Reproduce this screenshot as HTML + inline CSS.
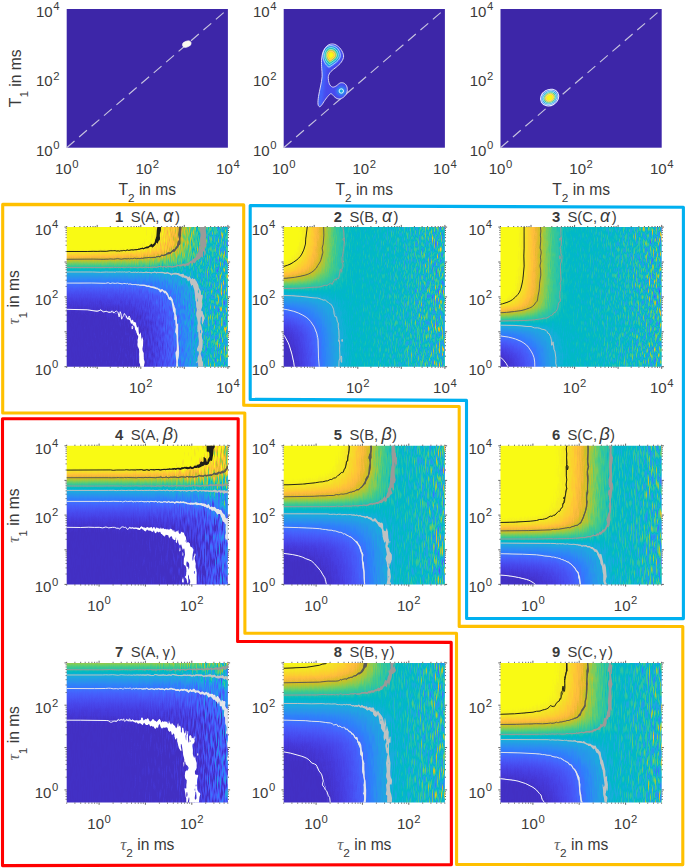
<!DOCTYPE html><html><head><meta charset="utf-8"><style>html,body{margin:0;padding:0;background:#fff}svg{display:block}text{font-family:"Liberation Sans",sans-serif;fill:#3a3a3a}</style></head><body>
<svg width="685" height="868" viewBox="0 0 685 868">
<defs><filter id="hma" x="0" y="0" width="1" height="1" color-interpolation-filters="sRGB">
<feColorMatrix in="SourceGraphic" type="matrix" values="1 0 0 0 0 1 0 0 0 0 1 0 0 0 0 0 0 0 0 1" result="A"/>
<feColorMatrix in="SourceGraphic" type="matrix" values="0 1 0 0 0 0 1 0 0 0 0 1 0 0 0 0 0 0 0 1" result="B"/>
<feColorMatrix in="SourceGraphic" type="matrix" values="0 0 1 0 0 0 0 1 0 0 0 0 1 0 0 0 0 0 0 1" result="M"/>
<feComposite in="A" in2="B" operator="arithmetic" k1="1" k2="0" k3="-0.5" k4="0.465" result="S"/>
<feTurbulence type="fractalNoise" baseFrequency="0.71 0.15" numOctaves="1" seed="4"/><feColorMatrix type="matrix" values="1 0 0 0 0 1 0 0 0 0 1 0 0 0 0 0 0 0 0 1" result="T1"/>
<feTurbulence type="fractalNoise" baseFrequency="0.93 0.19" numOctaves="1" seed="9"/><feColorMatrix type="matrix" values="1 0 0 0 0 1 0 0 0 0 1 0 0 0 0 0 0 0 0 1" result="T2"/>
<feComposite in="T1" in2="T2" operator="arithmetic" k1="0" k2="0.7" k3="0.7" k4="-0.2" result="N"/>
<feComposite in="M" in2="N" operator="arithmetic" k1="1" k2="-0.5" k3="0" k4="0.5" result="Q"/>
<feComposite in="S" in2="Q" operator="arithmetic" k1="0" k2="1" k3="2" k4="-1" result="SN"/>
<feComponentTransfer in="SN"><feFuncR type="table" tableValues=".260 .263 .266 .269 .271 .273 .275 .277 .278 .279 .280 .281 .281 .281 .281 .281 .280 .279 .278 .276 .273 .270 .266 .262 .255 .248 .239 .228 .218 .207 .196 .190 .184 .181 .179 .178 .177 .175 .171 .167 .160 .154 .150 .146 .143 .139 .134 .128 .121 .115 .109 .101 .093 .081 .069 .051 .034 .020 .008 .004 .006 .025 .049 .082 .111 .139 .158 .176 .189 .203 .217 .236 .258 .285 .315 .346 .377 .409 .443 .479 .515 .550 .584 .619 .652 .685 .717 .748 .778 .807 .835 .861 .886 .910 .932 .953 .973 .987 .996 .997 .996 .995 .991 .986 .979 .972 .966 .962 .960 .960 .962 .964 .968 .973 .977 .977 .977 .977 .977 .977 .977 .977 .977 .977 .977 .977 .977 .977"/><feFuncG type="table" tableValues=".187 .195 .202 .210 .218 .227 .236 .246 .256 .266 .276 .286 .297 .307 .317 .327 .337 .347 .357 .367 .377 .388 .398 .409 .419 .430 .441 .452 .463 .474 .485 .496 .506 .516 .526 .536 .545 .555 .564 .573 .582 .591 .600 .608 .617 .625 .634 .642 .650 .658 .666 .674 .681 .688 .695 .701 .707 .713 .718 .723 .730 .736 .742 .748 .753 .758 .763 .769 .774 .779 .785 .789 .793 .797 .799 .801 .802 .803 .802 .801 .798 .795 .792 .787 .782 .777 .771 .765 .759 .753 .747 .741 .736 .732 .730 .729 .730 .738 .749 .763 .777 .792 .807 .822 .837 .853 .868 .884 .899 .914 .929 .943 .957 .972 .984 .984 .984 .984 .984 .984 .984 .984 .984 .984 .984 .984 .984 .984"/><feFuncB type="table" tableValues=".766 .786 .806 .825 .842 .858 .873 .886 .899 .909 .920 .929 .938 .946 .953 .961 .967 .973 .978 .983 .987 .990 .992 .994 .996 .998 .998 .998 .996 .993 .989 .985 .980 .975 .970 .963 .956 .948 .941 .934 .927 .921 .915 .908 .903 .899 .894 .890 .885 .880 .874 .866 .858 .849 .840 .829 .819 .808 .796 .785 .769 .753 .736 .720 .703 .686 .668 .650 .631 .612 .591 .569 .547 .524 .499 .474 .448 .421 .393 .367 .340 .313 .287 .260 .237 .215 .195 .178 .163 .157 .156 .159 .170 .183 .203 .222 .239 .238 .233 .222 .212 .201 .193 .185 .177 .170 .162 .156 .149 .142 .132 .122 .109 .094 .081 .081 .081 .081 .081 .081 .081 .081 .081 .081 .081 .081 .081 .081"/></feComponentTransfer>
</filter><filter id="hmb" x="0" y="0" width="1" height="1" color-interpolation-filters="sRGB">
<feColorMatrix in="SourceGraphic" type="matrix" values="1 0 0 0 0 1 0 0 0 0 1 0 0 0 0 0 0 0 0 1" result="A"/>
<feColorMatrix in="SourceGraphic" type="matrix" values="0 1 0 0 0 0 1 0 0 0 0 1 0 0 0 0 0 0 0 1" result="B"/>
<feColorMatrix in="SourceGraphic" type="matrix" values="0 0 1 0 0 0 0 1 0 0 0 0 1 0 0 0 0 0 0 1" result="M"/>
<feComposite in="A" in2="B" operator="arithmetic" k1="1" k2="0" k3="-0.5" k4="0.465" result="S"/>
<feTurbulence type="fractalNoise" baseFrequency="0.71 0.09" numOctaves="1" seed="7"/><feColorMatrix type="matrix" values="1 0 0 0 0 1 0 0 0 0 1 0 0 0 0 0 0 0 0 1" result="T1"/>
<feTurbulence type="fractalNoise" baseFrequency="0.93 0.12" numOctaves="1" seed="12"/><feColorMatrix type="matrix" values="1 0 0 0 0 1 0 0 0 0 1 0 0 0 0 0 0 0 0 1" result="T2"/>
<feComposite in="T1" in2="T2" operator="arithmetic" k1="0" k2="0.7" k3="0.7" k4="-0.2" result="N"/>
<feComposite in="M" in2="N" operator="arithmetic" k1="1" k2="-0.5" k3="0" k4="0.5" result="Q"/>
<feComposite in="S" in2="Q" operator="arithmetic" k1="0" k2="1" k3="2" k4="-1" result="SN"/>
<feComponentTransfer in="SN"><feFuncR type="table" tableValues=".260 .263 .266 .269 .271 .273 .275 .277 .278 .279 .280 .281 .281 .281 .281 .281 .280 .279 .278 .276 .273 .270 .266 .262 .255 .248 .239 .228 .218 .207 .196 .190 .184 .181 .179 .178 .177 .175 .171 .167 .160 .154 .150 .146 .143 .139 .134 .128 .121 .115 .109 .101 .093 .081 .069 .051 .034 .020 .008 .004 .006 .025 .049 .082 .111 .139 .158 .176 .189 .203 .217 .236 .258 .285 .315 .346 .377 .409 .443 .479 .515 .550 .584 .619 .652 .685 .717 .748 .778 .807 .835 .861 .886 .910 .932 .953 .973 .987 .996 .997 .996 .995 .991 .986 .979 .972 .966 .962 .960 .960 .962 .964 .968 .973 .977 .977 .977 .977 .977 .977 .977 .977 .977 .977 .977 .977 .977 .977"/><feFuncG type="table" tableValues=".187 .195 .202 .210 .218 .227 .236 .246 .256 .266 .276 .286 .297 .307 .317 .327 .337 .347 .357 .367 .377 .388 .398 .409 .419 .430 .441 .452 .463 .474 .485 .496 .506 .516 .526 .536 .545 .555 .564 .573 .582 .591 .600 .608 .617 .625 .634 .642 .650 .658 .666 .674 .681 .688 .695 .701 .707 .713 .718 .723 .730 .736 .742 .748 .753 .758 .763 .769 .774 .779 .785 .789 .793 .797 .799 .801 .802 .803 .802 .801 .798 .795 .792 .787 .782 .777 .771 .765 .759 .753 .747 .741 .736 .732 .730 .729 .730 .738 .749 .763 .777 .792 .807 .822 .837 .853 .868 .884 .899 .914 .929 .943 .957 .972 .984 .984 .984 .984 .984 .984 .984 .984 .984 .984 .984 .984 .984 .984"/><feFuncB type="table" tableValues=".766 .786 .806 .825 .842 .858 .873 .886 .899 .909 .920 .929 .938 .946 .953 .961 .967 .973 .978 .983 .987 .990 .992 .994 .996 .998 .998 .998 .996 .993 .989 .985 .980 .975 .970 .963 .956 .948 .941 .934 .927 .921 .915 .908 .903 .899 .894 .890 .885 .880 .874 .866 .858 .849 .840 .829 .819 .808 .796 .785 .769 .753 .736 .720 .703 .686 .668 .650 .631 .612 .591 .569 .547 .524 .499 .474 .448 .421 .393 .367 .340 .313 .287 .260 .237 .215 .195 .178 .163 .157 .156 .159 .170 .183 .203 .222 .239 .238 .233 .222 .212 .201 .193 .185 .177 .170 .162 .156 .149 .142 .132 .122 .109 .094 .081 .081 .081 .081 .081 .081 .081 .081 .081 .081 .081 .081 .081 .081"/></feComponentTransfer>
</filter><linearGradient id="gy1" gradientUnits="userSpaceOnUse" x1="0" y1="227.1" x2="0" y2="366.7"><stop offset="0" stop-color="#ff0000"/><stop offset="0.021" stop-color="#ff0000"/><stop offset="0.042" stop-color="#ff0000"/><stop offset="0.062" stop-color="#ff0000"/><stop offset="0.083" stop-color="#fe0000"/><stop offset="0.104" stop-color="#fc0000"/><stop offset="0.125" stop-color="#f80000"/><stop offset="0.146" stop-color="#f30000"/><stop offset="0.167" stop-color="#ea0000"/><stop offset="0.188" stop-color="#de0000"/><stop offset="0.208" stop-color="#d00000"/><stop offset="0.229" stop-color="#c00000"/><stop offset="0.25" stop-color="#af0000"/><stop offset="0.271" stop-color="#9d0000"/><stop offset="0.292" stop-color="#8b0000"/><stop offset="0.312" stop-color="#7a0000"/><stop offset="0.333" stop-color="#6a0000"/><stop offset="0.354" stop-color="#5b0000"/><stop offset="0.375" stop-color="#4e0000"/><stop offset="0.396" stop-color="#420000"/><stop offset="0.417" stop-color="#380000"/><stop offset="0.438" stop-color="#2f0000"/><stop offset="0.458" stop-color="#280000"/><stop offset="0.479" stop-color="#210000"/><stop offset="0.5" stop-color="#1c0000"/><stop offset="0.521" stop-color="#170000"/><stop offset="0.542" stop-color="#130000"/><stop offset="0.562" stop-color="#100000"/><stop offset="0.583" stop-color="#0d0000"/><stop offset="0.604" stop-color="#0b0000"/><stop offset="0.625" stop-color="#090000"/><stop offset="0.646" stop-color="#080000"/><stop offset="0.667" stop-color="#060000"/><stop offset="0.688" stop-color="#050000"/><stop offset="0.708" stop-color="#040000"/><stop offset="0.729" stop-color="#040000"/><stop offset="0.75" stop-color="#030000"/><stop offset="0.771" stop-color="#020000"/><stop offset="0.792" stop-color="#020000"/><stop offset="0.812" stop-color="#020000"/><stop offset="0.833" stop-color="#010000"/><stop offset="0.854" stop-color="#010000"/><stop offset="0.875" stop-color="#010000"/><stop offset="0.896" stop-color="#010000"/><stop offset="0.917" stop-color="#010000"/><stop offset="0.938" stop-color="#010000"/><stop offset="0.958" stop-color="#000000"/><stop offset="0.979" stop-color="#000000"/><stop offset="1" stop-color="#000000"/></linearGradient><linearGradient id="gx1" gradientUnits="userSpaceOnUse" x1="66.7" y1="0" x2="227.9" y2="0"><stop offset="0" stop-color="#00ff02"/><stop offset="0.021" stop-color="#00ff03"/><stop offset="0.042" stop-color="#00ff03"/><stop offset="0.062" stop-color="#00ff03"/><stop offset="0.083" stop-color="#00ff03"/><stop offset="0.104" stop-color="#00fe04"/><stop offset="0.125" stop-color="#00fe04"/><stop offset="0.146" stop-color="#00fe04"/><stop offset="0.167" stop-color="#00fd05"/><stop offset="0.188" stop-color="#00fd05"/><stop offset="0.208" stop-color="#00fd06"/><stop offset="0.229" stop-color="#00fc06"/><stop offset="0.25" stop-color="#00fb07"/><stop offset="0.271" stop-color="#00fb07"/><stop offset="0.292" stop-color="#00fa08"/><stop offset="0.312" stop-color="#00f909"/><stop offset="0.333" stop-color="#00f70a"/><stop offset="0.354" stop-color="#00f60a"/><stop offset="0.375" stop-color="#00f40b"/><stop offset="0.396" stop-color="#00f20c"/><stop offset="0.417" stop-color="#00ef0e"/><stop offset="0.438" stop-color="#00ec0f"/><stop offset="0.458" stop-color="#00e910"/><stop offset="0.479" stop-color="#00e512"/><stop offset="0.5" stop-color="#00e013"/><stop offset="0.521" stop-color="#00da15"/><stop offset="0.542" stop-color="#00d317"/><stop offset="0.562" stop-color="#00cc19"/><stop offset="0.583" stop-color="#00c31b"/><stop offset="0.604" stop-color="#00b91e"/><stop offset="0.625" stop-color="#00ae21"/><stop offset="0.646" stop-color="#00a124"/><stop offset="0.667" stop-color="#009327"/><stop offset="0.688" stop-color="#00842a"/><stop offset="0.708" stop-color="#00742e"/><stop offset="0.729" stop-color="#006433"/><stop offset="0.75" stop-color="#005337"/><stop offset="0.771" stop-color="#00433c"/><stop offset="0.792" stop-color="#003442"/><stop offset="0.812" stop-color="#002648"/><stop offset="0.833" stop-color="#001a4e"/><stop offset="0.854" stop-color="#001156"/><stop offset="0.875" stop-color="#000a5d"/><stop offset="0.896" stop-color="#000566"/><stop offset="0.917" stop-color="#00026f"/><stop offset="0.938" stop-color="#000179"/><stop offset="0.958" stop-color="#000085"/><stop offset="0.979" stop-color="#000091"/><stop offset="1" stop-color="#00009e"/></linearGradient><clipPath id="cp1"><rect x="66.7" y="227.1" width="161.2" height="139.6"/></clipPath><linearGradient id="gy2" gradientUnits="userSpaceOnUse" x1="0" y1="227.1" x2="0" y2="366.7"><stop offset="0" stop-color="#fe0000"/><stop offset="0.021" stop-color="#fe0000"/><stop offset="0.042" stop-color="#fd0000"/><stop offset="0.062" stop-color="#fd0000"/><stop offset="0.083" stop-color="#fc0000"/><stop offset="0.104" stop-color="#fb0000"/><stop offset="0.125" stop-color="#fa0000"/><stop offset="0.146" stop-color="#f90000"/><stop offset="0.167" stop-color="#f80000"/><stop offset="0.188" stop-color="#f60000"/><stop offset="0.208" stop-color="#f30000"/><stop offset="0.229" stop-color="#f00000"/><stop offset="0.25" stop-color="#ec0000"/><stop offset="0.271" stop-color="#e80000"/><stop offset="0.292" stop-color="#e30000"/><stop offset="0.312" stop-color="#dc0000"/><stop offset="0.333" stop-color="#d20000"/><stop offset="0.354" stop-color="#c70000"/><stop offset="0.375" stop-color="#bb0000"/><stop offset="0.396" stop-color="#ac0000"/><stop offset="0.417" stop-color="#9c0000"/><stop offset="0.438" stop-color="#8e0000"/><stop offset="0.458" stop-color="#820000"/><stop offset="0.479" stop-color="#780000"/><stop offset="0.5" stop-color="#6d0000"/><stop offset="0.521" stop-color="#620000"/><stop offset="0.542" stop-color="#560000"/><stop offset="0.562" stop-color="#4b0000"/><stop offset="0.583" stop-color="#410000"/><stop offset="0.604" stop-color="#3a0000"/><stop offset="0.625" stop-color="#320000"/><stop offset="0.646" stop-color="#2b0000"/><stop offset="0.667" stop-color="#240000"/><stop offset="0.688" stop-color="#1e0000"/><stop offset="0.708" stop-color="#180000"/><stop offset="0.729" stop-color="#130000"/><stop offset="0.75" stop-color="#100000"/><stop offset="0.771" stop-color="#0d0000"/><stop offset="0.792" stop-color="#0b0000"/><stop offset="0.812" stop-color="#0a0000"/><stop offset="0.833" stop-color="#090000"/><stop offset="0.854" stop-color="#070000"/><stop offset="0.875" stop-color="#060000"/><stop offset="0.896" stop-color="#050000"/><stop offset="0.917" stop-color="#040000"/><stop offset="0.938" stop-color="#040000"/><stop offset="0.958" stop-color="#030000"/><stop offset="0.979" stop-color="#020000"/><stop offset="1" stop-color="#020000"/></linearGradient><linearGradient id="gx2" gradientUnits="userSpaceOnUse" x1="283.7" y1="0" x2="444.9" y2="0"><stop offset="0" stop-color="#00ff02"/><stop offset="0.021" stop-color="#00fa03"/><stop offset="0.042" stop-color="#00f403"/><stop offset="0.062" stop-color="#00ed03"/><stop offset="0.083" stop-color="#00e503"/><stop offset="0.104" stop-color="#00db04"/><stop offset="0.125" stop-color="#00d104"/><stop offset="0.146" stop-color="#00c404"/><stop offset="0.167" stop-color="#00b605"/><stop offset="0.188" stop-color="#00a705"/><stop offset="0.208" stop-color="#009706"/><stop offset="0.229" stop-color="#008506"/><stop offset="0.25" stop-color="#007207"/><stop offset="0.271" stop-color="#005f07"/><stop offset="0.292" stop-color="#004d08"/><stop offset="0.312" stop-color="#003b09"/><stop offset="0.333" stop-color="#002b0a"/><stop offset="0.354" stop-color="#001e0a"/><stop offset="0.375" stop-color="#00130b"/><stop offset="0.396" stop-color="#000b0c"/><stop offset="0.417" stop-color="#00060e"/><stop offset="0.438" stop-color="#00030f"/><stop offset="0.458" stop-color="#000110"/><stop offset="0.479" stop-color="#000012"/><stop offset="0.5" stop-color="#000013"/><stop offset="0.521" stop-color="#000015"/><stop offset="0.542" stop-color="#000017"/><stop offset="0.562" stop-color="#000019"/><stop offset="0.583" stop-color="#00001b"/><stop offset="0.604" stop-color="#00001e"/><stop offset="0.625" stop-color="#000021"/><stop offset="0.646" stop-color="#000024"/><stop offset="0.667" stop-color="#000027"/><stop offset="0.688" stop-color="#00002a"/><stop offset="0.708" stop-color="#00002e"/><stop offset="0.729" stop-color="#000033"/><stop offset="0.75" stop-color="#000037"/><stop offset="0.771" stop-color="#00003c"/><stop offset="0.792" stop-color="#000042"/><stop offset="0.812" stop-color="#000048"/><stop offset="0.833" stop-color="#00004e"/><stop offset="0.854" stop-color="#000056"/><stop offset="0.875" stop-color="#00005d"/><stop offset="0.896" stop-color="#000066"/><stop offset="0.917" stop-color="#00006f"/><stop offset="0.938" stop-color="#000079"/><stop offset="0.958" stop-color="#000085"/><stop offset="0.979" stop-color="#000091"/><stop offset="1" stop-color="#00009e"/></linearGradient><clipPath id="cp2"><rect x="283.7" y="227.1" width="161.2" height="139.6"/></clipPath><linearGradient id="gy3" gradientUnits="userSpaceOnUse" x1="0" y1="227.1" x2="0" y2="366.7"><stop offset="0" stop-color="#ff0000"/><stop offset="0.021" stop-color="#ff0000"/><stop offset="0.042" stop-color="#ff0000"/><stop offset="0.062" stop-color="#ff0000"/><stop offset="0.083" stop-color="#ff0000"/><stop offset="0.104" stop-color="#ff0000"/><stop offset="0.125" stop-color="#ff0000"/><stop offset="0.146" stop-color="#ff0000"/><stop offset="0.167" stop-color="#ff0000"/><stop offset="0.188" stop-color="#ff0000"/><stop offset="0.208" stop-color="#ff0000"/><stop offset="0.229" stop-color="#ff0000"/><stop offset="0.25" stop-color="#ff0000"/><stop offset="0.271" stop-color="#ff0000"/><stop offset="0.292" stop-color="#ff0000"/><stop offset="0.312" stop-color="#fe0000"/><stop offset="0.333" stop-color="#fe0000"/><stop offset="0.354" stop-color="#fd0000"/><stop offset="0.375" stop-color="#fc0000"/><stop offset="0.396" stop-color="#fb0000"/><stop offset="0.417" stop-color="#fa0000"/><stop offset="0.438" stop-color="#f90000"/><stop offset="0.458" stop-color="#f70000"/><stop offset="0.479" stop-color="#f50000"/><stop offset="0.5" stop-color="#f20000"/><stop offset="0.521" stop-color="#ed0000"/><stop offset="0.542" stop-color="#e90000"/><stop offset="0.562" stop-color="#e20000"/><stop offset="0.583" stop-color="#d60000"/><stop offset="0.604" stop-color="#c60000"/><stop offset="0.625" stop-color="#b60000"/><stop offset="0.646" stop-color="#a40000"/><stop offset="0.667" stop-color="#910000"/><stop offset="0.688" stop-color="#7f0000"/><stop offset="0.708" stop-color="#6e0000"/><stop offset="0.729" stop-color="#5f0000"/><stop offset="0.75" stop-color="#500000"/><stop offset="0.771" stop-color="#440000"/><stop offset="0.792" stop-color="#3a0000"/><stop offset="0.812" stop-color="#310000"/><stop offset="0.833" stop-color="#280000"/><stop offset="0.854" stop-color="#200000"/><stop offset="0.875" stop-color="#190000"/><stop offset="0.896" stop-color="#140000"/><stop offset="0.917" stop-color="#0f0000"/><stop offset="0.938" stop-color="#0c0000"/><stop offset="0.958" stop-color="#0a0000"/><stop offset="0.979" stop-color="#070000"/><stop offset="1" stop-color="#060000"/></linearGradient><linearGradient id="gx3" gradientUnits="userSpaceOnUse" x1="500.5" y1="0" x2="661.7" y2="0"><stop offset="0" stop-color="#00ff02"/><stop offset="0.021" stop-color="#00fa03"/><stop offset="0.042" stop-color="#00f403"/><stop offset="0.062" stop-color="#00ed03"/><stop offset="0.083" stop-color="#00e503"/><stop offset="0.104" stop-color="#00db04"/><stop offset="0.125" stop-color="#00d104"/><stop offset="0.146" stop-color="#00c404"/><stop offset="0.167" stop-color="#00b605"/><stop offset="0.188" stop-color="#00a705"/><stop offset="0.208" stop-color="#009706"/><stop offset="0.229" stop-color="#008506"/><stop offset="0.25" stop-color="#007207"/><stop offset="0.271" stop-color="#005f07"/><stop offset="0.292" stop-color="#004d08"/><stop offset="0.312" stop-color="#003b09"/><stop offset="0.333" stop-color="#002b0a"/><stop offset="0.354" stop-color="#001e0a"/><stop offset="0.375" stop-color="#00130b"/><stop offset="0.396" stop-color="#000b0c"/><stop offset="0.417" stop-color="#00060e"/><stop offset="0.438" stop-color="#00030f"/><stop offset="0.458" stop-color="#000110"/><stop offset="0.479" stop-color="#000012"/><stop offset="0.5" stop-color="#000013"/><stop offset="0.521" stop-color="#000015"/><stop offset="0.542" stop-color="#000017"/><stop offset="0.562" stop-color="#000019"/><stop offset="0.583" stop-color="#00001b"/><stop offset="0.604" stop-color="#00001e"/><stop offset="0.625" stop-color="#000021"/><stop offset="0.646" stop-color="#000024"/><stop offset="0.667" stop-color="#000027"/><stop offset="0.688" stop-color="#00002a"/><stop offset="0.708" stop-color="#00002e"/><stop offset="0.729" stop-color="#000033"/><stop offset="0.75" stop-color="#000037"/><stop offset="0.771" stop-color="#00003c"/><stop offset="0.792" stop-color="#000042"/><stop offset="0.812" stop-color="#000048"/><stop offset="0.833" stop-color="#00004e"/><stop offset="0.854" stop-color="#000056"/><stop offset="0.875" stop-color="#00005d"/><stop offset="0.896" stop-color="#000066"/><stop offset="0.917" stop-color="#00006f"/><stop offset="0.938" stop-color="#000079"/><stop offset="0.958" stop-color="#000085"/><stop offset="0.979" stop-color="#000091"/><stop offset="1" stop-color="#00009e"/></linearGradient><clipPath id="cp3"><rect x="500.5" y="227.1" width="161.2" height="139.6"/></clipPath><linearGradient id="gy4" gradientUnits="userSpaceOnUse" x1="0" y1="445.8" x2="0" y2="584.4"><stop offset="0" stop-color="#ff0000"/><stop offset="0.021" stop-color="#ff0000"/><stop offset="0.042" stop-color="#ff0000"/><stop offset="0.062" stop-color="#ff0000"/><stop offset="0.083" stop-color="#fe0000"/><stop offset="0.104" stop-color="#fc0000"/><stop offset="0.125" stop-color="#f80000"/><stop offset="0.146" stop-color="#f30000"/><stop offset="0.167" stop-color="#ea0000"/><stop offset="0.188" stop-color="#de0000"/><stop offset="0.208" stop-color="#d00000"/><stop offset="0.229" stop-color="#c00000"/><stop offset="0.25" stop-color="#af0000"/><stop offset="0.271" stop-color="#9d0000"/><stop offset="0.292" stop-color="#8b0000"/><stop offset="0.312" stop-color="#7a0000"/><stop offset="0.333" stop-color="#6a0000"/><stop offset="0.354" stop-color="#5b0000"/><stop offset="0.375" stop-color="#4e0000"/><stop offset="0.396" stop-color="#420000"/><stop offset="0.417" stop-color="#380000"/><stop offset="0.438" stop-color="#2f0000"/><stop offset="0.458" stop-color="#280000"/><stop offset="0.479" stop-color="#210000"/><stop offset="0.5" stop-color="#1c0000"/><stop offset="0.521" stop-color="#170000"/><stop offset="0.542" stop-color="#130000"/><stop offset="0.562" stop-color="#100000"/><stop offset="0.583" stop-color="#0d0000"/><stop offset="0.604" stop-color="#0b0000"/><stop offset="0.625" stop-color="#090000"/><stop offset="0.646" stop-color="#080000"/><stop offset="0.667" stop-color="#060000"/><stop offset="0.688" stop-color="#050000"/><stop offset="0.708" stop-color="#040000"/><stop offset="0.729" stop-color="#040000"/><stop offset="0.75" stop-color="#030000"/><stop offset="0.771" stop-color="#020000"/><stop offset="0.792" stop-color="#020000"/><stop offset="0.812" stop-color="#020000"/><stop offset="0.833" stop-color="#010000"/><stop offset="0.854" stop-color="#010000"/><stop offset="0.875" stop-color="#010000"/><stop offset="0.896" stop-color="#010000"/><stop offset="0.917" stop-color="#010000"/><stop offset="0.938" stop-color="#010000"/><stop offset="0.958" stop-color="#000000"/><stop offset="0.979" stop-color="#000000"/><stop offset="1" stop-color="#000000"/></linearGradient><linearGradient id="gx4" gradientUnits="userSpaceOnUse" x1="66.7" y1="0" x2="227.9" y2="0"><stop offset="0" stop-color="#00ff01"/><stop offset="0.021" stop-color="#00ff01"/><stop offset="0.042" stop-color="#00ff01"/><stop offset="0.062" stop-color="#00ff01"/><stop offset="0.083" stop-color="#00ff01"/><stop offset="0.104" stop-color="#00ff01"/><stop offset="0.125" stop-color="#00ff01"/><stop offset="0.146" stop-color="#00ff01"/><stop offset="0.167" stop-color="#00ff02"/><stop offset="0.188" stop-color="#00ff02"/><stop offset="0.208" stop-color="#00ff02"/><stop offset="0.229" stop-color="#00ff02"/><stop offset="0.25" stop-color="#00ff02"/><stop offset="0.271" stop-color="#00ff03"/><stop offset="0.292" stop-color="#00ff03"/><stop offset="0.312" stop-color="#00fe03"/><stop offset="0.333" stop-color="#00fe04"/><stop offset="0.354" stop-color="#00fe04"/><stop offset="0.375" stop-color="#00fe05"/><stop offset="0.396" stop-color="#00fe05"/><stop offset="0.417" stop-color="#00fe06"/><stop offset="0.438" stop-color="#00fd07"/><stop offset="0.458" stop-color="#00fd08"/><stop offset="0.479" stop-color="#00fd09"/><stop offset="0.5" stop-color="#00fc0a"/><stop offset="0.521" stop-color="#00fc0b"/><stop offset="0.542" stop-color="#00fb0c"/><stop offset="0.562" stop-color="#00fb0e"/><stop offset="0.583" stop-color="#00fa0f"/><stop offset="0.604" stop-color="#00f911"/><stop offset="0.625" stop-color="#00f813"/><stop offset="0.646" stop-color="#00f716"/><stop offset="0.667" stop-color="#00f518"/><stop offset="0.688" stop-color="#00f31b"/><stop offset="0.708" stop-color="#00f11f"/><stop offset="0.729" stop-color="#00ef22"/><stop offset="0.75" stop-color="#00ec26"/><stop offset="0.771" stop-color="#00e92b"/><stop offset="0.792" stop-color="#00e530"/><stop offset="0.812" stop-color="#00e136"/><stop offset="0.833" stop-color="#00dc3d"/><stop offset="0.854" stop-color="#00d644"/><stop offset="0.875" stop-color="#00cf4c"/><stop offset="0.896" stop-color="#00c756"/><stop offset="0.917" stop-color="#00bf60"/><stop offset="0.938" stop-color="#00b56c"/><stop offset="0.958" stop-color="#00aa79"/><stop offset="0.979" stop-color="#009e87"/><stop offset="1" stop-color="#009098"/></linearGradient><clipPath id="cp4"><rect x="66.7" y="445.8" width="161.2" height="138.6"/></clipPath><linearGradient id="gy5" gradientUnits="userSpaceOnUse" x1="0" y1="445.8" x2="0" y2="584.4"><stop offset="0" stop-color="#fe0000"/><stop offset="0.021" stop-color="#fe0000"/><stop offset="0.042" stop-color="#fd0000"/><stop offset="0.062" stop-color="#fd0000"/><stop offset="0.083" stop-color="#fc0000"/><stop offset="0.104" stop-color="#fb0000"/><stop offset="0.125" stop-color="#fa0000"/><stop offset="0.146" stop-color="#f90000"/><stop offset="0.167" stop-color="#f80000"/><stop offset="0.188" stop-color="#f60000"/><stop offset="0.208" stop-color="#f30000"/><stop offset="0.229" stop-color="#f00000"/><stop offset="0.25" stop-color="#ec0000"/><stop offset="0.271" stop-color="#e80000"/><stop offset="0.292" stop-color="#e30000"/><stop offset="0.312" stop-color="#dc0000"/><stop offset="0.333" stop-color="#d20000"/><stop offset="0.354" stop-color="#c70000"/><stop offset="0.375" stop-color="#bb0000"/><stop offset="0.396" stop-color="#ac0000"/><stop offset="0.417" stop-color="#9c0000"/><stop offset="0.438" stop-color="#8e0000"/><stop offset="0.458" stop-color="#820000"/><stop offset="0.479" stop-color="#780000"/><stop offset="0.5" stop-color="#6d0000"/><stop offset="0.521" stop-color="#620000"/><stop offset="0.542" stop-color="#560000"/><stop offset="0.562" stop-color="#4b0000"/><stop offset="0.583" stop-color="#410000"/><stop offset="0.604" stop-color="#3a0000"/><stop offset="0.625" stop-color="#320000"/><stop offset="0.646" stop-color="#2b0000"/><stop offset="0.667" stop-color="#240000"/><stop offset="0.688" stop-color="#1e0000"/><stop offset="0.708" stop-color="#180000"/><stop offset="0.729" stop-color="#130000"/><stop offset="0.75" stop-color="#100000"/><stop offset="0.771" stop-color="#0d0000"/><stop offset="0.792" stop-color="#0b0000"/><stop offset="0.812" stop-color="#0a0000"/><stop offset="0.833" stop-color="#090000"/><stop offset="0.854" stop-color="#070000"/><stop offset="0.875" stop-color="#060000"/><stop offset="0.896" stop-color="#050000"/><stop offset="0.917" stop-color="#040000"/><stop offset="0.938" stop-color="#040000"/><stop offset="0.958" stop-color="#030000"/><stop offset="0.979" stop-color="#020000"/><stop offset="1" stop-color="#020000"/></linearGradient><linearGradient id="gx5" gradientUnits="userSpaceOnUse" x1="283.7" y1="0" x2="444.9" y2="0"><stop offset="0" stop-color="#00ff01"/><stop offset="0.021" stop-color="#00ff01"/><stop offset="0.042" stop-color="#00fe01"/><stop offset="0.062" stop-color="#00fd01"/><stop offset="0.083" stop-color="#00fd01"/><stop offset="0.104" stop-color="#00fc01"/><stop offset="0.125" stop-color="#00fb01"/><stop offset="0.146" stop-color="#00f901"/><stop offset="0.167" stop-color="#00f802"/><stop offset="0.188" stop-color="#00f602"/><stop offset="0.208" stop-color="#00f402"/><stop offset="0.229" stop-color="#00f202"/><stop offset="0.25" stop-color="#00ef02"/><stop offset="0.271" stop-color="#00ec03"/><stop offset="0.292" stop-color="#00e803"/><stop offset="0.312" stop-color="#00e303"/><stop offset="0.333" stop-color="#00de04"/><stop offset="0.354" stop-color="#00d804"/><stop offset="0.375" stop-color="#00d105"/><stop offset="0.396" stop-color="#00c905"/><stop offset="0.417" stop-color="#00c006"/><stop offset="0.438" stop-color="#00b607"/><stop offset="0.458" stop-color="#00aa08"/><stop offset="0.479" stop-color="#009d09"/><stop offset="0.5" stop-color="#00900a"/><stop offset="0.521" stop-color="#00810b"/><stop offset="0.542" stop-color="#00710c"/><stop offset="0.562" stop-color="#00610e"/><stop offset="0.583" stop-color="#00510f"/><stop offset="0.604" stop-color="#004111"/><stop offset="0.625" stop-color="#003213"/><stop offset="0.646" stop-color="#002516"/><stop offset="0.667" stop-color="#001a18"/><stop offset="0.688" stop-color="#00111b"/><stop offset="0.708" stop-color="#000a1f"/><stop offset="0.729" stop-color="#000522"/><stop offset="0.75" stop-color="#000326"/><stop offset="0.771" stop-color="#00012b"/><stop offset="0.792" stop-color="#000030"/><stop offset="0.812" stop-color="#000036"/><stop offset="0.833" stop-color="#00003d"/><stop offset="0.854" stop-color="#000044"/><stop offset="0.875" stop-color="#00004c"/><stop offset="0.896" stop-color="#000056"/><stop offset="0.917" stop-color="#000060"/><stop offset="0.938" stop-color="#00006c"/><stop offset="0.958" stop-color="#000079"/><stop offset="0.979" stop-color="#000087"/><stop offset="1" stop-color="#000098"/></linearGradient><clipPath id="cp5"><rect x="283.7" y="445.8" width="161.2" height="138.6"/></clipPath><linearGradient id="gy6" gradientUnits="userSpaceOnUse" x1="0" y1="445.8" x2="0" y2="584.4"><stop offset="0" stop-color="#ff0000"/><stop offset="0.021" stop-color="#ff0000"/><stop offset="0.042" stop-color="#ff0000"/><stop offset="0.062" stop-color="#ff0000"/><stop offset="0.083" stop-color="#ff0000"/><stop offset="0.104" stop-color="#ff0000"/><stop offset="0.125" stop-color="#ff0000"/><stop offset="0.146" stop-color="#ff0000"/><stop offset="0.167" stop-color="#ff0000"/><stop offset="0.188" stop-color="#ff0000"/><stop offset="0.208" stop-color="#ff0000"/><stop offset="0.229" stop-color="#ff0000"/><stop offset="0.25" stop-color="#ff0000"/><stop offset="0.271" stop-color="#ff0000"/><stop offset="0.292" stop-color="#ff0000"/><stop offset="0.312" stop-color="#fe0000"/><stop offset="0.333" stop-color="#fe0000"/><stop offset="0.354" stop-color="#fd0000"/><stop offset="0.375" stop-color="#fc0000"/><stop offset="0.396" stop-color="#fb0000"/><stop offset="0.417" stop-color="#fa0000"/><stop offset="0.438" stop-color="#f90000"/><stop offset="0.458" stop-color="#f70000"/><stop offset="0.479" stop-color="#f50000"/><stop offset="0.5" stop-color="#f20000"/><stop offset="0.521" stop-color="#ed0000"/><stop offset="0.542" stop-color="#e90000"/><stop offset="0.562" stop-color="#e20000"/><stop offset="0.583" stop-color="#d60000"/><stop offset="0.604" stop-color="#c60000"/><stop offset="0.625" stop-color="#b60000"/><stop offset="0.646" stop-color="#a40000"/><stop offset="0.667" stop-color="#910000"/><stop offset="0.688" stop-color="#7f0000"/><stop offset="0.708" stop-color="#6e0000"/><stop offset="0.729" stop-color="#5f0000"/><stop offset="0.75" stop-color="#500000"/><stop offset="0.771" stop-color="#440000"/><stop offset="0.792" stop-color="#3a0000"/><stop offset="0.812" stop-color="#310000"/><stop offset="0.833" stop-color="#280000"/><stop offset="0.854" stop-color="#200000"/><stop offset="0.875" stop-color="#190000"/><stop offset="0.896" stop-color="#140000"/><stop offset="0.917" stop-color="#0f0000"/><stop offset="0.938" stop-color="#0c0000"/><stop offset="0.958" stop-color="#0a0000"/><stop offset="0.979" stop-color="#070000"/><stop offset="1" stop-color="#060000"/></linearGradient><linearGradient id="gx6" gradientUnits="userSpaceOnUse" x1="500.5" y1="0" x2="661.7" y2="0"><stop offset="0" stop-color="#00ff01"/><stop offset="0.021" stop-color="#00ff01"/><stop offset="0.042" stop-color="#00fe01"/><stop offset="0.062" stop-color="#00fd01"/><stop offset="0.083" stop-color="#00fd01"/><stop offset="0.104" stop-color="#00fc01"/><stop offset="0.125" stop-color="#00fb01"/><stop offset="0.146" stop-color="#00f901"/><stop offset="0.167" stop-color="#00f802"/><stop offset="0.188" stop-color="#00f602"/><stop offset="0.208" stop-color="#00f402"/><stop offset="0.229" stop-color="#00f202"/><stop offset="0.25" stop-color="#00ef02"/><stop offset="0.271" stop-color="#00ec03"/><stop offset="0.292" stop-color="#00e803"/><stop offset="0.312" stop-color="#00e303"/><stop offset="0.333" stop-color="#00de04"/><stop offset="0.354" stop-color="#00d804"/><stop offset="0.375" stop-color="#00d105"/><stop offset="0.396" stop-color="#00c905"/><stop offset="0.417" stop-color="#00c006"/><stop offset="0.438" stop-color="#00b607"/><stop offset="0.458" stop-color="#00aa08"/><stop offset="0.479" stop-color="#009d09"/><stop offset="0.5" stop-color="#00900a"/><stop offset="0.521" stop-color="#00810b"/><stop offset="0.542" stop-color="#00710c"/><stop offset="0.562" stop-color="#00610e"/><stop offset="0.583" stop-color="#00510f"/><stop offset="0.604" stop-color="#004111"/><stop offset="0.625" stop-color="#003213"/><stop offset="0.646" stop-color="#002516"/><stop offset="0.667" stop-color="#001a18"/><stop offset="0.688" stop-color="#00111b"/><stop offset="0.708" stop-color="#000a1f"/><stop offset="0.729" stop-color="#000522"/><stop offset="0.75" stop-color="#000326"/><stop offset="0.771" stop-color="#00012b"/><stop offset="0.792" stop-color="#000030"/><stop offset="0.812" stop-color="#000036"/><stop offset="0.833" stop-color="#00003d"/><stop offset="0.854" stop-color="#000044"/><stop offset="0.875" stop-color="#00004c"/><stop offset="0.896" stop-color="#000056"/><stop offset="0.917" stop-color="#000060"/><stop offset="0.938" stop-color="#00006c"/><stop offset="0.958" stop-color="#000079"/><stop offset="0.979" stop-color="#000087"/><stop offset="1" stop-color="#000098"/></linearGradient><clipPath id="cp6"><rect x="500.5" y="445.8" width="161.2" height="138.6"/></clipPath><linearGradient id="gy7" gradientUnits="userSpaceOnUse" x1="0" y1="662.9" x2="0" y2="802.6"><stop offset="0" stop-color="#af0000"/><stop offset="0.021" stop-color="#a00000"/><stop offset="0.042" stop-color="#910000"/><stop offset="0.062" stop-color="#830000"/><stop offset="0.083" stop-color="#750000"/><stop offset="0.104" stop-color="#680000"/><stop offset="0.125" stop-color="#5c0000"/><stop offset="0.146" stop-color="#510000"/><stop offset="0.167" stop-color="#470000"/><stop offset="0.188" stop-color="#3e0000"/><stop offset="0.208" stop-color="#360000"/><stop offset="0.229" stop-color="#2f0000"/><stop offset="0.25" stop-color="#290000"/><stop offset="0.271" stop-color="#230000"/><stop offset="0.292" stop-color="#1e0000"/><stop offset="0.312" stop-color="#1a0000"/><stop offset="0.333" stop-color="#160000"/><stop offset="0.354" stop-color="#130000"/><stop offset="0.375" stop-color="#110000"/><stop offset="0.396" stop-color="#0e0000"/><stop offset="0.417" stop-color="#0c0000"/><stop offset="0.438" stop-color="#0a0000"/><stop offset="0.458" stop-color="#090000"/><stop offset="0.479" stop-color="#080000"/><stop offset="0.5" stop-color="#070000"/><stop offset="0.521" stop-color="#060000"/><stop offset="0.542" stop-color="#050000"/><stop offset="0.562" stop-color="#040000"/><stop offset="0.583" stop-color="#030000"/><stop offset="0.604" stop-color="#030000"/><stop offset="0.625" stop-color="#030000"/><stop offset="0.646" stop-color="#020000"/><stop offset="0.667" stop-color="#020000"/><stop offset="0.688" stop-color="#020000"/><stop offset="0.708" stop-color="#010000"/><stop offset="0.729" stop-color="#010000"/><stop offset="0.75" stop-color="#010000"/><stop offset="0.771" stop-color="#010000"/><stop offset="0.792" stop-color="#010000"/><stop offset="0.812" stop-color="#010000"/><stop offset="0.833" stop-color="#010000"/><stop offset="0.854" stop-color="#000000"/><stop offset="0.875" stop-color="#000000"/><stop offset="0.896" stop-color="#000000"/><stop offset="0.917" stop-color="#000000"/><stop offset="0.938" stop-color="#000000"/><stop offset="0.958" stop-color="#000000"/><stop offset="0.979" stop-color="#000000"/><stop offset="1" stop-color="#000000"/></linearGradient><linearGradient id="gx7" gradientUnits="userSpaceOnUse" x1="66.7" y1="0" x2="227.9" y2="0"><stop offset="0" stop-color="#00ff01"/><stop offset="0.021" stop-color="#00ff01"/><stop offset="0.042" stop-color="#00ff01"/><stop offset="0.062" stop-color="#00ff01"/><stop offset="0.083" stop-color="#00ff01"/><stop offset="0.104" stop-color="#00ff01"/><stop offset="0.125" stop-color="#00ff01"/><stop offset="0.146" stop-color="#00ff01"/><stop offset="0.167" stop-color="#00ff02"/><stop offset="0.188" stop-color="#00ff02"/><stop offset="0.208" stop-color="#00ff02"/><stop offset="0.229" stop-color="#00ff02"/><stop offset="0.25" stop-color="#00ff02"/><stop offset="0.271" stop-color="#00ff03"/><stop offset="0.292" stop-color="#00ff03"/><stop offset="0.312" stop-color="#00fe03"/><stop offset="0.333" stop-color="#00fe04"/><stop offset="0.354" stop-color="#00fe04"/><stop offset="0.375" stop-color="#00fe05"/><stop offset="0.396" stop-color="#00fe05"/><stop offset="0.417" stop-color="#00fe06"/><stop offset="0.438" stop-color="#00fd07"/><stop offset="0.458" stop-color="#00fd08"/><stop offset="0.479" stop-color="#00fd09"/><stop offset="0.5" stop-color="#00fc0a"/><stop offset="0.521" stop-color="#00fc0b"/><stop offset="0.542" stop-color="#00fb0c"/><stop offset="0.562" stop-color="#00fb0e"/><stop offset="0.583" stop-color="#00fa0f"/><stop offset="0.604" stop-color="#00f911"/><stop offset="0.625" stop-color="#00f813"/><stop offset="0.646" stop-color="#00f716"/><stop offset="0.667" stop-color="#00f518"/><stop offset="0.688" stop-color="#00f31b"/><stop offset="0.708" stop-color="#00f11f"/><stop offset="0.729" stop-color="#00ef22"/><stop offset="0.75" stop-color="#00ec26"/><stop offset="0.771" stop-color="#00e92b"/><stop offset="0.792" stop-color="#00e530"/><stop offset="0.812" stop-color="#00e136"/><stop offset="0.833" stop-color="#00dc3d"/><stop offset="0.854" stop-color="#00d644"/><stop offset="0.875" stop-color="#00cf4c"/><stop offset="0.896" stop-color="#00c756"/><stop offset="0.917" stop-color="#00bf60"/><stop offset="0.938" stop-color="#00b56c"/><stop offset="0.958" stop-color="#00aa79"/><stop offset="0.979" stop-color="#009e87"/><stop offset="1" stop-color="#009098"/></linearGradient><clipPath id="cp7"><rect x="66.7" y="662.9" width="161.2" height="139.7"/></clipPath><linearGradient id="gy8" gradientUnits="userSpaceOnUse" x1="0" y1="662.9" x2="0" y2="802.6"><stop offset="0" stop-color="#ec0000"/><stop offset="0.021" stop-color="#e90000"/><stop offset="0.042" stop-color="#e50000"/><stop offset="0.062" stop-color="#e00000"/><stop offset="0.083" stop-color="#d90000"/><stop offset="0.104" stop-color="#d00000"/><stop offset="0.125" stop-color="#c70000"/><stop offset="0.146" stop-color="#be0000"/><stop offset="0.167" stop-color="#b20000"/><stop offset="0.188" stop-color="#a50000"/><stop offset="0.208" stop-color="#980000"/><stop offset="0.229" stop-color="#8d0000"/><stop offset="0.25" stop-color="#830000"/><stop offset="0.271" stop-color="#7b0000"/><stop offset="0.292" stop-color="#720000"/><stop offset="0.312" stop-color="#690000"/><stop offset="0.333" stop-color="#5f0000"/><stop offset="0.354" stop-color="#560000"/><stop offset="0.375" stop-color="#4c0000"/><stop offset="0.396" stop-color="#440000"/><stop offset="0.417" stop-color="#3d0000"/><stop offset="0.438" stop-color="#370000"/><stop offset="0.458" stop-color="#310000"/><stop offset="0.479" stop-color="#2b0000"/><stop offset="0.5" stop-color="#250000"/><stop offset="0.521" stop-color="#200000"/><stop offset="0.542" stop-color="#1b0000"/><stop offset="0.562" stop-color="#170000"/><stop offset="0.583" stop-color="#130000"/><stop offset="0.604" stop-color="#100000"/><stop offset="0.625" stop-color="#0e0000"/><stop offset="0.646" stop-color="#0c0000"/><stop offset="0.667" stop-color="#0b0000"/><stop offset="0.688" stop-color="#0a0000"/><stop offset="0.708" stop-color="#080000"/><stop offset="0.729" stop-color="#070000"/><stop offset="0.75" stop-color="#070000"/><stop offset="0.771" stop-color="#060000"/><stop offset="0.792" stop-color="#050000"/><stop offset="0.812" stop-color="#040000"/><stop offset="0.833" stop-color="#040000"/><stop offset="0.854" stop-color="#030000"/><stop offset="0.875" stop-color="#030000"/><stop offset="0.896" stop-color="#020000"/><stop offset="0.917" stop-color="#020000"/><stop offset="0.938" stop-color="#010000"/><stop offset="0.958" stop-color="#010000"/><stop offset="0.979" stop-color="#010000"/><stop offset="1" stop-color="#010000"/></linearGradient><linearGradient id="gx8" gradientUnits="userSpaceOnUse" x1="283.7" y1="0" x2="444.9" y2="0"><stop offset="0" stop-color="#00ff01"/><stop offset="0.021" stop-color="#00ff01"/><stop offset="0.042" stop-color="#00fe01"/><stop offset="0.062" stop-color="#00fd01"/><stop offset="0.083" stop-color="#00fd01"/><stop offset="0.104" stop-color="#00fc01"/><stop offset="0.125" stop-color="#00fb01"/><stop offset="0.146" stop-color="#00f901"/><stop offset="0.167" stop-color="#00f802"/><stop offset="0.188" stop-color="#00f602"/><stop offset="0.208" stop-color="#00f402"/><stop offset="0.229" stop-color="#00f202"/><stop offset="0.25" stop-color="#00ef02"/><stop offset="0.271" stop-color="#00ec03"/><stop offset="0.292" stop-color="#00e803"/><stop offset="0.312" stop-color="#00e303"/><stop offset="0.333" stop-color="#00de04"/><stop offset="0.354" stop-color="#00d804"/><stop offset="0.375" stop-color="#00d105"/><stop offset="0.396" stop-color="#00c905"/><stop offset="0.417" stop-color="#00c006"/><stop offset="0.438" stop-color="#00b607"/><stop offset="0.458" stop-color="#00aa08"/><stop offset="0.479" stop-color="#009d09"/><stop offset="0.5" stop-color="#00900a"/><stop offset="0.521" stop-color="#00810b"/><stop offset="0.542" stop-color="#00710c"/><stop offset="0.562" stop-color="#00610e"/><stop offset="0.583" stop-color="#00510f"/><stop offset="0.604" stop-color="#004111"/><stop offset="0.625" stop-color="#003213"/><stop offset="0.646" stop-color="#002516"/><stop offset="0.667" stop-color="#001a18"/><stop offset="0.688" stop-color="#00111b"/><stop offset="0.708" stop-color="#000a1f"/><stop offset="0.729" stop-color="#000522"/><stop offset="0.75" stop-color="#000326"/><stop offset="0.771" stop-color="#00012b"/><stop offset="0.792" stop-color="#000030"/><stop offset="0.812" stop-color="#000036"/><stop offset="0.833" stop-color="#00003d"/><stop offset="0.854" stop-color="#000044"/><stop offset="0.875" stop-color="#00004c"/><stop offset="0.896" stop-color="#000056"/><stop offset="0.917" stop-color="#000060"/><stop offset="0.938" stop-color="#00006c"/><stop offset="0.958" stop-color="#000079"/><stop offset="0.979" stop-color="#000087"/><stop offset="1" stop-color="#000098"/></linearGradient><clipPath id="cp8"><rect x="283.7" y="662.9" width="161.2" height="139.7"/></clipPath><linearGradient id="gy9" gradientUnits="userSpaceOnUse" x1="0" y1="662.9" x2="0" y2="802.6"><stop offset="0" stop-color="#ff0000"/><stop offset="0.021" stop-color="#ff0000"/><stop offset="0.042" stop-color="#ff0000"/><stop offset="0.062" stop-color="#fe0000"/><stop offset="0.083" stop-color="#fe0000"/><stop offset="0.104" stop-color="#fe0000"/><stop offset="0.125" stop-color="#fd0000"/><stop offset="0.146" stop-color="#fc0000"/><stop offset="0.167" stop-color="#fc0000"/><stop offset="0.188" stop-color="#fb0000"/><stop offset="0.208" stop-color="#fa0000"/><stop offset="0.229" stop-color="#f90000"/><stop offset="0.25" stop-color="#f80000"/><stop offset="0.271" stop-color="#f60000"/><stop offset="0.292" stop-color="#f30000"/><stop offset="0.312" stop-color="#f00000"/><stop offset="0.333" stop-color="#ed0000"/><stop offset="0.354" stop-color="#e90000"/><stop offset="0.375" stop-color="#e40000"/><stop offset="0.396" stop-color="#db0000"/><stop offset="0.417" stop-color="#ce0000"/><stop offset="0.438" stop-color="#c10000"/><stop offset="0.458" stop-color="#b40000"/><stop offset="0.479" stop-color="#a50000"/><stop offset="0.5" stop-color="#950000"/><stop offset="0.521" stop-color="#860000"/><stop offset="0.542" stop-color="#770000"/><stop offset="0.562" stop-color="#6a0000"/><stop offset="0.583" stop-color="#5d0000"/><stop offset="0.604" stop-color="#510000"/><stop offset="0.625" stop-color="#460000"/><stop offset="0.646" stop-color="#3e0000"/><stop offset="0.667" stop-color="#360000"/><stop offset="0.688" stop-color="#2f0000"/><stop offset="0.708" stop-color="#280000"/><stop offset="0.729" stop-color="#210000"/><stop offset="0.75" stop-color="#1b0000"/><stop offset="0.771" stop-color="#160000"/><stop offset="0.792" stop-color="#120000"/><stop offset="0.812" stop-color="#0f0000"/><stop offset="0.833" stop-color="#0c0000"/><stop offset="0.854" stop-color="#0a0000"/><stop offset="0.875" stop-color="#080000"/><stop offset="0.896" stop-color="#060000"/><stop offset="0.917" stop-color="#050000"/><stop offset="0.938" stop-color="#040000"/><stop offset="0.958" stop-color="#030000"/><stop offset="0.979" stop-color="#020000"/><stop offset="1" stop-color="#010000"/></linearGradient><linearGradient id="gx9" gradientUnits="userSpaceOnUse" x1="500.5" y1="0" x2="661.7" y2="0"><stop offset="0" stop-color="#00ff01"/><stop offset="0.021" stop-color="#00ff01"/><stop offset="0.042" stop-color="#00fe01"/><stop offset="0.062" stop-color="#00fd01"/><stop offset="0.083" stop-color="#00fd01"/><stop offset="0.104" stop-color="#00fc01"/><stop offset="0.125" stop-color="#00fb01"/><stop offset="0.146" stop-color="#00f901"/><stop offset="0.167" stop-color="#00f802"/><stop offset="0.188" stop-color="#00f602"/><stop offset="0.208" stop-color="#00f402"/><stop offset="0.229" stop-color="#00f202"/><stop offset="0.25" stop-color="#00ef02"/><stop offset="0.271" stop-color="#00ec03"/><stop offset="0.292" stop-color="#00e803"/><stop offset="0.312" stop-color="#00e303"/><stop offset="0.333" stop-color="#00de04"/><stop offset="0.354" stop-color="#00d804"/><stop offset="0.375" stop-color="#00d105"/><stop offset="0.396" stop-color="#00c905"/><stop offset="0.417" stop-color="#00c006"/><stop offset="0.438" stop-color="#00b607"/><stop offset="0.458" stop-color="#00aa08"/><stop offset="0.479" stop-color="#009d09"/><stop offset="0.5" stop-color="#00900a"/><stop offset="0.521" stop-color="#00810b"/><stop offset="0.542" stop-color="#00710c"/><stop offset="0.562" stop-color="#00610e"/><stop offset="0.583" stop-color="#00510f"/><stop offset="0.604" stop-color="#004111"/><stop offset="0.625" stop-color="#003213"/><stop offset="0.646" stop-color="#002516"/><stop offset="0.667" stop-color="#001a18"/><stop offset="0.688" stop-color="#00111b"/><stop offset="0.708" stop-color="#000a1f"/><stop offset="0.729" stop-color="#000522"/><stop offset="0.75" stop-color="#000326"/><stop offset="0.771" stop-color="#00012b"/><stop offset="0.792" stop-color="#000030"/><stop offset="0.812" stop-color="#000036"/><stop offset="0.833" stop-color="#00003d"/><stop offset="0.854" stop-color="#000044"/><stop offset="0.875" stop-color="#00004c"/><stop offset="0.896" stop-color="#000056"/><stop offset="0.917" stop-color="#000060"/><stop offset="0.938" stop-color="#00006c"/><stop offset="0.958" stop-color="#000079"/><stop offset="0.979" stop-color="#000087"/><stop offset="1" stop-color="#000098"/></linearGradient><clipPath id="cp9"><rect x="500.5" y="662.9" width="161.2" height="139.7"/></clipPath></defs>
<g clip-path="url(#cp1)"><g filter="url(#hma)"><rect x="63" y="224" width="168" height="146" fill="url(#gy1)"/><rect x="63" y="224" width="168" height="146" fill="url(#gx1)" style="mix-blend-mode:screen"/></g></g><g clip-path="url(#cp2)"><g filter="url(#hma)"><rect x="280" y="224" width="168" height="146" fill="url(#gy2)"/><rect x="280" y="224" width="168" height="146" fill="url(#gx2)" style="mix-blend-mode:screen"/></g></g><g clip-path="url(#cp3)"><g filter="url(#hma)"><rect x="497" y="224" width="168" height="146" fill="url(#gy3)"/><rect x="497" y="224" width="168" height="146" fill="url(#gx3)" style="mix-blend-mode:screen"/></g></g><g clip-path="url(#cp4)"><g filter="url(#hmb)"><rect x="63" y="442" width="168" height="146" fill="url(#gy4)"/><rect x="63" y="442" width="168" height="146" fill="url(#gx4)" style="mix-blend-mode:screen"/></g></g><g clip-path="url(#cp5)"><g filter="url(#hmb)"><rect x="280" y="442" width="168" height="146" fill="url(#gy5)"/><rect x="280" y="442" width="168" height="146" fill="url(#gx5)" style="mix-blend-mode:screen"/></g></g><g clip-path="url(#cp6)"><g filter="url(#hmb)"><rect x="497" y="442" width="168" height="146" fill="url(#gy6)"/><rect x="497" y="442" width="168" height="146" fill="url(#gx6)" style="mix-blend-mode:screen"/></g></g><g clip-path="url(#cp7)"><g filter="url(#hmb)"><rect x="63" y="659" width="168" height="147" fill="url(#gy7)"/><rect x="63" y="659" width="168" height="147" fill="url(#gx7)" style="mix-blend-mode:screen"/></g></g><g clip-path="url(#cp8)"><g filter="url(#hmb)"><rect x="280" y="659" width="168" height="147" fill="url(#gy8)"/><rect x="280" y="659" width="168" height="147" fill="url(#gx8)" style="mix-blend-mode:screen"/></g></g><g clip-path="url(#cp9)"><g filter="url(#hmb)"><rect x="497" y="659" width="168" height="147" fill="url(#gy9)"/><rect x="497" y="659" width="168" height="147" fill="url(#gx9)" style="mix-blend-mode:screen"/></g></g>
<g clip-path="url(#cp1)" fill="none" stroke-width="0.95" stroke-linejoin="round"><path d="M132.2 326.1l0.5 0.4 0.1 0.6 -0.1 1.1 -0.5 0.9 -0.2 -2 0.2 -1M142.2 338.9l-0.4 6.2 0.4 0.7 0.4 -1.7 0.1 -3 0 -1 -0.5 -1.2M138.1 343.1l0.1 -0.6 0.5 -0.4 0.4 1 0.1 1 0 1 -0.5 1.9 -0.5 -0.2 -0.1 -0.7 -0.2 -1 0.2 -2M142.2 356.2l-0.1 1.9 0.1 0.8 0.5 -0.1 0.2 -0.7 -0.2 -1.3 -0.5 -0.6M140.9 367.1l0 -10 -0.2 -0.8 -0.5 -0.6 -0.3 -1.6 0.3 -1.4 0.5 -0.1 0.3 0.5 0.2 1 0.5 0.3 -0.2 -6.3 -0.3 -1.6 -1 -0.7 -0.4 -0.7 -0.4 -2 -0.2 -7 -1 -2.9 -0.5 0.4 -0.5 -0.4 -0.5 -3.3 -0.5 -1.1 -0.5 -0.4 -0.1 -0.3 -0.2 -1 0.2 -4 -0.4 -0.6 -0.5 -0.1 -0.5 0.3 -0.5 1.1 -0.5 0 -0.5 -3.7 -0.5 0.1 -0.5 2.8 -0.5 0.3 -0.5 -3.6 -1.5 -3.7 -0.5 0.7 -1 2.4 -0.5 -0.4 -0.4 -1.6 -0.6 -1.3 -1 -1 -0.5 -1.1 -0.5 -0.1 -0.5 1.9 -0.5 0.8 -0.8 0.8 -0.7 2.1 -0.3 -1.1 -0.3 -4 -0.9 -2.4 -1 5.2 -0.5 -1.2 -0.5 -3 -0.5 -0.7 -1 -0.9 -1.5 0.5 -1.5 1.5 -0.5 -1.2 -1 -1 -2 1.5 -2 -0.1 -1 -0.7 -1 -0.4 -2.5 0.7 -1 -0.4 -2 -1.8 -1.5 1 -2 0.7 -10 -1.6 -20.5 -0.5 -1 -0.3M143.2 367.1l-0.1 -2 -0.4 -1.4 -0.5 0.1 -0.1 0.3 -0.2 3" stroke="#ffffff"/><path d="M65.7 309.2l6.5 0.1 9 0.2 6.5 0.3 5.6 0.3 5.9 0.4 3 0.3 4 0.5 5 0.8 5 1.1 4 1.2 6 2.5 1.5 1 1.5 0.2 1 0.6 1 1.9 0.5 0.2 0.5 -0.6 0.5 0.1 1 1.9 1 0 1 0.9 1.5 4.7 1 -1.2 0.2 0.5 0.3 5 0.5 2 0.5 0.5 0.5 -1.9 0.5 -0.3 0.5 3.7 0 5.2 0.5 -3.2 0.5 -1.1 0.5 1.5 0.4 6.6 -0.7 4 0.3 1.9 1 2.1 0.1 6 0.9 3 -1 5 -3.2 0 -0.3 -2.4 -1 -2.2 0 -11.4 -0.3 -2 -0.8 -2 -0.6 -7 0.7 -2.5 0.1 -1.5 -1.1 -1 -1 -4 -1 -1.2 -0.5 -3 -0.5 -1.2 -1 -0.1 -0.4 -0.5 -0.6 -2.2 -0.5 0.8 -0.5 -0.5 -1 -2.7 -2.5 -1.6 -1.5 -1.5 -2.3 -1.3 -6.2 -2.4 -5.5 -1.3 -6 -1 -16.5 -1.5z" fill="#ffffff" stroke="none" fill-rule="evenodd"/><path d="M177.3 367.1l-0.3 -2 0 -3 1.6 -8 0 -1 -0.1 -4 -0.9 -8 0 -6 -0.9 -8 -0.5 -2 -0.2 -2 0.5 -5 -0.3 -0.9 -1 -0.8 -0.1 -0.3 -0.4 -4.6 -0.5 -0.8 -0.5 -0.3 -0.2 -0.3 0.2 -5 -0.5 -1 -0.5 0.2 -0.5 -4.5 -1.5 -1.9 -0.5 0 -0.5 0.9 -0.5 0.1 -0.5 -0.7 -0.4 -1.1 -0.6 -2.7 -0.5 -0.9 -0.5 -0.4 -1 -1.5 -0.5 -0.2 -0.5 0.5 -0.5 0.1 -2 -2.3 -0.5 0.3 -0.5 0.6 -0.5 1.4 -0.5 0.1 -0.5 -2 -0.5 -0.7 -0.5 0.3 -0.5 -0.2 -0.5 -0.9 -0.5 -0.5 -0.5 0.4 -0.5 0.1 -1 -0.7 -1 -0.3 -3.3 -0.5 -2.2 -0.9 -1.5 0.2 -2 -0.9 -1.5 -0.3 -4 0 -1.5 -0.5 -1 0.3 -2 -0.6 -1 0.2 -1 -0.1 -1 0.1 -2 -0.8 -1 0.2 -0.5 0.2 -0.5 0 -0.5 -0.7 -0.5 -0.2 -0.5 0.4 -0.5 0.2 -1 -0.4 -1.5 -0.1 -1.5 0.5 -4.5 -0.9 -2.5 0.4 -3 -0.4 -2 0.6 -2 -0.9 -2.5 0.6 -14 -0.3 -26 0.1" stroke="#e4e6ea"/><path d="M65.7 283.1l14 0 12.5 0.1 11 0.1 9 0.1 18 0.5 9.5 0.8 3.5 0 2 0.1 2 0.7 2 -0.1 2 0.8 3 0.3 2 1.1 1 -0.2 1 1.1 1 -0.1 1 1.1 0.5 0.1 1.5 -0.5 1.5 1.4 2 0.3 2 2.4 1.5 4 0.5 -0.1 0.5 -0.9 0.5 0.3 1.5 2 2.5 8.5 1 2.1 -0.1 5 0.7 1 0.5 2 0.2 6 0.7 1.2 0.5 -1 -0.1 16.8 0.8 13 -1.1 9 0.4 5 -2.2 0 0.4 -5 -1 -9 0.3 -1.4 0.5 -0.4 0.5 -1.4 0.1 -4.8 -0.3 -9 -0.4 -2 -1 -2 0.7 -5 -0.2 -4 -0.4 -3.4 -0.5 0.5 -0.5 -1 0.2 -5.1 -1.2 -2.6 -1.8 -10.4 -0.7 -0.9 -1.5 -0.4 -0.5 -0.6 -1.1 -3.1 -0.4 -0.8 -0.5 -0.1 -1 -1.8 -0.5 -0.3 -1 0.5 -0.8 -1.5 -1.2 -1.1 -1.5 1.3 -0.5 -0.1 -1 -1.9 -1 -0.2 -1 -1 -1 0.1 -1 -0.5 -6.5 -1.8 -1.5 -0.1 -3 -0.9 -9 -1.2 -8 -0.7 -15 -0.6z" fill="#e4e6ea" stroke="none" fill-rule="evenodd"/><path d="M199.7 291.5l-0.3 0.6 0.3 1.3 0.5 -0.6 0.1 -0.7 -0.1 -0.3 -0.5 -0.3M196.2 295.1l0.5 1 0 1 -0.5 3.8 -0.4 -3.8 0 -1 0.4 -1M201.2 302.7l-0.4 2.4 0 1 0.4 1.2 0.5 -0.7 0.2 -1.5 -0.2 -1.7 -0.5 -0.7M196.8 304.1l0.4 -0.6 0.5 0.2 0.4 1.4 -0.4 2.2 -0.5 0.5 -0.4 -1.7 0 -2M200.2 309l-0.4 1.1 0.2 4 0.2 1.1 0.9 -1.1 -0.9 -5.1M202.7 316.5l-0.2 2.6 0.2 1.4 0.5 0.5 0.7 -1.9 0.2 -1 -0.4 -1.4 -0.5 -0.5 -0.5 0.3M199 367.1l-0.4 -7 -0.4 -2 0.5 -0.3 0.5 1.2 0.5 0.6 0.4 6.5 0.1 1 0.2 0M200.7 367.1l0.9 -3 0.2 -2 -0.6 -3.7 -1 -0.4 -0.3 -0.9 -0.4 -6 -0.7 -2 0.4 -0.7 0.5 0.4 0.1 1.3 0.4 0.7 1 -1.2 0.5 -1.9 0.3 -3.6 -0.3 -1.8 -0.5 -0.4 -0.3 1.2 -0.2 3.5 -0.5 0.8 -0.3 -2.3 0.3 -5 -0.3 -4 -0.5 -2 -0.4 -4 -0.8 -1.2 -0.2 -1.8 0.2 -2.4 0.5 -0.8 0.5 0.4 0 -0.2 0.5 -3.9 0.1 -3.1 -0.3 -1 -0.8 -0.9 -0.5 0.4 -0.5 1.8 -0.5 0.1 -0.5 -3.4 0.5 -2.7 0.5 0.3 0.5 1.2 0.5 0.1 0.5 -2.2 0.3 -0.7 -0.6 -5 0.4 -4 -0.1 -1 -0.5 -0.2 -0.5 -1.2 -0.4 -3.6 -0.6 -2 -0.5 -2.9 -1 -1.2 -0.5 -2.2 -1 -1.1 -0.7 -3.6 -0.8 -1.4 -0.5 0.3 -0.5 2.6 -0.5 0.4 -0.9 -4.9 -0.6 -1.2 -0.5 0 -0.5 1.2 -0.5 0.7 -0.9 -1.7 -0.6 -0.7 -2.5 -0.7 -1 -2.1 -0.5 0.9 -0.5 0.3 -0.5 -0.7 -0.5 -0.1 -0.5 0.3 -0.5 0 -1 -1.1 -1.5 -0.5 -2.5 -0.4 -2 0.5 -1.5 1.1 -0.5 0 -1.5 -1.3 -1 -0.3 -1 -0.6 -0.5 -0.1 -1 0.6 -1 0.2 -1 -0.3 -1 -0.8 -1.5 0 -3 0.2 -1 -0.2 -1.5 0.5 -0.8 -0.7 -0.7 -0.1 -1.5 0.6 -1 -0.1 -1 0.5 -1 -0.5 -1 0 -1 -0.2 -1 0.2 -1 -0.4 -2 0.4 -2 0.1 -1 -0.4 -1 0.1 -0.5 0.2 -0.5 0 -0.5 -0.4 -0.5 -0.1 -1.5 0.5 -0.5 0 -0.5 -0.5 -0.5 -0.1 -1 0.5 -1 -0.2 -1 0.3 -1 -0.1 -2 -0.8 -1 0.4 -2.5 0.2 -1.5 -0.4 -1 0.3 -1 -0.2 -1 0.2 -1 -0.2 -2.5 0.1 -1 -0.2 -1.5 0.5 -1.5 -0.2 -5.5 0 -2 -0.1 -5.5 0.3 -8 -0.3 -27 0" stroke="#c0c2c2"/><path d="M65.7 272l69.5 -0.1 1.5 0.2 1.5 -0.2 4 0.3 4 -0.4 5 0.6 3.5 -0.6 1.5 0.4 7 -0.2 2 0.6 2.5 -0.4 2.5 0.7 1 0.7 4 -0.9 4 0.6 1 0.9 3 -0.4 1 1.6 1 0.1 2 0.8 1 0.9 1 -0.9 0.5 0.1 1.5 2.7 0.5 0 0.5 -1.2 0.5 0.2 0.5 1.1 1.5 -0.4 0.4 0.3 0.6 1.3 0.5 0.3 2 4 0.5 2.8 2 3.6 0.5 4 0.5 0 0.5 -0.7 0.5 0.7 0 2.2 -0.8 3.8 0.2 6 -0.9 3 0.5 1.2 0.5 -0.2 0.5 0.5 0.4 2.5 1.1 1.9 0.3 2.1 -1.3 4.9 -1 1.7 -0.4 -1.6 0.1 -5 -0.2 -1.3 -0.5 -0.3 -0.5 1.6 -0.3 5 2.4 9 -0.6 0.8 -0.4 3.2 0.4 2.6 0.6 1.4 -0.6 7.9 -0.3 2.1 -1.2 3 -0.1 1 1.1 3.1 0.5 3.7 1 1.6 -0.1 4.6 -4.6 0 -0.3 -2.9 -0.5 -1.6 -0.5 -0.5 -0.5 1.2 -0.3 -0.2 -0.1 -1 0.4 -0.6 0.5 0.6 0.3 -1 0.3 -4 1.1 -3 -0.2 -2 -0.5 -1 -0.5 0.4 -0.5 -0.5 -0.3 -1.9 1.7 -4 0.3 -4 -0.6 -5 0.1 -4 -0.2 -0.8 -0.5 1 -0.3 -0.2 -0.1 -1 0.5 -8 -1.4 -9 0.5 -4 -2.6 -20 -1.6 -5 -0.5 -0.1 -0.5 0.9 -0.5 -0.3 -1.5 -4.9 -0.5 -0.4 -1 1.1 -0.5 -0.2 -0.8 -2.1 -0.7 -0.8 -1 -0.1 -2 -1 -0.5 0.5 -0.5 -0.2 -1 -1.1 -1 -0.2 -3 -1.4 -4 -0.2 -2 0.5 -1.5 -0.9 -2 -0.6 -3 0.2 -1.5 -0.6 -5.5 -0.3 -1.5 0.3 -1.5 -0.6 -3.5 0.6 -1 -0.3 -3 -0.1 -1 -0.3 -3.5 0.2 -4.5 -0.4 -1.5 0.2 -7.5 -0.4zM197.2 296.5l-0.2 4.6 0.2 0.6 0.6 -0.6zM198.2 289.5l-0.4 2.6 0.4 1.4 0.5 -1.4 -0.2 -2zM200.2 330l-0.2 2.1 0.2 1.1 0.5 0.2 0.3 -1.3 -0.1 -2 -0.2 -0.4zM198.2 308.9l-0.2 1.2 0.2 0.2 0.1 -0.2z" fill="#c0c2c2" stroke="none" fill-rule="evenodd"/><path d="M200.2 226.1l0.3 2 0.7 3.1 0.5 1.2 1 1.5 0.1 1.2 -0.6 1.3 -1 0.7 -0.5 1.4 0.3 6.6 0.2 0.6 0.5 0 1 -1.9 0.5 -0.2 0.5 0.2 0.2 0.3 0.1 1 0 3 -0.8 1.4 -0.8 2.6 -0.1 1 0.2 3 -0.2 1 -0.1 0 -0.2 -4 -0.3 -0.4 -0.5 0.4 -0.5 1.8 -0.5 1 -0.5 0.2 -1 -1.1 -0.5 0.3 -0.5 2.1 -0.5 0.8 -0.5 -0.4 -0.5 0.5 -1.5 3.9 -0.5 0 -0.5 -1.8 -0.5 -0.1 -0.5 1.5 -0.5 0.7 -1 -0.7 -1 0.4 -1 1.6 -1 1.1 -0.5 0.1 -1.5 -0.3 -1.5 1.1 -0.5 -0.1 -0.5 -1.1 -0.5 -0.4 -1.5 1.4 -0.5 0.3 -0.5 -0.5 -0.5 -0.1 -1 0.5 -1 -0.3 -0.5 -0.4 -0.5 0.1 -1 1.3 -0.5 0.1 -1.5 0.1 -2 0.4 -1 -0.4 -3 -0.4 -1 0.3 -1 0.9 -2 -1.1 -1.5 0.6 -0.5 0 -1 -0.6 -3 0.2 -1.5 0.8 -0.5 0.1 -1.5 -0.4 -1.5 0.2 -1 -0.2 -1 0.2 -3.5 0.2 -2 -0.5 -3 0.7 -0.5 0 -1 -0.4 -2.5 0.1 -1.5 0.5 -2 -0.4 -2 0 -1 0.3 -3 -0.6 -1.5 0.3 -1.5 -0.3 -1 0.4 -1 -0.2 -4 0.2 -2 -0.3 -2 0.3 -2.5 -0.3 -5.5 0.3 -42.5 0M205.7 226.1l-0.5 2.1 -0.5 -2.1M204.9 234.1l0.3 -0.9 0.5 0.7 0.1 1.2 -0.6 2.9 -0.5 -0.9 -0.1 -2 0.3 -1M205.1 241.1l0.1 -0.1 0.6 2.1 0 1 -0.6 0.4 -0.4 -0.4 -0.2 -1 0.1 -1 0.4 -1" stroke="#9a9a98"/><path d="M200 226.1l6 0 -0.2 4 0.5 5 -0.6 4 0.8 6 -0.3 2.8 -0.5 -1.7 -0.5 0 -0.5 1.9 0.3 2 0.7 1 0 2.2 -1 2.4 -0.5 0.4 0 -4 -0.5 -1.1 -0.5 0.3 -0.2 0.8 -0.1 5 -0.7 1 -1 -2 -0.5 1.4 -1 1.4 -0.5 0.4 -0.5 -0.6 -0.5 0.2 -0.5 1 -1.5 0.9 -1 2.3 -0.5 0.4 -1.5 -1.1 -1 1.3 -1.5 -0.4 -0.5 0.2 -1 1.6 -1 0.6 -2 -0.1 -2 0.8 -1 -0.9 -2 1.1 -3.5 -0.5 -1.5 0.9 -4 0.4 -4.5 -0.4 -1.5 0.7 -2 -0.6 -1.5 0.3 -1.5 -0.3 -3 0.1 -2 0.5 -1.5 -0.2 -7.5 0.2 -1 -0.2 -4 0.3 -1 -0.2 -4 0.2 -8 -0.3 -1.5 0.1 -1.5 -0.1 -18 0.1 -16.5 0 -26 0 59.5 -0.1 12 -0.1 8.5 -0.5 3.5 0.2 5.5 -0.3 1.5 0.2 2 -0.6 2.5 -0.2 2 0.4 1.5 -0.5 2 0.6 2 -0.7 4.5 0.2 3 -0.4 1.5 -1.1 1.5 0.3 1.5 -0.5 1 0.1 2 -1.1 1.5 0.6 3.5 -1.3 3 -2.3 1 0.1 1 -1.6 1 -0.9 1 0.2 0.7 -1.2 0.8 -3.8 0.5 1 1.2 -2.2 0.5 -5 0.3 -1 0.5 -0.3 0.5 0.4 0.2 -1.1 -0.2 -6 0.3 -4 -0.5 -5zM201.2 247.7l-0.3 0.4 0.3 0.7 0.5 -0.1 0.5 -0.6z" fill="#9a9a98" stroke="none" fill-rule="evenodd"/><path d="M179.7 226.1l-0.9 9 0.4 0.7 0.5 -0.4 0.2 -1.3 0.3 -0.5 0.4 1.5 -0.7 2 -0.2 6.2 -0.5 0.7 -1.5 1.1 -1 2.3 -1 0.9 -1 2.3 -0.5 0.3 -0.5 -0.6 -0.5 -0.2 -1 0.8 -1 1.5 -1 0.7 -2.5 -0.2 -1.5 1.5 -2.5 1.1 -0.5 0.1 -1.5 -0.5 -0.5 0.2 -1 1.6 -1 0 -0.5 -0.4 -0.5 -0.1 -1 0.4 -0.5 -0.1 -0.5 0.1 -0.5 0.6 -0.5 0.2 -1 -0.2 -1 0.2 -1.5 -0.1 -1.5 0.2 -1 -0.3 -2.5 0.4 -2 0 -2 0.5 -1.5 -0.2 -1 0.5 -0.5 0 -1.5 -0.2 -1.5 0.3 -2 -0.5 -2.5 0.5 -1 -0.2 -1.5 0.4 -1.5 -0.4 -1 0.4 -2.5 -0.2 -3.5 0.5 -3.5 -0.6 -4 0.6 -3.5 -0.3 -2 0.3 -2 -0.1 -2.5 0.2 -10.5 -0.2 -27.5 0.2" stroke="#5a5a52"/><path d="M178.8 226.1l2.9 0 -0.8 10 -0.6 3 0.2 4 -0.3 1.4 -1 0.8 -1 1.9 -3.5 4.4 -0.5 0.3 -1.5 -0.1 -2.5 2.1 -2.5 0.5 -2.5 1.2 -1.5 0.4 -2 -0.1 -1.5 1.2 -2 -0.2 -2 0.3 -1 0.6 -6 0 -9.5 0.9 -4.5 -0.1 -5.5 0.2 -1.5 0 -1 0 -12 0.2 -7 0.1 -4.5 0 -6.5 0.1 -10 0 -11.5 0 -10 0 42.5 -0.1 21.5 -0.4 10.5 -0.5 14 -1.4 1 0.2 1 -0.6 2 -0.5 2 0.2 1.5 -1.3 2 0 2.5 -1 1.5 -1.2 3 -0.7 2.5 -2.6 0.5 -0.2 0.5 0.3 0.3 -0.3 0.7 -1.3 1.5 -1.7 1 -4.5 1.2 -1.5 0.3 -0.8 -0.7 -2.2 -0.2 -2 0.6 -4z" fill="#5a5a52" stroke="none" fill-rule="evenodd"/><path d="M160.4 226.1l-0.2 3.4 -0.3 1.6 -0.7 2.4 -0.5 0.1 -0.5 1.4 -0.5 6.3 -0.5 0.7 -0.5 -2.1 -0.5 -0.7 -1.1 4.9 -2.4 2.9 -0.5 0 -0.5 -1.8 -0.5 -0.5 -0.5 0.9 -1.5 0.7 -1 1.2 -1 -0.3 -1.5 0.3 -1 0.4 -1 1 -0.5 0 -0.5 -0.6 -0.5 -0.2 -1 0.5 -1 0.1 -0.5 0.4 -0.5 0.1 -1 -0.1 -1 0.6 -2.5 0 -1.5 0.3 -1.5 -0.4 -3 0.8 -1.5 -0.6 -1.5 0.9 -0.5 0.1 -1 -0.4 -0.5 0 -1.5 0.4 -1.5 0 -1.5 0.5 -1 -0.4 -1.5 0.3 -1.5 -0.5 -1.5 0 -1.5 0.1 -2 -0.1 -4 0.6 -5.5 -0.1 -3.5 0.2 -4 -0.1 -6 0.2 -21.5 0M159.1 237.1l0.1 -0.3 0.2 2.3 -0.2 0.4 -0.2 -0.4 0.1 -2" stroke="#1e1e18"/><path d="M157.5 226.1l3.3 0 0.1 4 -1 4 -0.2 5.8 -0.5 0.6 -0.5 0.2 -1 2.6 -0.5 0.4 -0.5 -0.9 -0.5 0 -0.9 2.3 -2.6 2.2 -0.5 0.2 -1 -1 -2 0.7 -1 1 -3 0.2 -1.5 0.9 -1.5 -0.4 -5 1 -8.5 0.5 -12 0.5 -5 0.2 -6 0.1 -8.5 0.2 -9.5 0.1 -10.5 0 -11.5 0 32.5 -0.2 21 -0.5 14.5 -1.1 5.5 -0.9 3 -1 1.5 0.2 2.5 -1.3 2 -0.2 2.1 -1.4 0.9 -1.3 0.5 0 0.5 0.7 0.5 0.1 1.7 -1.5 2 -7 0.4 -6z" fill="#1e1e18" stroke="none" fill-rule="evenodd"/></g>
<g clip-path="url(#cp2)" fill="none" stroke-width="0.95" stroke-linejoin="round"><path d="M294.4 367.1l-0.7 -5 -1.8 -8 -2.7 -9 -1.3 -3 -3.3 -6 -0.9 -1.1 -1 0.3" stroke="#ffffff"/><path d="M282.7 335.3l1 0 1 1.3 1 1.5 1.2 2 1 2 0.9 2 0.9 2.3 0.9 2.7 0.6 2 0.5 2 0.5 2.2 0.6 2.8 0.5 3 0.4 3 0.4 3 -1.9 -11.7 -2.5 -8.9 -1.8 -4.4 -2.2 -4 -2 -2.8z" fill="#ffffff" stroke="none" fill-rule="evenodd"/><path d="M319.3 367.1l-0.8 -9 -0.4 -18 -0.4 -2.8 -1 -4.2 -2.4 -6 -0.6 -1 -3 -4.5 -2 -2.3 -2.5 -2.1 -3.5 -2.1 -4.5 -2.2 -4.5 -1.6 -6 -1.5 -4 -0.7 -1 0" stroke="#e4e6ea"/><path d="M282.7 309.1l1 0 1.5 0.3 1.5 0.2 1.5 0.3 1.5 0.4 1.5 0.3 1.5 0.4 1.5 0.4 1 0.4 1 0.3 1 0.4 1 0.4 1 0.4 1 0.4 1 0.5 1 0.5 0.7 0.4 0.8 0.5 1 0.6 1 0.7 0.5 0.4 1 0.8 0.5 0.4 0.7 0.6 1 1 0.9 1 0.8 1 0.6 0.7 0.9 1.3 0.6 1 0.5 1 0.5 1 0.5 1 0.4 1 0.4 1 0.3 1 0.3 1 0.2 1 0.2 1 0.2 1 0.4 3 0.3 3 0.4 4 0.3 4 0.3 4 0.2 4 0.2 5 0.2 5 -0.9 -18 -1.5 -14 -1.5 -6 -2.5 -5 -2.3 -3 -2.6 -2.6 -3 -2.3 -3.5 -2 -4 -1.7 -4.5 -1.5 -6 -1.4z" fill="#e4e6ea" stroke="none" fill-rule="evenodd"/><path d="M341.7 340.1l0.2 1 0.3 0.5 0.3 -1.5 -0.3 -0.8 -0.5 0.8M341.2 355.9l-0.4 2.2 0.4 3.9 0.5 0.4 0 -4.8 -0.5 -1.7M338.8 367.1l0.2 -6 0.2 -1 0.7 -2 0 -4 -0.3 -5 0.2 -4 -0.6 -4.8 -0.5 1.1 -0.2 -1.3 0.5 -1 0.1 -3 -0.2 -6 -0.7 -3 0.2 -4 -0.7 -0.9 -0.5 -1.1 -0.6 -4 -0.4 -0.5 -1 0.3 -0.5 -1.1 -0.6 -1.7 -0.4 -4 -0.2 -1 -1.3 -3 -1.5 -2.1 -1.5 -0.7 -1 -1 -1 -0.4 -1.5 -1.7 -0.5 -0.3 -2 0.2 -1.5 -0.7 -4 -1.4 -3.5 -0.1 -13.5 -1.6 -9.5 -0.6 -8.5 -0.2" stroke="#c0c2c2"/><path d="M282.7 295.5l1 0 3.5 0.1 3.5 0.1 3 0.1 2.5 0.1 2.5 0.2 2.5 0.1 2.5 0.2 2 0.2 2 0.2 1.5 0.1 2 0.3 1.5 0.2 1.5 0.2 1.5 0.3 1.5 0.3 2.5 0.7 2 0.6 2 0.7 2 1 2 1.2 1.5 1.1 1.5 1.4 1 1.2 1 1.4 0.8 1.6 1.3 3 1 3 0.8 3 0.7 3 0.6 3 0.4 3 0.6 6 0.4 8 0.3 13 0.2 13 -0.7 -29 -0.8 -11 -1.3 -7 -1.3 -5 -2.2 -6 -1.8 -3 -2.5 -2.6 -3.5 -2.3 -4 -1.7 -4.5 -1.2 -6 -1.1 -7.5 -0.8z" fill="#c0c2c2" stroke="none" fill-rule="evenodd"/><path d="M342 226.1l0.2 0.8 0.8 1.2 0.3 1 0.5 4 0.2 4 0.7 2 -0.4 5 -0.6 4.8 -0.5 2.2 -0.5 4 -0.6 2 -0.1 5 0.2 0.9 0.5 0.4 0.3 0.7 0 2 -0.3 1.5 -0.8 1.5 -0.2 2.7 -0.5 0.5 -0.5 -2.9 -0.5 0 -0.6 4.7 -0.9 3.7 -0.5 1 -0.5 -0.7 -0.5 -0.2 -0.5 0.7 -0.5 1.7 -0.5 -0.4 -0.4 -0.8 -0.1 -0.1 -0.2 0.1 -0.8 1.5 -0.5 0.3 -1.5 3.6 -1.5 -1.4 -2 1.2 -1.5 1.2 -2 -0.3 -5 1.6 -2.5 0.4 -3.5 -0.1 -8.5 0.7 -7 0.4 -16 0.3M343.7 238l-0.5 0.3 -0.4 0.8 0.4 1.4 0.6 -0.4 0.1 -1 -0.2 -1.1M343.2 261.1l0 -0.4 0.3 0.4 -0.3 1.2 0 -1.2" stroke="#9a9a98"/><path d="M343.9 226.1l0.3 0 -0.2 18 -0.6 12 -0.9 10 -0.6 3 -0.6 2 -1.1 3 -0.9 2 -1.1 1.9 -0.8 1.1 -0.9 1 -1.1 1 -1.3 1 -1.9 1.1 -2.1 0.9 -2.4 0.8 -2 0.6 -2.5 0.5 -3 0.6 -3 0.4 -4 0.4 -1.5 0.1 -2 0.2 -2 0.1 -2 0.1 -2.5 0.1 -3.5 0.2 -2.5 0 -2.5 0.1 -3.5 0.1 -3.5 0.1 -4 0 -1 0 23 -0.6 14.5 -1.4 5.5 -1.1 4.3 -1.3 3.2 -1.5 3.3 -2.5 1.7 -2.2 1.9 -3.8 1.4 -4 0.9 -4 1.2 -18z" fill="#9a9a98" stroke="none" fill-rule="evenodd"/><path d="M323.6 226.1l0.3 9 -0.7 9 -1.1 4 0.8 4 -0.1 1 -1.6 6 -0.7 2 -1.1 2 -1.7 2.4 -1.4 2.6 -3.1 3 -2 1.5 -2.5 1.3 -3 1.1 -5 1.2 -6 1.1 -6.5 0.8 -5.5 0.3" stroke="#5a5a52"/><path d="M323.8 226.1l0 2 -0.2 6 -0.4 9 -0.4 5 -0.2 2 -0.2 2 -0.4 2 -0.6 3 -0.6 2 -0.6 2 -0.8 2 -0.8 2 -0.5 1 -0.5 1 -0.7 1 -0.9 1 -1 1 -1.3 1 -1.6 1 -0.9 0.5 -1 0.5 -1.5 0.7 -0.8 0.3 -0.7 0.2 -1 0.4 -1.3 0.4 -1.2 0.3 -1 0.3 -1 0.3 -1 0.2 -1 0.2 -1.5 0.3 -1.5 0.2 -1.5 0.3 -1.5 0.2 -2 0.3 -1.5 0.1 -2 0.2 -2 0.2 -2.5 0.2 -1 0 12.5 -1.2 9.7 -2.1 3.8 -1.3 3.4 -1.7 2.8 -2 2 -2 1.7 -3 1.6 -4 2.1 -9 0.9 -9z" fill="#5a5a52" stroke="none" fill-rule="evenodd"/><path d="M307.4 226.1l-1.7 13 -0.2 5 -1.8 6 -1.9 4 -1.6 2.4 -1.5 1.7 -2.2 1.9 -3.3 2.3 -2.5 1.5 -3 1.3 -4 1.3 -1 0" stroke="#1e1e18"/><path d="M307 226.1l-0.1 2 -0.3 3 -0.2 3 -0.2 2 -0.7 5 -0.3 2.2 -0.5 2.8 -0.1 1 -0.3 1 -0.3 1 -0.3 1 -0.4 1 -0.4 1 -0.5 1 -0.6 1 -0.6 1 -0.7 1 -0.8 1 -1 1.1 -0.9 0.9 -1.1 1 -1.3 1 -1.5 1 -1.6 1 -1.1 0.6 -1.5 0.7 -1.7 0.7 -2.3 0.8 -2 0.6 -1 0 1 0 4.2 -1.4 6 -3 4.8 -3.9 3.1 -4.1 1.9 -4 1 -3.8 1.4 -10.2z" fill="#1e1e18" stroke="none" fill-rule="evenodd"/></g>
<g clip-path="url(#cp3)" fill="none" stroke-width="0.95" stroke-linejoin="round"><path d="M508.2 367.1l-2.2 -3.9 -2.5 -3.1 -1.9 -2 -1.1 -0.8 -1 -0.1" stroke="#ffffff"/><path d="M534.8 367.1l-0.1 -5 -0.5 -4 -0.2 -0.6 -1.3 -3.4 -1.6 -3 -2.6 -3.8 -1.9 -2.2 -2.7 -2 -2.9 -1.8 -5.5 -2.3 -3 -0.9 -4.1 -1 -8.9 -1.3" stroke="#e4e6ea"/><path d="M499.5 335.8l1 0 2.3 0.3 1.2 0.2 1.5 0.2 1.5 0.3 1 0.2 2 0.4 2 0.5 1.5 0.4 1 0.4 1 0.3 1.5 0.5 1.5 0.6 1.5 0.7 0.5 0.3 1 0.5 1 0.6 1 0.6 0.5 0.4 1.3 0.9 1.1 1 1.1 1 0.9 1 0.8 1 0.8 1 0.6 1 0.6 1 0.5 1 0.5 1 0.4 1 0.3 1 0.3 1 0.2 1 0.5 2 0.3 2 0.4 2 0.2 2 0.3 2 -1.3 -8 -1.2 -5 -2.6 -5 -3.6 -4 -4.9 -3.5 -6 -2.6 -7.5 -2z" fill="#e4e6ea" stroke="none" fill-rule="evenodd"/><path d="M556.7 367.1l-1 -4 0.2 -5 -0.9 -6.2 -1.1 -2.8 -0.8 -7 -0.1 -0.3 -0.4 1.3 -0.3 2 -0.3 0.4 -0.5 -0.4 -0.1 -5 -0.9 -3.4 -1.5 -3.2 -1 -0.1 -0.4 -0.3 -0.6 -1.7 -1 -1 -2 -0.9 -2 -0.2 -2.5 -1.1 -2 -0.4 -3 0.1 -3.5 -1.4 -4 0 -5 -0.6 -8 -0.5 -14.5 -0.2" stroke="#c0c2c2"/><path d="M499.5 325.2l1 0 2.5 0 3.5 0.1 3 0 4.5 0.2 2.5 0.1 2 0.1 2 0.1 1.5 0.1 2 0.1 1.5 0.1 1.5 0.1 1.5 0.2 1.5 0.2 1.5 0.1 2.4 0.4 2.6 0.5 2.2 0.5 1.8 0.5 2 0.8 1.5 0.6 1.5 0.9 1 0.6 0.7 0.6 0.8 0.7 1 1.1 0.9 1.2 0.6 1 1 2 0.9 2 0.7 2 0.6 2 0.5 2 0.6 3 0.4 2 0.4 3 0.3 4 0.5 9 -1 -14 -1.8 -9 -1.3 -4 -1.8 -4 -1.5 -2.2 -2.5 -2.3 -2.4 -1.5 -3.6 -1.4 -4 -1.1 -5 -0.8 -13 -1.1z" fill="#c0c2c2" stroke="none" fill-rule="evenodd"/><path d="M560.7 226.1l0.3 9 0.6 4 -0.4 6 -0.2 1 -0.5 0.3 -0.4 1.7 0.5 2 0.4 3.9 0.7 1.1 0.3 0.9 0 1.1 -0.4 4 -0.6 1.6 -0.3 0.4 -0.3 2 0.2 9 0.6 5 -0.4 2 -0.8 2 0.7 4 -0.1 2 -0.7 3 0 5 0.6 3 0 1 -0.5 0.9 -1 0.3 -0.4 0.8 -0.4 2 -0.4 3 -1.8 3.6 -1 0.8 -1 0.1 -2 2.7 -0.5 0.3 -1 -0.3 -0.9 0.8 -0.6 0.8 -3 1.4 -2 -0.3 -2 0.7 -7.5 1.1 -10.5 0.7 -24.5 0.5M560 237.9l-0.5 1.2 0.5 1.3 0.5 -0.5 0.1 -0.8 -0.1 -1.4 -0.5 0.2M559.5 255.7l-0.3 1.4 0.8 1.8 0.4 -1.8 -0.4 -0.8 -0.5 -0.6" stroke="#9a9a98"/><path d="M560.7 226.1l0.3 35 -0.4 27 -0.7 11 -0.5 4 -0.7 3 -0.4 1 -0.8 1.8 -0.7 1.2 -1.3 1.7 -1.1 1.3 -1.4 1.3 -1.5 1 -2 1.1 -1 0.4 -1 0.4 -1.5 0.5 -1 0.3 -1.5 0.3 -1.5 0.4 -1.5 0.2 -1.5 0.3 -1.5 0.2 -2 0.2 -2 0.2 -2 0.1 -2.5 0.2 -2.5 0.2 -2.5 0.1 -3 0.1 -3 0.1 -3 0.1 -3.5 0 -4 0.1 -5.5 0.1 -1.5 0 -1 0 27 -0.6 9 -0.7 6.5 -1 5.5 -1.4 4 -1.9 2.9 -2.3 2.3 -3 1.6 -3 1 -4 1.1 -14 0.4 -28z" fill="#9a9a98" stroke="none" fill-rule="evenodd"/><path d="M540.3 226.1l0.6 5 -0.5 4 0.3 3 0 3 -0.6 7 0.7 2 0.4 2 0 1 -0.8 4 0.5 4 -0.8 4 -0.1 1 0.7 4 0.1 5 -1.2 8 -0.2 5 -0.4 3 -1 5 -0.5 4 -0.3 1 -1.7 1.8 -1.5 2.2 -1.5 1.3 -1.5 1 -1.5 0.6 -4.5 1.6 -4 1 -6.5 0.9 -8 0.9 -7 0.4" stroke="#5a5a52"/><path d="M540.7 226.1l0.1 4 0 22 -0.1 12 0 4 -0.1 4 -0.2 4 -0.3 5 -0.3 5 -0.2 2 -0.2 2 -0.1 1 -0.4 2 -0.2 1 -0.5 2 -0.6 2 -0.4 1 -0.3 1 -0.5 1 -0.4 1 -0.6 1 -0.5 1 -0.7 1 -1.1 1 -0.6 0.4 -1 0.6 -1 0.5 -1 0.5 -1 0.4 -1 0.4 -0.7 0.2 -0.8 0.2 -1 0.3 -1.5 0.4 -1 0.2 -1.5 0.3 -1.5 0.3 -1.5 0.3 -1.5 0.2 -1.5 0.2 -1.5 0.2 -2 0.2 -2.5 0.3 -2 0.1 -2.5 0.2 -3 0.2 -1 0.1 -1 0 15.5 -1.3 6 -1 5 -1.2 3.5 -1.2 3.6 -2 1 -1 1.8 -3 1.7 -4 1.3 -5 0.7 -5 0.5 -7 0.6 -17z" fill="#5a5a52" stroke="none" fill-rule="evenodd"/><path d="M524.1 226.1l0 22 -0.3 8 0.4 10 -1.3 13 -0.9 5 -1.3 5 -1.2 3 -1.5 2.2 -2.6 2.8 -2.9 2.5 -2.4 1.5 -3.1 1.3 -4.5 1.4 -3 0.6" stroke="#1e1e18"/><path d="M524.1 226.1l0 4 0 32 -0.1 3 0 2 -0.2 3 -0.3 3 -0.3 3 -0.4 3 -0.3 2 -0.4 2 -0.5 3 -0.2 1 -0.3 1 -0.3 1 -0.4 1 -0.4 1 -0.5 1 -0.6 1 -0.6 1 -0.3 0.4 -0.5 0.6 -0.8 1 -1 1 -1.1 1 -1.3 1 -1.5 1 -1.8 1 -1.5 0.7 -0.7 0.3 -0.8 0.3 -2 0.7 -1.5 0.5 -1.8 0.5 -1.2 0.3 -1 0 2.2 -0.3 5.3 -1.7 3 -1.3 3.3 -2 2.4 -2 2.3 -2.6 1.5 -2.4 1.3 -3 2 -10 1.1 -12z" fill="#1e1e18" stroke="none" fill-rule="evenodd"/></g>
<g clip-path="url(#cp4)" fill="none" stroke-width="0.95" stroke-linejoin="round"><path d="M184.7 559.8l0 -0.2 0.3 0.2 0.2 1.6 0 1.7 -0.5 -0.1 0 -0.2 0 -3M194.2 560.4l-0.5 2.1 -0.1 1.3 0.2 1 0.4 0.7 0.5 -0.1 0.3 -1.6 -0.7 -2 -0.1 -1.4M195.7 571.5l-0.2 4.3 -0.4 1 0.3 1 0.3 4.9 0.2 -1.9 -0.1 -4 0.2 -4 -0.3 -1.3M187.1 572.8l0.1 -0.6 0.2 4.6 -0.2 1.3 -0.5 0 -0.9 -1.3 0.7 -1 0.5 -2 0.1 -1M182.6 579.8l0.1 -0.5 0.5 0.5 0 2.3 -0.5 -0.1 -0.1 -2.2M191.4 584.8l-0.6 -5 -1.1 -1.9 -0.2 -1.1 -0.2 -4 0.4 -2.5 0.5 0.1 0.5 3.6 0.5 0.6 0.5 -0.5 1 -0.3 0.3 -1 0.1 -1 -0.2 -2 -0.2 -0.3 -0.5 1 -0.5 -0.5 -0.3 -2.2 0.3 -1.8 0.6 -1.2 0.3 -1 -0.4 -1.5 -0.5 -1 -1.1 0.5 -0.4 0.6 -0.5 -0.3 -0.5 -0.9 -1.5 -1.4 -0.4 -1 1.4 -2.5 0.5 0.1 0.5 1.1 0.5 -1 0.2 -1.7 -0.2 -1.7 -0.5 -0.6 -0.5 0.8 -0.5 -0.1 -0.6 -2.4 1.1 -5 -1 -2 -0.5 0.1 -0.3 0.9 -0.8 4 -0.1 3 0.6 3 -0.1 1 -0.3 1.2 -0.5 -0.4 -0.3 -0.8 -0.5 -5 -0.1 -5 -1 -2 -0.3 -2 0.3 -5 -0.1 -0.8 -0.5 -0.8 -0.3 2.6 -0.7 2.3 -0.5 3.2 -0.5 -0.4 -0.5 -3.7 -0.5 -1 -0.3 4.6 -0.2 0.6 -0.5 0.3 -0.9 -1.9 0.2 -5 -0.8 -1.3 -0.5 0.1 -0.5 2.5 -0.4 -1.3 -0.2 -2 -0.3 -1 -0.6 0.2 -0.5 2.7 -0.5 1.4 -0.5 -2.5 -0.5 -0.8 -0.5 1.1 -0.5 -0.7 -0.5 -4.2 -0.5 -0.5 -0.5 2.3 -0.5 1.3 -0.5 -0.5 -1 -2 -0.5 0.1 -0.5 1.4 -0.5 0.4 -0.5 -0.1 -0.5 -0.4 -0.5 -1.3 -0.5 -0.5 -1.5 0.3 -1 2.8 -0.5 -0.2 -0.8 -1.3 -0.7 -2.5 -0.5 -0.7 -0.5 0.5 -1.5 0.1 -0.5 0.2 -0.5 -0.4 -0.5 -1.2 -0.5 -0.2 -1 2.8 -0.5 0.3 -0.5 -1 -0.5 -2.9 -0.5 -0.1 -0.5 2.3 -0.5 0.7 -0.5 -0.3 -1 -1.7 -0.5 -0.1 -1.5 0.7 -0.5 -0.1 -1.5 -1.5 -0.5 0.2 -1 2.2 -0.5 -0.5 -0.5 -0.3 -0.5 0.2 -0.5 -0.4 -0.5 -1 -0.5 -0.5 -1.5 -0.8 -0.5 0.4 -0.5 1.8 -0.5 0.6 -1 -0.6 -0.5 0.1 -2 -0.9 -1 0 -1 0.5 -0.5 -0.1 -1 -0.8 -0.5 -0.2 -0.5 0.2 -0.5 0.7 -0.5 -0.2 -0.5 -1 -0.5 -0.1 -1.5 2.1 -0.5 0.1 -0.5 -0.2 -1 -1.5 -0.5 -0.4 -1 0.2 -2 -0.7 -1.5 0.4 -1.5 1.9 -1.5 -0.9 -1.5 0.1 -2 -0.9 -2 -0.1 -4 0.6 -1.5 -0.6 -1.5 -0.3 -3 0.9 -3.5 -0.6 -4.5 0.1 -6 -0.2 -8 0.3 -14 -0.2 -1 0.1" stroke="#ffffff"/><path d="M140.9 526.8l1.3 -0.1 1.5 0.8 1 -0.1 1 0.5 2 -1 1 0.9 0.5 0 2.5 -0.7 1 1.7 1 -1.8 0.5 0 1 2 1.5 -1.8 0.5 0.2 0.5 0.8 1.5 0.1 0.5 0.6 0.5 -0.2 0.5 -1.1 0.5 0.1 0.5 1.3 0.5 0 0.5 -1.1 0.5 0 1 1.2 1 0.1 0.5 -0.4 0.5 0.2 0.5 0.6 0.5 0.1 0.5 -1 1 1.1 0.5 0 1 -1.1 0.5 0 1.5 0.7 1 2.2 0.5 -1.9 0.5 0.5 0.5 1.9 0.5 0.2 0.5 -0.9 0.5 -0.2 1 0.2 1 -1.3 0.5 2.7 1 1.2 0.5 0 1 -1.9 0.5 -0.3 1 0.7 1 0.1 1 3 0.5 0.9 0.5 -0.2 0.1 0.5 0.9 6.2 0.5 -0.3 0.5 -0.8 0.5 0 1 1.2 0.5 0 0.5 2.8 0.4 0.9 1.6 0.8 1.3 2.2 -0.9 5 -0.3 4 0.4 2 0.5 -0.3 0.4 -3.7 0.6 -1.1 0.5 -2.2 0.5 0.1 0.4 1.2 -0.9 2.7 -0.1 1.3 0.9 4 0.1 5 0.7 2 0.2 12 0.2 2.4 0.4 0.6 -7.9 0 1 -2 0.2 -1 -0.1 -1 -0.9 -2 -0.7 -4.3 -0.5 0.9 -0.2 1.4 0.4 4 -0.2 2.5 -0.5 0.3 -0.4 -0.8 -0.9 -4 -1 -1 -0.3 -1 1.1 -1.6 0.3 -1.4 -0.1 -5 -0.9 -3 -0.8 -0.7 -0.5 0.4 -0.5 -1.7 0.2 -5 1.1 -4 -0.4 -5 -0.4 -1.2 -0.5 -0.1 -0.5 0.9 -0.5 0.3 -1.5 -5.2 -0.5 -0.1 -0.5 1 -0.5 -0.2 -1 -1.5 -0.5 -3.5 -0.5 -0.6 -0.9 3.2 -0.6 0.3 -0.5 -1.3 0.5 -4 -0.3 -1 -0.4 3 -0.3 0.3 -1 0 -1.6 -1.3 -0.9 -2.8 -0.5 0.6 -1.1 0.2 -0.9 1.6 -1 -3.1 -2.5 -0.6 -1 2.4 -0.5 -1.4 -1 0 -1 -1.4 -0.5 -0.4 -0.5 0.1 -1 -2.2 -0.5 -0.1 -1 0.8 -1.5 -0.9 -0.5 0.1 -0.5 1.2 -0.5 0.3 -0.5 -0.1 -0.5 -0.7 -0.5 -1.8 -0.5 -0.3 -0.5 1.3 -1 0.4 -1.5 -1.3 -2.5 -0.3 -1 -0.9 -0.5 0.2 -1 1.7 -1.5 -0.7 -1 -1.2 -1 -0.3 -1 -1 -1.5 1.7 -3.5 -1.1 -11 -1 -59.5 -0.4 40 0.1 20.5 0.3 1.5 0.1 4.5 -0.4 6.5 0.2 1 0.6zM185.2 539.5l-0.3 2.3 0.3 0.3 0.2 -1.3zM186.7 561.6l-0.4 2.2 0.2 2 0.2 0.6 1 0.3 0.5 0.6 0.5 2.4 0.6 -1.9 -0.2 -4 -0.9 -1.6 -1 -0.7zM194.2 570.9l-0.4 1.9 0.4 1.1 0.5 -0.5 0.2 -1.6 -0.2 -0.8zM179.7 547.8l0.5 -0.3 0.3 2.3 -0.1 1 -0.7 0.6 -0.5 -0.6zM182.7 551.8l0.5 1.4 0.1 1.6 -0.1 0.6 -0.5 0.5 -0.3 -1.1zM182.5 581.8l0.2 -4.3 0.5 0.2 0.1 1.1 -0.1 4.7z" fill="#ffffff" stroke="none" fill-rule="evenodd"/><path d="M228.7 525.6l-0.3 -1.8 -0.2 -3.6 -0.3 -0.4 -0.2 -0.1 -0.5 4.6 -0.5 -0.8 -0.5 -2.3 -1 -1.4 -1 -2.2 -0.3 0.2 -0.2 0.4 -0.2 1.6 -0.3 0.5 -0.3 -0.5 -0.4 -4 -0.8 -1.7 -0.5 -2.4 -0.4 -0.9 -1.6 1.3 -0.5 0 -0.5 -1.3 -0.5 -0.1 -0.5 1.8 -0.5 -0.2 -0.9 -1.5 -0.6 -1.7 -0.5 -0.6 -0.5 0.5 -0.5 0.2 -1 -0.1 -0.5 0.8 -1 -1.5 -0.5 0 -0.5 0.4 -0.5 -0.2 -1 -3.5 -0.5 0.1 -0.5 0.6 -0.5 1.3 -0.5 -0.1 -0.5 -1.2 -0.5 -0.5 -0.5 0.1 -0.5 -0.2 -0.5 -0.6 -0.5 -0.2 -1.5 -0.1 -1 -0.5 -1.5 0.3 -2 -0.3 -0.5 0.2 -0.5 -0.2 -0.5 -0.7 -0.5 -0.1 -0.5 0.4 -1.5 0.2 -1 0.3 -1.5 -0.2 -1 0.3 -1.5 -0.4 -1 0.2 -2 -1.3 -1.5 -0.1 -1 -0.5 -0.5 0 -0.5 0.5 -0.5 0.1 -0.5 -0.6 -0.5 -0.1 -1 0.7 -2 -0.5 -1.5 -0.2 -0.5 0.4 -0.5 0.9 -0.5 0.1 -1 -0.9 -1 -0.2 -1 0 -1.5 0.4 -0.5 -0.2 -0.5 -0.6 -0.5 -0.3 -0.5 0.1 -0.4 0.3 -0.6 0.8 -0.5 0 -0.5 -0.8 -0.5 -0.2 -0.5 0.4 -0.5 -0.1 -0.5 -0.4 -0.5 0.1 -0.5 0.6 -0.5 0.3 -1 -0.2 -1.5 0 -1 -0.7 -0.5 0 -0.5 0.5 -0.5 0.3 -0.5 -0.1 -1 -1 -0.5 -0.1 -1 0.6 -4 -0.5 -1.5 0.8 -0.5 -0.1 -0.5 -0.6 -0.5 -0.1 -1 0.6 -1 -0.2 -1.5 0.2 -2.5 -0.6 -3.5 0.4 -1 -0.4 -0.5 0 -0.5 0.4 -0.5 0.1 -1 -0.3 -1.5 0.5 -1.5 -0.8 -4.5 0.4 -1.5 -0.5 -3 0.8 -1.5 -0.5 -1.5 0.1 -6.5 -0.2 -4.5 0.2 -3 -0.2 -3 0.2 -3.5 -0.1 -33.5 0" stroke="#e4e6ea"/><path d="M65.7 501.4l1 0 32 0 28.5 0 4.5 -0.1 1.5 0.2 8.5 -0.3 5 0.2 1 -0.3 1.5 0.4 1.5 -0.5 4 0.3 1 -0.3 2 0.7 1 -0.5 1.5 0.4 2.5 0.1 1 -0.5 1.5 0.2 0.5 -0.2 1 0.6 2 -0.7 1.5 0.6 2.5 -0.2 2 0.6 1.5 -0.8 3.5 0.4 1 -0.4 1 0.4 1.5 -0.3 2.5 0.5 2 0.9 2 0.1 1 -0.4 1.5 0.3 2.5 -0.1 1.5 -0.4 3 0.9 2.5 -0.2 1 0.5 1.5 -0.1 1.5 0.7 1 0.9 0.5 0 0.5 -0.5 1 -0.4 1.5 3 1.5 -0.7 1.5 0.8 1.5 -0.4 2 2.3 2 -0.2 1 1 1 -0.2 0.5 0.2 1.5 3.1 2 1.8 1 2.9 0.5 0.7 1 -0.5 0.5 0 0.5 0.4 0.5 1.4 0 20.1 -0.4 3 -0.1 0.3 -0.5 -0.4 -0.5 -3.5 -0.5 -0.3 -0.5 1.4 -0.5 -0.7 -0.5 -2.1 0 -1.9 0.7 -2.8 -0.3 -4 0.2 -5 -0.1 -0.2 -0.5 1 -1 -2.6 -0.5 -0.3 -0.5 0.4 -0.5 -0.5 -0.6 -2.8 -1.1 -2 -0.8 -2.6 -0.5 -0.3 -1.5 0.2 -1 0.7 -1 -2.1 -1.5 -1.8 -1.5 -0.4 -0.5 0.1 -0.5 0.6 -0.5 -0.4 -0.5 -1.3 -0.5 -0.2 -1 0.2 -1 -1.8 -0.5 -0.3 -1 0.9 -1.5 -1.5 -1 0.2 -1.5 -1.1 -1 0.1 -1.5 -0.7 -2.5 -0.4 -1.5 0.4 -1 -0.8 -1.5 -0.1 -1 0.4 -1.5 -0.4 -1 0.3 -1.5 -0.5 -1.5 0.1 -2 -0.9 -1 0.1 -1.5 -0.5 -4 0.2 -3 -0.5 -1 0.7 -0.5 0.1 -1.5 -0.7 -3 0.1 -1.5 -0.7 -1.5 0.7 -1.5 -0.7 -1 0.2 -0.5 -0.3 -1.5 0.6 -2.5 -0.1 -1 -0.5 -1.5 0.4 -2 -0.8 -1 0.4 -4 -0.3 -1.5 0.4 -1.5 -0.5 -1 0.4 -2.5 0 -2.5 -0.5 -8.5 0.1 -1.5 -0.2zM228.7 556.8l0 4.5 -0.3 0.5 -0.2 3.1 -0.5 0.2 -0.4 -1.3 0 -1 0.9 -2zM228.2 573.8l0.3 3 -0.3 5.4 -0.5 -0.3 0 -1.1 0 -3.9z" fill="#e4e6ea" stroke="none" fill-rule="evenodd"/><path d="M228.7 493.2l-0.5 -1.1 -0.5 -0.6 -0.5 -0.2 -1 0.7 -0.5 0 -0.5 -0.6 -0.5 -0.1 -0.5 1.1 -0.5 0.1 -0.5 -0.8 -1 -0.5 -2 0.5 -1 -0.9 -0.5 0.2 -0.5 0.7 -0.5 0.4 -2 -1.3 -0.5 0.2 -1 -0.7 -0.5 0.1 -1 1 -0.5 0.2 -1 -0.5 -0.5 -0.1 -1 0.4 -0.5 0 -1.5 -0.7 -2 0.3 -0.5 -0.3 -1.5 -0.1 -0.5 -0.2 -1.5 0.4 -1.5 -0.5 -0.5 0 -1 0.9 -0.5 0 -0.5 -0.1 -1 -0.8 -1 -0.2 -0.5 0.1 -1 0.4 -0.5 0 -0.5 -0.4 -0.5 0.1 -0.5 0.6 -0.5 0.1 -1 -0.4 -1.5 -0.2 -3 0.7 -0.5 -0.1 -0.5 -0.5 -0.5 -0.2 -0.5 0.5 -0.5 0 -1 -0.3 -2.5 0.3 -1.5 -0.5 -2 0.3 -1 -0.5 -2.5 0.8 -0.5 0 -1.5 -0.5 -1.5 0.5 -2.5 -0.9 -0.5 0 -1 0.7 -0.5 0 -1 -0.5 -0.5 -0.1 -1 0.4 -3 -0.3 -1.5 0.1 -1 0.3 -1.5 -0.1 -0.5 0.2 -1.5 -0.4 -3 0.1 -1 -0.2 -2 0.2 -3 -0.1 -1.5 0.3 -1.5 -0.3 -2.5 0.2 -4 -0.3 -1.5 0.3 -5 -0.2 -3 0.2 -4.5 -0.2 -1.5 0.2 -1.5 -0.1 -1.5 0.2 -3.5 -0.3 -4.5 0.1 -43 0" stroke="#c0c2c2"/><path d="M167.1 489.8l2.6 0.5 1.5 -0.3 1.5 0.4 3 -0.5 1.5 0.3 1.5 -0.3 5 0.3 1 -0.3 1.5 0.5 3 -0.4 2.5 0.3 1 -0.5 1.5 0.2 1 -0.2 1.5 0 1.5 0.7 1.5 -0.6 1.5 0.3 2 -0.3 9 0.7 2 -0.9 1.5 0.1 1.5 0.9 2 -0.6 1.5 0.4 1.5 -0.1 1.5 0.2 1 -0.5 1 0.9 0.5 0 1 -0.7 1.5 1.2 0 2.9 -1 -1.2 -2.5 -0.2 -1 0.8 -2 -1.4 -2 0.5 -1 -0.8 -0.5 0 -1 0.7 -1 -0.4 -1.5 0 -1 -0.7 -2 0.5 -1.5 -0.4 -1.5 0.3 -2 -0.7 -1.5 0.3 -2.5 -0.5 -1.5 0.2 -1.5 -0.5 -2 0.7 -2.5 -0.8 -3.5 0.6 -3 -0.4 -3 0.4 -1.5 -0.4 -1 0.3 -1 -0.3 -2.5 0.2 -4.5 -0.5 -2.5 0.4 -2 -0.3 -1.5 0.3 -2.5 -0.6 -2 0.5 -1.5 -0.4 -1.5 0.2 -2 -0.2 -5 0.3 -3 -0.4 -9 0.2 -8 -0.3 -69.5 0 77.5 -0.1 6.5 -0.3 7 0.3 7 -0.4 2 0.3z" fill="#c0c2c2" stroke="none" fill-rule="evenodd"/><path d="M228.7 483.5l-0.6 0.3 -0.9 1.6 -0.5 0.1 -1 -1.6 -1.5 0.5 -1 1.2 -0.5 0.3 -2 -0.8 -3 0.5 -1.5 -0.9 -0.5 0.1 -0.5 0.4 -0.5 0.1 -0.5 -0.3 -0.5 -0.1 -1 0.5 -2.5 -0.8 -0.5 0.2 -0.5 0.7 -0.5 0.2 -1.5 -0.4 -1 0.3 -0.5 0 -0.5 -0.3 -0.5 0 -1 0.6 -1.5 -0.4 -0.5 0.2 -0.5 0.6 -0.5 0.1 -1 -0.4 -1.5 0 -1 -0.3 -1.5 0.1 -1 -0.5 -1.5 -0.2 -0.5 0.1 -1.5 0.8 -1 0.1 -1 -0.3 -1.5 0.5 -1 -0.1 -0.5 0.2 -1.5 -0.6 -1.5 0.2 -1.5 -0.2 -1.5 0.1 -1.5 -0.3 -1.5 0.4 -0.5 -0.1 -0.5 -0.4 -0.5 -0.1 -1 0.6 -1 -0.1 -0.5 0.2 -2 -0.4 -1 0.6 -0.5 0 -0.5 -0.2 -1.5 0.1 -0.5 -0.4 -0.5 0 -1 0.4 -2 -0.6 -1.5 0.4 -1 -0.1 -1.5 0.3 -1 -0.3 -1 0.1 -0.5 -0.3 -1.5 0.6 -1 -0.2 -5 -0.2 -3.5 0.2 -1.5 -0.3 -2 0.4 -7.5 -0.4 -1.5 0.3 -1 -0.2 -1.5 0.2 -3.5 -0.1 -4 0.2 -2.5 -0.4 -1.5 0.3 -6.5 -0.2 -18.5 0.2 -29 -0.1" stroke="#9a9a98"/><path d="M223.8 483.8l1.9 -0.5 1 1 0.5 -0.1 0.5 -0.7 1 -0.6 0 2.3 -2 0.9 -1 -0.6 -1 -0.1 -2 1 -2.5 -0.4 -2.5 0.3 -2 -0.6 -3 0.5 -2.5 -0.3 -1.5 0.4 -6.5 -0.1 -1.5 0.5 -7.5 -0.8 -2 0.6 -2 -0.2 -3 0.4 -1.5 -0.4 -6 -0.1 -1.5 0.2 -1.5 -0.4 -2.5 0.5 -2 -0.3 -1.5 0.3 -3 -0.4 -1 0.3 -2 -0.4 -8 0.4 -20.5 -0.4 -69.5 0 60.5 0 18.5 -0.3 11 0.2 1.5 -0.3 2.5 0.2 4 -0.3 1.5 0.3 1.5 -0.3 3 0.3 1.5 -0.4 2 0.3 2.5 -0.4 1.5 0.3 1.5 -0.3 6 0.1 1.5 0.3 3 -0.4 1.5 0.2 2.5 -0.6 7.5 0.6 1.5 -0.5 1.5 0.2 1.5 -0.4 3.5 0.2 1.5 -0.7 2.5 0.3 1 -0.2 1.5 0.1 1 -0.4 2 0.5 2.5 -0.5 2 0.6z" fill="#9a9a98" stroke="none" fill-rule="evenodd"/><path d="M228.7 466.7l-0.5 0.8 -0.5 0 -0.5 -1 -0.3 0.3 -0.2 0.4 -0.5 2.5 -0.5 0.9 -0.5 0.2 -1 1.2 -0.5 0.3 -1.5 -0.2 -2 1.1 -0.5 -0.3 -0.5 -0.6 -0.5 -0.1 -1 2 -0.5 -0.5 -0.5 0 -0.5 0.6 -0.5 0 -0.5 -0.7 -0.5 -0.4 -0.5 0.1 -1 0.5 -1 1.2 -0.5 0.4 -0.5 -0.3 -1 0 -1.5 0.4 -1 -0.1 -1.5 0.5 -0.5 -0.2 -0.5 -0.6 -0.5 0.1 -0.5 0.6 -1 0.6 -0.5 -0.1 -0.5 -0.5 -0.5 0 -0.5 0.4 -0.5 -0.1 -0.5 -0.7 -0.5 -0.2 -1 0.6 -0.6 0 -0.9 0.8 -0.5 0.2 -1 -0.1 -1.5 0.2 -1 0.5 -0.5 -0.1 -0.5 -0.5 -0.5 -0.1 -0.5 0.4 -0.5 0.1 -0.5 -0.5 -0.5 -0.1 -0.5 0.5 -0.5 0.1 -1 -0.5 -0.5 -0.5 -0.5 0.1 -0.5 0.7 -0.5 0.3 -1.5 -0.3 -1 0.1 -1.5 -0.4 -0.5 0.3 -1.5 0.1 -1.5 0.6 -3 -0.7 -3 0.3 -1.5 -0.2 -2.5 0.8 -2 -1.1 -1.5 0.7 -1 0 -1.5 0.2 -1 -0.8 -0.5 -0.1 -1 0.4 -2.5 0.2 -1.5 0.4 -6.5 -0.4 -1.5 0.2 -2.5 -0.2 -1.5 0.3 -5.5 -0.2 -1.5 0.3 -9.5 -0.3 -1 0.2 -1.5 -0.2 -1 0.2 -4 0 -1.5 -0.2 -1.5 0.2 -5.5 0.1 -2.5 -0.1 -43 0" stroke="#5a5a52"/><path d="M227 465.8l0.7 -0.1 1 -0.7 0 4 -1.5 0.3 -1.5 2.6 -2 1.2 -3.5 0.8 -1 -0.6 -0.5 0.1 -1 1.7 -0.5 -0.5 -1.5 0.5 -1.5 -0.5 -1 0.2 -1.5 1.1 -1 -0.2 -4.5 0.7 -1.5 -0.3 -1.5 0.8 -1.5 -0.4 -1 0.2 -1 -0.4 -3 0.9 -2.5 0.1 -1 0.3 -1.5 -0.4 -3 0.3 -1.5 -0.5 -1.5 0.6 -4 -0.3 -3.5 0.6 -3 -0.3 -4.5 -0.1 -2.5 0.6 -2 -0.7 -4 0.6 -1.5 -0.6 -5 0.6 -17.5 -0.3 -1.5 0.1 -71 -0.1 71 -0.1 8.5 -0.3 10.5 0.1 5 -0.6 2 0.5 2 -0.1 1.5 -0.5 2 0.7 2.5 -0.6 4.5 -0.1 3 0.4 3.5 -0.7 4 0.3 1.5 -0.7 1.5 0.5 1 -0.4 1.5 0.4 0.5 -0.4 1.5 0.5 1 -0.4 2.5 -0.1 3 -1.1 1 0.4 1.5 -0.2 1 0.3 2 -0.9 1 0.4 2 -0.5 3.5 -0.2 2.5 -1.6 2 0.3 2.5 -1.5 1.5 0.6 2 -1.5 1.5 0.1 0.5 -0.4 1 -1.8 0.5 0.2 0.5 -0.7z" fill="#5a5a52" stroke="none" fill-rule="evenodd"/><path d="M211.1 444.8l0.6 4 0 1 -1 1.5 -0.4 2.5 0.4 2.4 0.6 1.6 -0.4 1 -1.4 1 -0.8 1.9 -1.2 2.1 -0.3 0.4 -0.5 0.1 -0.4 -0.5 -0.6 -2.6 -0.5 -0.9 -0.5 0.1 -0.5 3 -0.5 0.7 -0.5 0.3 -0.5 -0.1 -1.5 -2.2 -0.5 0.7 0 2.3 -1 0.8 -0.5 1.3 -0.5 0.2 -0.5 -1.4 -0.5 0 -0.5 1.2 -0.5 0.3 -2 -0.7 -1.1 1 -1.4 0.9 -0.5 0 -1 -1.6 -1.5 1 -1 0.4 -0.5 0 -1 -0.5 -0.5 0 -1.5 -0.6 -0.5 0.1 -1 0.7 -0.5 0.1 -0.5 -0.5 -0.5 0.2 -0.5 0.9 -0.5 0.2 -2 -0.6 -1.5 -0.1 -0.5 0.1 -0.5 0.6 -0.5 0.1 -0.5 -0.5 -0.5 -0.2 -1.5 0.5 -1 -0.1 -1 0.4 -0.5 0 -1 -0.4 -1.5 0.5 -1 -0.1 -1.5 0.4 -1 -0.3 -1.5 0 -3 0.7 -1.5 -0.6 -3 0.1 -1.5 0.3 -1.5 -0.3 -0.5 0.3 -0.5 -0.1 -0.5 -0.3 -0.5 0 -1 0.7 -1.5 0 -1 -0.5 -0.5 0 -1 0.4 -2 0.2 -2 -0.6 -3.5 0.2 -1.5 -0.1 -1 0.3 -4.5 -0.2 -1.5 0.2 -3.5 -0.4 -1.5 0.3 -8 0 -3.5 0.3 -2.5 -0.4 -45 0.2M208.7 448l-0.2 0.8 0.2 1.1 0.4 -1.1 -0.4 -0.8" stroke="#1e1e18"/><path d="M206.5 444.8l8.5 0 -0.3 2.5 -1 1.5 -0.2 1 -0.2 4 -1.1 6.2 -0.5 0.9 -1.5 -0.4 -0.5 0.4 -1 2.9 -1.4 1 -1.6 0.5 -0.5 -0.6 -0.5 0.1 -1.5 1.1 -1.5 0.3 -0.5 0.9 -0.5 0.1 -0.5 -0.2 -1.5 0.9 -0.5 -0.5 -0.5 0 -1 0.6 -2 0 -2.5 1.1 -0.5 0 -1 -0.7 -3 0.8 -3 -0.6 -4 1.1 -3.5 -0.4 -1.5 0.6 -1 -0.5 -1.5 0.4 -1.5 -0.2 -11.5 0.7 -3.5 -0.3 -3 0.2 -3 -0.2 -1.5 0.4 -2.5 -0.4 -3 0.4 -2 -0.4 -6 0.1 -70 0 59 -0.1 17 -0.5 2.5 0.3 2.5 -0.4 3 0.3 1.5 -0.5 3 0.2 4.5 -0.3 1.5 0.4 3 -0.5 5 -0.2 1.5 -0.4 1.5 0.3 3 -0.6 1.5 0.1 2.5 -0.5 2.5 0.4 1.5 -1.1 0.5 0.5 0.5 0 1 -0.6 2.5 -0.1 1.5 0.5 2.5 -1.1 1.5 1.1 1 -0.3 1.5 -1.5 1.5 0.3 1.5 -1.4 1 0 1 -0.5 1 -2.2 0.5 -0.4 1 0.6 1.2 -0.1 0.2 -1 -0.1 -3 0.2 -0.7 0.5 -0.3 0.5 0.9 1 0.5 0.4 0.6 0.6 3.3 0.5 -0.1 0.5 -2.5 1.7 -2.7 0.1 -3 -0.2 -1 -1.1 -1.4 -0.5 -0.2 -0.5 1 -0.5 -1z" fill="#1e1e18" stroke="none" fill-rule="evenodd"/></g>
<g clip-path="url(#cp5)" fill="none" stroke-width="0.95" stroke-linejoin="round"><path d="M327.5 584.8l-0.8 -0.6 -0.5 -0.9 -0.7 -3.5 -0.6 -2 -2 -3 -2.3 -4 -6 -7 -2.9 -2.7 -2.5 -1.2 -3.5 -1.2 -3 -1.5 -4.3 -1.4 -5.7 -1.2 -9 -1.2 -1 -0.3" stroke="#ffffff"/><path d="M282.7 553.2l1 0 2 0.3 2.5 0.3 3.5 0.6 4.5 0.9 4 1.1 4 1.4 3 1.3 3 1.6 2.5 1.7 2.5 2 2.3 2.4 1.7 2 2 3 1.6 3 1.3 3 1 3 1.2 4 -2.7 -8 -2.9 -5.7 -4 -5.1 -4.5 -3.9 -5.8 -3.3 -6.7 -2.5 -8.5 -2z" fill="#ffffff" stroke="none" fill-rule="evenodd"/><path d="M364.6 584.8l-0.5 -8 0.1 -5 -1 -4 0.3 -4 -1 -2 -0.2 -2 0.1 -2 0.5 -3 -0.2 -0.7 -1.3 -2.3 -0.7 -2.3 -0.5 -0.9 -0.5 -2.3 -0.5 -0.5 -0.5 -1 -1 -1.3 -0.5 -1.8 -0.5 -0.3 -0.5 0.7 -0.5 -0.4 -0.5 -0.9 -1.5 -1.2 -2.5 -2.6 -0.5 -0.2 -1.5 -0.1 -1 -1 -2 -0.7 -1 -1.2 -0.5 -0.2 -0.5 0.5 -0.5 0 -1 -0.9 -2 -0.9 -1.5 0 -4 -1.4 -1.5 0 -2 -0.7 -3.5 -0.1 -2.5 -0.6 -3 -0.2 -3 -0.6 -7.5 -0.5 -14 -0.6 -15.5 -0.4" stroke="#e4e6ea"/><path d="M282.7 527.2l1 0 5.5 0.1 4 0.1 4 0.1 6.5 0.2 5.5 0.3 2.5 0.1 2.5 0.2 2.5 0.2 2.5 0.2 2 0.2 2.5 0.3 2 0.2 1.5 0.2 2 0.3 2 0.4 1.5 0.3 2 0.4 3 0.7 3 0.9 4.5 1.5 6 3 5 4.2 1 0.4 2.8 4.1 1.2 2.9 0.5 2.3 1 1.9 0.5 1.9 -0.4 5 1 3 0.6 6 0.8 16 -1.2 0 -0.6 -12 -1.3 -9 -0.5 -9 -1.5 -4 -0.7 -3 -1.2 -2.3 -3 -4.1 -4 -3.7 -6 -3.4 -3.5 -1.4 -6 -1.7 -7 -1.3 -8.5 -1.1 -10 -0.7z" fill="#e4e6ea" stroke="none" fill-rule="evenodd"/><path d="M386.7 530.6l-0.2 2.2 0.2 1 0.5 0.1 0.3 -1.1 -0.3 -1.3 -0.5 -0.9M387.7 538.7l-0.4 3.1 0.4 1.2 0.5 -0.5 0.1 -0.7 -0.1 -2.4 -0.5 -0.7M390.2 554.8l-0.1 0 0.3 1 0.3 4 0.5 -0.1 0.1 -0.9 -0.1 -4 -0.5 -0.8 -0.5 0.8M387.1 584.8l0.6 -1.5 0.5 -0.4 0.5 -0.1 0.4 -1 1.2 -5 -0.6 -3.5 -1.1 -2.5 -0.3 -4 -0.9 -3 0.2 -2 1.1 -1.2 0.3 -0.8 0.5 -5 -0.8 -2 -0.5 0.4 -1 -3.4 -1 -2.1 -0.2 -0.9 -0.1 -1 0.8 -4 -0.5 -5 -0.5 -0.1 -0.5 2.6 -0.5 1.2 -0.5 -0.6 -1 -3.1 0.3 -1 0.7 -1.5 0.2 -1.5 -0.2 -0.5 -0.5 -0.3 -0.5 0.2 -0.2 -0.4 -0.3 -1.6 -0.3 -4.4 -0.2 -1.2 -0.5 -0.1 -0.5 0.8 -0.5 0.1 -0.5 -0.6 -0.5 -0.1 -0.5 0.3 -0.5 -0.4 -1.5 -2.4 -2 -2.7 -0.5 0 -1.5 1.5 -0.5 0 -1 -1.5 -1.5 -1.2 -1.5 -0.2 -0.5 -0.3 -1 -1.3 -0.5 0 -0.5 0.8 -0.5 0.4 -2 -1.1 -2 -0.1 -1.5 -1.1 -0.5 0 -1.5 0.6 -0.5 -0.3 -0.5 -0.8 -0.5 -0.1 -0.5 0.4 -0.5 0.2 -1.5 -0.6 -2 0.2 -2 -0.5 -1.5 0.2 -1 -0.1 -0.5 0.3 -2 -0.4 -3.5 0.3 -1 -0.5 -2.5 -0.1 -1.5 0.5 -1.5 -0.4 -1.5 -0.1 -3.5 0.2 -2.5 -0.5 -45 -0.1" stroke="#c0c2c2"/><path d="M282.7 513.7l1 0 9 0 12 0.1 9 0.1 5.5 0 4 0.1 5 0.1 6.5 0.1 11 0.4 1.5 0.1 3 0 5.5 0.4 1 -0.2 1.5 0.6 2 -0.3 1.5 0.6 2 0.1 2 0.7 1.5 -0.6 1.5 1 2.5 0.5 1 0.9 0.5 1.1 0.5 0.1 1 -1.1 1 -0.4 3 3.8 1.5 0.4 1 0.7 1 -0.5 0.5 0.2 0.5 0.7 0.4 1.4 0.1 4 0.5 1.4 1.5 1 0.5 -0.1 1 -3.2 0.5 1.4 0.7 3.5 0.8 8 -0.4 4 -0.8 1 0.3 1 1.4 1.5 0.5 3.2 0.5 0.9 0.5 0 0.8 2.4 0.1 5 -0.4 2 -0.9 2 -0.6 3.6 -0.3 -3.6 -0.2 -0.4 -0.8 0.4 0.4 1 0.4 3.9 0.5 -0.8 0.5 2.1 0.4 6.8 -0.5 5 0.6 0.7 0.6 2.3 -4.9 0 1 -5 -0.1 -8 0.5 -4 -0.6 -1 -0.4 -4 -1.3 -4 0.7 -2.8 0.7 -1.2 -1.2 -7 0.2 -6 -0.2 -0.7 -0.5 1.3 -1 0.1 -1.5 -5.7 -1 -8.4 -0.5 0.3 -1 -1.7 -0.5 -0.3 -0.5 0.2 -2 -3.3 -2 -2.1 -1 -0.3 -1 0.4 -0.5 -0.1 -1 -1.1 -2 -1.1 -1.5 -0.5 -1 -1 -0.5 -0.1 -1 0.6 -2 -1 -2 -0.3 -1.5 -0.8 -2 0.1 -1.5 -0.7 -1 0.2 -5.5 -0.8 -23.5 -1zM388.7 576.1l-0.2 0.7 0.2 0.9 0.6 -0.9zM389.7 540.8l0.5 0.3 0.1 0.7 -0.6 2 -0.3 -2z" fill="#c0c2c2" stroke="none" fill-rule="evenodd"/><path d="M393.2 444.8l0.5 1.2 0.5 3.8 -0.3 4 -1.1 5 -0.2 6 -0.5 2 -0.5 4 0.1 1 0.7 2 0.3 1.9 0.5 1.1 0.3 -1 0.2 -1.8 0.2 1.8 -0.5 5 -0.2 1 -1.2 3 -1.8 1.4 -0.5 1.3 -0.5 0.2 -0.5 0.5 -0.2 0.6 0.2 2.1 0.5 1.4 0.5 -0.4 0.3 0.9 -0.3 0.6 -1.5 1.7 -1 0.4 -0.5 1.6 -0.5 3.5 -0.5 0.6 -1 -2.2 -0.5 -0.2 -0.5 0.4 -1 2 -1.5 0.7 -0.5 0 -0.5 -0.2 -0.5 0 -1.5 1.6 -0.5 0.2 -0.5 0 -1 -0.6 -0.5 0.1 -0.5 0.7 -0.5 0.1 -0.5 -0.4 -0.5 0 -0.5 0.8 -0.5 0.1 -0.5 -0.5 -0.5 -0.1 -1.5 0 -2.5 1.7 -1.5 0.4 -1.5 -0.6 -1.5 -0.1 -1 0.5 -1.5 -0.3 -3 0.8 -0.5 -0.3 -1.5 0 -0.5 -0.2 -1.5 0.4 -0.5 -0.3 -0.5 0 -1 0.5 -0.5 0 -5.5 -0.2 -2 0.1 -2 0.6 -1 -0.3 -3.5 -0.3 -2 0.4 -7 0.2 -2.5 -0.2 -6 0.2 -37 0M395.8 461.8l0.4 -0.7 0.3 0.7 0 1 -0.3 0.9 -0.5 -0.8 0.1 -1.1M393.6 465.8l0.1 -0.3 0.5 1.3 -0.5 2.5 -0.3 -2.5 0.2 -1M391.2 477.6l-0.5 0.4 0 3.1 0.5 -0.2 0 -3.3M394.5 478.8l0.2 -0.3 0.5 1.3 -0.5 1.3 -0.3 -1.3 0.1 -1" stroke="#9a9a98"/><path d="M391.8 444.8l2.6 0 0.7 8 0.1 0.4 0.5 -0.9 0.2 0.5 0.3 4 0.8 1 -0.1 6 -1.1 4 -0.1 1.3 -0.1 -2.3 -0.9 -5 0 12.9 0.7 3.1 0 3 -0.2 1.2 -0.5 0.9 -0.5 0.1 -0.4 0.8 0.2 5 -0.3 1.2 -0.5 0.6 -0.5 -0.3 -0.1 -1.5 -0.4 -1.2 -0.5 0.1 -0.6 1.1 0.4 2 0.9 2 -0.2 1.3 -0.5 0.4 -0.5 -0.4 -0.5 0.3 -1.5 2.8 -2 1.1 -1 3.2 -0.5 0.4 -1.5 -1.2 -0.5 0.3 -1 1.4 -1.5 0.5 -1.5 0 -1.5 1.1 -1 0.1 -1 -0.3 -1 0.6 -1.5 -0.1 -1 0.7 -1 -0.5 -5.5 1.5 -2.5 -0.4 -6 0.6 -2.5 -0.3 -4 0.3 -20 0.4 -10 0.1 -9.5 0 -14 0.1 -15 0 52 -0.3 23 -1 3 -0.6 6.5 -0.4 3 -1.3 2.5 0.1 1 -0.6 1.5 0 1 -0.7 1.5 0 3.5 -2.4 1 -0.1 2.5 -3.4 0.5 0.3 0.5 1.8 0.5 -1.2 0.5 -2.9 1.2 -2.3 0.4 -3 1.1 -3 0.8 -4.9 0.5 -8.4 0.9 -6.7 0.7 -3 -1 -9z" fill="#9a9a98" stroke="none" fill-rule="evenodd"/><path d="M371.4 444.8l0 4 -0.5 5 0.1 4 -0.3 0.6 -0.5 -1.4 -1 -1.1 -0.3 1.9 0.3 1.1 0.8 0.9 0.2 1 0.1 6 -0.8 5 -0.8 2.6 -0.5 2.4 -1 1.6 -0.5 0.3 -0.5 -0.4 -0.5 1 -0.5 3.1 -2 2.4 -1 1.8 -0.5 0.6 -1.5 0.7 -0.5 0.5 -0.5 1 -0.5 0.4 -1 0 -0.5 -0.3 -0.5 0 -1 1 -1.5 0.9 -1 0 -1.5 0.7 -1 -0.1 -2.5 0.9 -1.5 0.7 -1 0.1 -2.5 0.5 -1.5 -0.2 -1 0.1 -1.5 0.6 -1 0.1 -1.5 -0.3 -1.5 0.4 -1.5 0.6 -5.5 0 -3 0.4 -5.5 0 -6.5 0.4 -30.5 0.5" stroke="#5a5a52"/><path d="M369.8 444.8l2.1 0 0.1 4 -0.7 4 0.1 5 -0.8 4 0.2 5 -1.1 6.7 -1.4 4.3 -2.1 4 -0.5 2.1 -1 0.6 -2.9 3.3 -1.6 0.8 -1.1 1.2 -2.4 0.6 -2.5 1.2 -7 1.8 -2.3 0.4 -5.2 0.7 -2 0.3 -4 0.4 -4 0.3 -3 0.2 -2 0.1 -2.5 0.2 -3 0.1 -3 0.1 -2.5 0.1 -6 0.1 -7.5 0.2 -9 0.1 -6.5 0 -2 0 32 -0.4 20 -1.2 7.5 -0.9 5 -1 7 -2.1 3 -1.8 1.5 -0.2 3.5 -3.3 2.4 -4 1.6 -4.8 1.5 -1.6 0.5 -1.9 0.6 -6.7 0.9 -4 -1 -5 0.5 -4.3 0.5 0.3 0.5 -3 0.1 -2z" fill="#5a5a52" stroke="none" fill-rule="evenodd"/><path d="M349.1 444.8l0.1 4 -0.1 2 -0.4 2.8 -0.5 1.1 -0.2 1.1 -0.3 5.3 -0.5 -0.2 -0.5 0.3 -0.3 0.6 -0.5 4 -0.7 2.5 -1 1.4 -1 2.7 -0.5 0.2 -1 -0.2 -1 0.6 -1.5 2 -1 0.2 -1 1.2 -1.5 1.3 -0.5 0.2 -1.5 0.2 -2 1.4 -1.5 0 -2.5 1.3 -2 0.2 -3 0.8 -3 0.2 -4 0.7 -13 1.4 -14.7 0.7 -5.3 0" stroke="#1e1e18"/><path d="M349 444.8l0.7 0 -0.8 8 -1.2 7 -2 7 -1 2 -2.1 3 -2.1 2 -1.2 1 -1.4 1 -1.6 1 -1.8 1 -2.2 1 -2.7 1 -1.9 0.6 -2.5 0.7 -2.5 0.6 -3 0.6 -3 0.5 -3.5 0.4 -3.5 0.4 -3.5 0.3 -4 0.3 -5 0.3 -5 0.2 -6 0.2 -2.5 0 -1 0 19.5 -0.7 14.5 -1.5 6 -1 5 -1.3 4.5 -1.6 4.1 -2 2.9 -2 3.3 -3 2.8 -5 2 -8 1.3 -8z" fill="#1e1e18" stroke="none" fill-rule="evenodd"/></g>
<g clip-path="url(#cp6)" fill="none" stroke-width="0.95" stroke-linejoin="round"><path d="M535.8 584.8l-2.3 -1.9 -3.4 -2.1 -1.6 -0.8 -2 -0.6 -8 -1.9 -6.5 -1.2 -6 -0.8 -6.5 -0.5" stroke="#ffffff"/><path d="M499.5 575.1l1 -0.1 4 0.4 4 0.4 3 0.4 3.5 0.5 2.5 0.5 2.9 0.6 2.1 0.5 1.7 0.5 2.3 0.7 1.5 0.5 2 0.9 2 0.9 1.8 1 1.6 1 1.4 1 -3.1 -2 -3.7 -1.9 -7.5 -2.5 -10.5 -2.1z" fill="#ffffff" stroke="none" fill-rule="evenodd"/><path d="M580.4 584.8l-0.7 -4 -0.2 -3.2 -0.5 0.8 -0.4 -1.6 -0.2 -4 -0.4 -0.9 -0.5 -0.4 -0.5 0.1 -0.5 -0.5 -1.5 -2.8 -4 -4.3 -0.5 -0.4 -0.5 0.1 -0.5 -0.4 -0.5 -0.9 -0.5 -0.4 -1 0 -0.5 -0.2 -1.4 -1 -1.1 -0.2 -1.5 -0.9 -1.5 -0.2 -1.5 -1 -1.5 -0.2 -1 -0.5 -1 0 -3 -0.8 -1.5 0.1 -2 -0.7 -5 -0.3 -3 -0.6 -5.5 -0.7 -14 -0.6 -23 -0.5" stroke="#e4e6ea"/><path d="M499.5 553.7l1 0 3.5 0 3.7 0.1 3.8 0.1 6.5 0.1 5.5 0.2 5 0.2 4.5 0.3 3.5 0.2 2 0.2 2 0.2 2 0.2 1.5 0.2 1.5 0.1 2 0.3 1.5 0.2 1.5 0.3 1.3 0.2 1.7 0.3 2.5 0.6 2 0.5 2.2 0.6 3 1 5.3 2.3 2.5 1.7 4 3.8 1.5 2.4 1.5 1.4 2 5.4 1 8 -1.2 0 -2 -11 -2.9 -5 -2.5 -3 -3.6 -3 -6.1 -3 -4.2 -1.4 -5 -1.3 -13 -1.8 -17 -1.1z" fill="#e4e6ea" stroke="none" fill-rule="evenodd"/><path d="M605.9 584.8l-1.4 -3.5 -0.4 -0.5 0.4 -0.4 1.3 -3.6 -0.1 -1 -0.2 -0.8 -0.5 -0.3 -0.5 -0.6 -0.5 -2.7 -0.7 -1.6 -1.4 -6 -0.6 -6 -0.3 -0.8 -0.5 -0.1 -0.5 0.5 -0.5 -0.1 -1.5 -2.5 -0.7 -3 -0.8 -1.2 -0.5 -0.3 -0.5 0 -0.5 0.4 -0.5 -0.1 -1.5 -2.6 -0.5 -0.3 -1.5 0.2 -1.5 -1.3 -2 0 -1.5 -1 -1.5 0.4 -1 -0.3 -1.5 0.5 -0.5 -0.2 -1 -0.9 -0.5 -0.1 -1 0.3 -1.5 -0.6 -1 0.1 -2.5 -0.6 -3 0.3 -1 -0.3 -1 0.1 -1.5 -0.5 -2 0.4 -3 -0.5 -1.5 0.2 -1.5 -0.3 -1 0.2 -2 0 -1.5 -0.3 -4.5 -0.1 -51 -0.3" stroke="#c0c2c2"/><path d="M499.5 543.2l14.5 0 13 0 7.5 0.1 5 0 4 0.1 4 0.1 4 0 11 0.3 3.5 0.2 1.5 -0.1 3.5 0.3 3 -0.1 6 0.6 2 0.7 4 -0.1 1.5 0.6 2 0.2 1.5 1 1.5 0 2.5 1.8 2.1 0.9 2.4 4.3 0.5 0.3 0.5 -0.6 0.5 0.1 0.5 0.7 2 9.5 0.5 1.4 0.3 -1.7 0.2 -0.3 0.5 0.3 1 3.9 0.7 9.1 -1.1 4 0.4 1.8 1.3 2.2 -2.8 0 -1 -2.2 -0.3 -1.8 0 -6 -0.6 -3 -0.3 -4 -0.8 -2.6 -1 -1.4 -0.4 -3 -2.6 -5.6 -0.5 -1.9 -1 -1.2 -1.5 -0.4 -1.5 -2.2 -2 -0.7 -1.5 -1.2 -2 -0.2 -1.5 -0.8 -2.5 -0.4 -1.5 0.2 -2 -0.9 -1 0.1 -5 -1 -6.5 -0.5 -23 -0.7z" fill="#c0c2c2" stroke="none" fill-rule="evenodd"/><path d="M609.4 444.8l1 4 0.1 1 -0.4 10 -0.5 3 -0.1 2.6 0 1.7 0.5 1.1 0.4 -1.4 -0.2 -5 0.8 -1.7 0.5 -3.5 0.5 0.1 0.4 1.1 -0.6 6 -1 3 0.2 0.7 0.2 6.3 0.3 2 -0.2 2 0 4 0.2 1.3 0.7 1.7 -0.7 4 -0.5 -1.2 -0.2 1.2 0.2 4.3 -0.5 -0.2 -0.5 -1 -1 -0.9 -0.4 0.8 -0.1 1 0 1 0.8 2 1.2 6 0 2 -1 1.4 -0.2 1.6 0.2 0.9 0.6 1.1 0.2 1 -0.1 2 -1.1 3 0 1 0.8 4 -0.5 2 -0.4 3.6 -0.5 0.6 -0.5 -0.6 -0.5 0 -1.8 3.4 -1.7 2.2 -0.5 0.1 -0.5 -0.5 -0.5 0.2 -1.5 3.3 -0.5 -0.4 -0.5 -1.5 -0.5 0.3 -0.5 1.9 -0.5 0.4 -0.5 -0.5 -1 -0.3 -1 1.4 -1 0.3 -1.5 -0.6 -1.7 0.7 -1.3 1.1 -1 -0.3 -1.5 0 -3.5 1.1 -3 -0.2 -1.5 0.4 -2 0 -1 0.3 -1.5 -0.2 -4 0.5 -2 -0.1 -3 0 -1.5 0.3 -7.5 0 -4 0.2 -1.5 -0.2 -15.5 0.3 -37 0M609.5 481.2l-0.3 1.6 0 2 0.3 0.9 0.5 0.1 0.3 -1 0 -1 -0.3 -2 -0.5 -0.6M607.5 518.3l-0.6 1.5 0.6 1.1 0.5 -1.1 -0.1 -1 -0.4 -0.5" stroke="#9a9a98"/><path d="M608.8 444.8l1.9 0 0.3 0.8 0.3 -0.8 1.7 0 -1.2 2 -0.3 6 0.1 1 1.4 4 -0.6 2 -0.6 7 0.2 9 -0.3 4 0.3 2 0.8 2 0.1 5 -0.9 4 -0.5 4.9 -0.4 1.1 -0.1 3 0.4 5 -1.2 9 0.2 4 -1.4 6.8 -0.5 0.4 -0.5 -0.1 -0.5 0.2 -1.3 2.7 -2.2 2.4 -1.5 0.5 -1.5 2.2 -0.5 0 -0.5 -0.9 -0.5 0.2 -0.5 1 -0.5 0.2 -1 -0.2 -1 1 -1.5 0.1 -1.5 -0.3 -1.5 0.4 -1.5 0.9 -2.5 -0.1 -3.5 0.7 -3 0 -4.5 0.5 -1.5 -0.1 -4 0.2 -1.5 0 -5 0.1 -1.5 0 -10 0.2 -4 0 -4.5 0.1 -8.5 0 -13.5 0.1 -12 0 -11.5 0 54 -0.2 23.5 -0.9 4.5 -0.6 3.5 -0.2 3 -0.8 2.5 -0.1 3 -1.4 1.5 0.2 1 -0.6 1 -1.1 1.5 0.5 1 -1.8 0.5 -0.3 1 0.2 1.5 -2.2 0.5 -0.3 1 0 1 -1.1 2.2 -4.5 -0.7 -4 1.5 -5.8 1.3 -3.2 -0.5 -5 0.2 -2.3 0.6 -1.7 -1.3 -9 0.2 -2.6 0.5 -0.6 0.5 0.5 0.6 -1.3 -1.1 -2 -0.6 -7 1 -4 -0.3 -9 0.4 -9 -0.2 -4 0.3 -4z" fill="#9a9a98" stroke="none" fill-rule="evenodd"/><path d="M587.8 444.8l0.4 4 -0.5 13 0.1 1 0.9 4 -1.1 3 -0.3 2 0.1 3 0.4 2 0.2 3 -0.5 5 0 7 -0.5 0.6 -0.3 1.4 -0.2 8 0.2 5 -0.7 1.7 -1 4 -1 2.2 -0.9 3.1 -2.2 5 -1.4 0.6 -1.5 1.6 -0.5 0.3 -1.5 0 -3 1.2 -1 0.1 -2 1.1 -0.5 0.1 -1.5 -0.3 -1.5 0.5 -1 0 -7 1.3 -1 -0.1 -2.5 0.2 -1.5 -0.1 -3 0.6 -22 0.7 -29 0.3" stroke="#5a5a52"/><path d="M587.3 444.8l1.5 0 -0.5 17 0.6 5 -0.9 5 0.6 4 -0.5 13 0.2 4 -0.8 2.4 -0.3 2.6 0.1 2 0.6 2 -1.4 8.2 -2.7 7.8 -2.8 5.4 -3.5 2.2 -7.5 2.2 -7 1 -2.5 0.3 -3.5 0.3 -2 0.2 -2.5 0.2 -2 0.1 -3 0.2 -2.5 0.2 -3 0.1 -3 0.1 -3.5 0.1 -3.5 0.1 -3.5 0.1 -4 0.1 -4.5 0 -4.5 0.1 -5.5 0 -7.5 0.1 -2 0 -1 0 37.5 -0.5 12 -0.6 10 -0.8 11.5 -1.9 7 -2.4 3 -2.7 2.5 -5.2 2 -5.9 1.1 -6.1 0.3 -12 0.7 -4 0.1 -9 -0.4 -4 0.1 -6 0.7 -3 -0.4 -2 -0.3 -6 0.5 -5z" fill="#5a5a52" stroke="none" fill-rule="evenodd"/><path d="M567.5 444.8l-1 2.6 -0.3 1.4 0.6 5 -0.2 4 0.4 5 -0.2 2 -0.7 2 0.2 4 0 5 0.5 4 -0.8 5 0.4 2 0.5 2 -0.7 2 -1.4 8 -0.3 3 -0.5 1.3 -0.5 0.4 -0.5 -0.4 -0.4 3.7 -0.6 1.1 -0.5 0.3 -0.5 0.1 -0.5 0.8 -0.5 1.8 -0.5 0.5 -1 -0.1 -1 0.9 -2.5 3 -1.5 0.1 -1.5 1.1 -1.5 -0.3 -1.5 0.7 -2 1.4 -2.5 0.8 -2 0.4 -3 0.1 -3 1 -6 0.7 -15 0.9 -16 0.4M567.3 465.8l0.2 -0.3 0.5 0.7 0.1 0.6 -0.1 1.4 -0.5 1.6 -0.4 -3 0.2 -1M564 497.2l-0.3 0.6 0.3 1.1 0.3 -1.1 -0.3 -0.6" stroke="#1e1e18"/><path d="M566.5 444.8l0.7 0 -0.5 4 0.3 14 -0.4 26 -2.5 13 -1.8 5 -2.3 3.4 -1.5 1.6 -1.1 1 -0.9 0.7 -1 0.7 -1 0.6 -1.8 1 -2.3 1 -1.4 0.5 -1.5 0.6 -1.5 0.4 -1.7 0.5 -1.8 0.4 -1.5 0.3 -2 0.4 -2 0.3 -2 0.3 -2 0.3 -4 0.4 -5 0.4 -2.5 0.2 -2.5 0.1 -6 0.3 -7 0.2 -5 0.1 -1.5 0 24.5 -0.9 8.9 -0.8 7.6 -1.2 6.5 -1.6 5 -1.9 4 -2.3 3.5 -3 2 -3 0.9 -2 2.5 -10 1 -7 0.5 -9 -0.2 -31z" fill="#1e1e18" stroke="none" fill-rule="evenodd"/></g>
<g clip-path="url(#cp7)" fill="none" stroke-width="0.95" stroke-linejoin="round"><path d="M175.3 735.9l0.4 -0.5 0.5 0.8 0 1.2 -0.5 0.5 -0.4 -1 0 -1M190.2 735.9l-0.5 1 0.1 1 0.4 1.2 0.8 -2.2 -0.3 -0.7 -0.5 -0.3M178 739.9l0.2 -0.7 0.3 1.7 -0.3 0.9 -0.4 -0.9 0.2 -1M191.7 739.9l-0.2 1 0.2 3 0.5 -0.5 0.5 -2.2 0.3 -0.3 -0.8 -1.4 -0.5 0.4M193.7 739.9l-0.4 1 0.4 1.2 0.5 -1.2 -0.5 -1M186.7 742.6l-0.5 3.3 0.1 2 0.2 1 0.2 0.3 0.6 -0.3 0.3 -3 -0.4 -3.5 -0.5 0.2M179.6 743.9l0.1 -0.2 0.5 1.2 0 0.9 -0.5 1.3 -0.4 -1.2 0 -1 0.3 -1M183.6 747.9l0.1 -0.3 0.5 1.4 0.2 2.9 0.7 2 0.1 4.8 -0.5 -0.8 -0.4 -2 -0.6 -1.9 -0.3 -4.1 0.2 -2M189.7 747.8l-0.5 3.1 -0.6 1 -0.2 2 0.2 6 0.1 0.6 0.5 0.5 0.4 -1.1 0.8 -10 -0.2 -2.2 -0.5 0.1M192.7 756.5l-0.4 1.4 0.1 2 0.3 1.1 0.5 0.9 0.3 3 0.2 0.5 0.8 0.5 0.2 2.4 0.5 0.1 0.4 -0.5 0.1 -1 -0.4 -1 -0.6 -0.3 -0.3 -3.7 -0.2 -0.8 -0.5 -0.6 -0.5 -3.3 -0.5 -0.7M193.7 770.3l-0.3 0.6 -0.7 3 -0.2 3 0.7 1.5 0.5 4.7 0.5 0.1 0.5 -2.3 -0.1 -4 -0.4 -4.9 -0.5 -1.7M185.6 774.9l0.1 -0.5 0.5 1.5 -0.5 1.1 -0.3 -1.1 0.2 -1M195.7 778.6l-0.3 2.3 0.3 0.9 0.5 -0.4 0.1 -0.5 -0.1 -1.9 -0.5 -0.4M197.2 793.7l0 0.4 0.5 0.7 0.5 -0.1 0.2 -0.8 -0.2 -0.5 -0.5 -0.3 -0.5 0.6M191.1 802.9l0.3 -2 0.3 -0.5 0.5 0.3 0.1 0.2 0.4 2M198 802.9l-0.4 -1 -0.4 -0.5 -0.5 0.2 -0.5 0.9 -0.5 0 -1 -1.1 -0.6 -1.5 -0.3 -2 -0.1 -4 -0.3 1 -0.2 0.2 -0.6 -1.2 -0.5 -6 -0.4 -0.6 -0.5 0.2 -0.5 -0.9 -0.1 -1.7 0.1 -0.9 0.5 -0.7 0.5 0.6 0.5 -0.3 0.1 -4.7 -0.1 -0.8 -0.5 -0.5 -0.3 -0.7 -0.2 -1.2 -1 -1.9 -0.5 1.1 -0.6 6 0.4 4 -0.2 5 0.2 4 -0.3 1 -0.5 0.2 -0.4 -1.2 -0.1 -4.6 -0.5 -2.5 -0.5 1.6 -0.1 -3.5 0.1 -1.1 0.5 -0.9 0.1 -2 0.4 -2 0.5 -7.5 1 -1.5 0.5 -2 0.3 1 0.7 0.2 0.5 -0.3 0.5 -0.9 -0.7 -3 -0.3 -5.1 -0.5 -1 -0.7 3.1 -0.3 3.7 -1 -0.9 -1 -1.5 -1.1 -0.3 -0.1 -4 1 -4 0.1 -2 -0.4 -2 -1 -0.6 -0.1 -0.4 -0.1 -2 -0.3 -0.8 -0.6 -7.2 -0.4 -3.3 -0.5 0 -0.5 -0.9 -0.5 -3.5 -0.5 0.1 -0.5 2.4 -0.5 0.4 -1 -0.5 -1 -2.7 0.4 -4 -0.4 -0.3 -0.1 5.3 -0.4 1.4 -1 0.8 -0.5 -3.2 -0.5 -1.7 -0.5 -0.4 -1 0.3 -0.5 -0.2 -0.2 -2 -0.8 -1.4 -0.5 0 -0.2 0.4 -0.4 3 -0.9 2.3 -0.5 -0.8 -0.5 -1.9 -0.5 -0.6 -1 -0.6 -0.5 0 -1.5 -2.8 -0.5 -1.5 -0.5 -0.4 -0.5 1.1 -0.5 0 -0.5 -1.7 -0.5 -0.3 -0.5 1 -0.5 0.3 -0.5 -0.5 -0.5 -0.2 -0.5 0.5 -0.5 1.1 -0.5 0.4 -0.5 -0.7 -0.5 -3.4 -0.5 -1.2 -0.5 0.1 -1.5 2.2 -0.7 2.6 -1.8 3 -1 -4.8 -0.5 0.3 -0.5 1.5 -0.5 0 -1 -2.2 -1 0.3 -0.5 0.5 -0.5 -0.3 -1.3 -2.3 -0.2 -1.1 -0.5 -0.9 -0.5 4.1 -0.5 0.2 -0.5 -0.2 -1 -2 -0.5 0 -1.4 0.9 -0.6 1.4 -0.1 -0.4 -0.1 -4 -0.3 -1 -0.5 0 -0.5 3.5 -0.5 0.5 -0.5 -0.2 -1 0.3 -0.5 0.3 -0.5 1.1 -0.5 -0.6 -0.5 -1.4 -0.5 -0.2 -0.5 0.5 -0.5 0.2 -0.5 -0.6 -0.5 0 -0.5 0.3 -0.5 -0.4 -0.5 -1.2 -0.5 -0.3 -1.5 1 -0.5 -0.1 -1 -1.8 -0.5 0.3 -1 1.8 -0.5 -0.3 -0.5 -1.2 -0.5 -0.2 -1 1.5 -0.5 0.5 -0.5 0.2 -0.5 -0.9 -0.5 -1.7 -1 1.2 -0.5 0 -1 -0.7 -1.5 1 -1 -0.8 -0.5 -0.2 -1.5 2.2 -2 -0.3 -1 0.1 -2.5 1 -1 -0.2 -2 -1.4 -2 -0.2 -25.5 -0.3 -14 0 -1 -0.2" stroke="#ffffff"/><path d="M141.7 717.9l0.5 -0.1 1.5 2.6 0.5 -0.2 1 -1.2 1 0.4 1.5 -1.2 0.5 0.3 1.5 2.7 0.5 0.2 1 -0.5 1.5 -1.8 0.5 0 1.5 1.6 1 0.4 1 0.9 2.5 -3.1 0.5 0.1 0.5 0.7 1 2.8 1.5 -1.4 1 0.9 1.5 -1 0.5 0.9 0.5 0.2 0.5 -0.7 0.5 0.4 0.5 1.5 0.5 0.5 0.5 -0.9 0.1 -2 0.4 -0.4 0.1 1.4 1.4 2.3 0.5 0.3 0.5 -1.2 0.5 -0.3 1 1.6 1.8 1.3 0.7 2 0.5 0.3 1 -1.5 0.5 -3 0.5 -0.4 0.5 3.6 1 -1.3 0.6 0.3 0.5 2 0 4 0.4 0.8 0.7 -0.8 0.1 -4 0.7 -0.5 0.6 0.5 0.7 4 0.7 1.5 0.5 -0.1 0.5 -2.6 0.5 -0.1 0.1 3.3 -0.6 1 -0.2 2 0.2 2.5 0.5 1.2 0.2 -5.7 0.9 -1 0.4 -3.1 0.5 0.6 -0.3 5.5 0.3 4 0.5 1.8 0.6 -0.8 -0.1 -5 0.5 -1.7 0.5 -0.3 0.9 1 0.6 2.4 0.5 0 0.5 -0.6 0.5 -0.1 0.5 0.8 0.5 0.2 0.5 -2.4 0.5 0.2 0 1.4 -0.7 1.1 -0.3 4.1 -0.5 0.9 -0.5 -0.8 -0.5 0.6 -0.4 2.2 0.6 4 -0.1 4 0.9 3.4 0.5 1 0.5 -1.7 0.5 0.1 0.5 3.4 1 2.8 -0.1 5 -0.8 2 -0.8 1 -0.3 1.3 0.5 2.2 0.5 0 1.5 0.7 0.5 -0.4 0.4 0.2 0.1 1 -1 3.2 -0.2 1.8 0.2 8 0.2 1 1.3 2.4 0.5 0.5 0.5 -0.3 0.7 1.4 -0.9 3 -0.6 6 -10.2 0 0.5 -1.7 0.2 -2.3 -0.2 -1.3 -0.5 -0.1 -1.1 5.4 -1.3 0 -0.1 -4.8 -0.5 -1.2 -1.1 -8 0.1 -0.8 0.5 -0.1 0.5 0.8 0.5 -0.2 0.3 -0.7 0.2 -7.9 -1 -0.8 -0.6 -1.3 -0.3 -2 0.4 -4.2 1 -1.2 1.5 0.1 1 -2.7 -1 -2 -1.5 -1.1 -0.5 -0.8 -0.5 -2.2 -0.5 -0.5 -0.4 0.6 -0.1 3.3 -0.5 1.7 -0.4 -4 1 -2 0 -2 -0.8 -3 -1.7 -11 -0.5 -1 -0.6 0.3 -0.1 1.7 0.9 4 -0.2 1 -0.6 0.1 -1.8 -3.1 -1.5 -6 -0.2 -3.1 -0.3 -0.9 -0.2 -0.1 -0.5 1.7 -0.5 0.1 -0.6 -0.7 -0.9 -4.6 -0.5 -1.1 -1.5 1.9 -0.5 -0.6 -0.5 -2.9 -0.5 -0.6 -1 1 -1.5 -1.5 -0.6 -2.6 -0.9 -0.7 -2 0.5 -1.5 -0.1 -1 0.9 -0.5 0 -1.1 -1.6 -0.9 -2.9 -1 1 -0.7 2.9 -0.3 0.3 -0.5 -1 -0.5 0.1 -1 1.4 -0.5 0.1 -0.5 -0.2 -1 -2.1 -1 0.2 -1 -0.9 -1.5 0.8 -1 -2.3 -0.5 -0.3 -1 1 -1.5 0 -0.5 -0.2 -1.5 -2 -0.5 0.1 -1 2.4 -2 -1.7 -1 -0.4 -1 0.1 -0.5 0.5 -1 -1.3 -0.5 -0.2 -1 0.4 -3 -1.4 -1.5 0.2 -4.5 -0.6 -21.5 -0.5 -39.5 -0.2 33.5 0.1 19 0.2 7 0.2 4.5 -0.5 1.5 0.1 1.5 -0.4 1.5 0.5 2.5 -0.1 2 0.3 2 -0.6zM190.7 740l-0.2 0.9 0.2 1.4 0.5 -1.4zM194.7 788.7l-0.1 1.2 0.6 1.7 0 -3zM195.7 784.8l0 1.4 0.5 0.3 0.4 -1.6 -0.4 -0.4zM186.7 791.9l-0.4 2 0 2 0.4 1.2 0.5 -0.7 0.4 -2.5 -0.4 -1.9zM195.7 791.6l-0.4 0.3 0 2 -0.7 4 0.1 1.1 0.5 0.7 1 -0.6 0.4 -1.2 -0.3 -5zM197.2 753.9l0.5 -0.9 0.5 0.4 0.1 1.5 -0.6 1.1 -0.5 -1.1z" fill="#ffffff" stroke="none" fill-rule="evenodd"/><path d="M217.6 699.9l0.1 -0.7 0.4 0.7 0.1 1 -0.3 1 -0.2 0.3 -0.1 -2.3M227.2 716.1l-0.5 1.5 -0.2 1.3 0.2 3.6 0.5 -0.5 0.3 -2.1 0 -2 -0.3 -1.8M228.7 718.4l-0.3 0.5 0 5 -0.2 0.6 -0.5 0.3 -0.5 -0.2 -0.5 -0.9 -0.5 0.1 -0.4 -0.9 0 -4 -0.4 -2 -0.8 -2 0.1 -1.2 0.5 -1.6 1 -1.2 0 -1 -1 -1.4 -0.7 -2.6 0.4 -4 -0.2 -0.3 -0.3 0.3 -0.3 1 -0.9 5.2 -0.5 0 -0.4 -2.2 -0.1 -4.3 -0.5 0.6 -0.5 1.6 -0.5 0 -0.6 -2.9 -0.9 -1.9 -1 -1.1 -0.2 -1 -0.3 -0.3 -0.5 0.4 -1 2.8 -0.5 -0.2 -1 -3.5 -2 0.6 -0.5 -0.4 -1 -1.4 -0.5 -0.1 -1 0.5 -1 1.7 -0.2 -1.1 -0.5 -1 -0.8 -1.3 -1 -1 -0.5 0.2 -0.5 1.2 -0.5 0.5 -1.5 -1.9 -0.5 -0.3 -0.5 0 -1 1.3 -1 0.2 -0.5 -0.5 -0.5 -1.5 -0.5 -0.5 -0.5 0.3 -0.5 -0.1 -0.5 -0.3 -0.5 0 -0.5 0.7 -0.5 0.2 -1.5 -2.8 -0.5 -0.1 -1.5 1.6 -0.5 0.1 -0.5 -0.2 -1 -0.9 -0.5 0.6 -0.5 1.5 -0.5 0.5 -0.6 -0.5 -0.9 -1.7 -0.5 -0.3 -0.5 0.5 -0.5 -0.2 -0.5 -0.6 -0.5 -0.1 -2.5 0.7 -0.5 -0.1 -0.5 -0.5 -0.5 0.3 -0.5 0.9 -0.5 0.2 -1.5 -0.9 -2 0.2 -2 -1.1 -0.5 0 -0.5 0.3 -0.5 -0.2 -0.5 -0.9 -0.5 -0.2 -0.5 0.6 -0.5 0 -0.5 -0.7 -0.5 0.3 -0.5 0.9 -0.5 0.2 -1.5 -0.1 -1 -0.9 -0.5 0.2 -0.5 0.9 -0.5 0.3 -0.5 -0.3 -1.5 -0.3 -0.5 -0.3 -0.5 0 -1 0.4 -1.5 -0.7 -1 -0.2 -0.5 0.3 -0.5 0.6 -0.5 0 -0.5 -0.6 -0.5 -0.1 -1 1 -0.5 -0.1 -2 -0.9 -0.5 0 -2.5 0.8 -0.5 0 -1 -0.6 -0.5 -0.7 -0.5 -0.1 -1 0.7 -1.5 -0.1 -1.5 0.4 -2 -0.5 -3 0.3 -1.5 -0.7 -0.5 0.1 -0.5 0.6 -0.5 0.1 -1 -0.6 -0.5 0.1 -1 0.6 -0.5 0 -1.5 -1.1 -1.5 0.5 -1.5 -0.2 -1 0.2 -1.5 -0.4 -1 0.7 -1 0.2 -1.5 -0.6 -1.5 0 -1.5 0.6 -1.5 -0.4 -3.5 0.2 -2.5 -0.5 -2 -0.1 -3 0.3 -11 0.1 -29 -0.1M227.6 757.9l0.1 -0.3 0.5 0.3 0.1 1 -0.6 0.4 -0.3 -0.4 0.2 -1" stroke="#e4e6ea"/><path d="M145.7 688.2l1.5 -0.3 1.5 0.8 3 -0.5 2.5 0.6 1.5 -0.6 1.5 0.4 1 -0.5 2.5 0.4 1.5 -0.2 2.5 0.6 1.5 -0.9 2.5 0.8 1 -0.9 0.5 -0.1 0.5 0.4 0.5 0 0.5 -0.4 1 0.7 1.5 0 2 0.7 2 -0.3 1.5 0.9 1.5 -1 1 0.3 2.5 -0.3 1 0.5 1.5 -0.4 1.5 1.7 1.5 -1.6 1.5 0.9 2 -1.1 0.5 0 1.5 1.6 3 0 1.5 1.6 0.5 0.2 1 -0.7 1 -0.1 2 1.3 1.5 -1 1.5 1.1 1 -0.4 1 1.5 1.5 -0.2 1 0.4 0.5 -0.3 1 1.3 0.5 0 0.5 -0.5 0.5 0.3 0.5 2.5 0.5 0.2 0.8 -1.7 0.9 0 2.3 3.8 0.5 1.7 0.5 0.4 0.5 -1.5 0.5 -0.4 1.5 1.3 1 -0.1 0.5 0.8 -0.1 4 0.6 1.6 1.5 1.5 0.5 -0.6 0.6 0.5 0.4 6.5 0 19.8 -1 -0.7 -0.5 -1.3 -0.5 0.1 -0.5 1.1 -0.3 -1.5 0.7 -3 0 -2 -0.3 -2 -0.9 -2 -0.1 -6 -1.1 -1.7 -0.3 -1.3 0.3 -5.1 -0.5 -0.4 -0.5 1.1 -0.5 -0.4 -1 -3.9 -1 0 -0.9 -0.3 -0.6 -4.6 -0.5 0.4 -0.5 2.2 -0.5 -0.2 -1 -2.1 -0.5 0.2 -0.5 -0.5 -1 -1.7 -0.5 0.5 -0.5 0 -3 -3.7 -1 0.3 -0.5 0.9 -0.5 0.1 -2.5 -3.5 -0.5 0.2 -0.5 0.9 -0.5 0.3 -0.5 -0.6 -1.5 -0.8 -2.5 0.3 -1.5 -1.8 -0.5 0.2 -1 -0.6 -0.5 0 -1 0.9 -2 -1.4 -2.5 0.1 -1 -0.6 -1.5 1.4 -4 -2.2 -2 0.5 -1.5 -0.4 -1.5 0.7 -1 -0.3 -2.5 -0.1 -2 -0.8 -1.5 0 -1 -0.5 -4.5 0.4 -1 -0.4 -1.5 0.7 -2.5 -0.6 -2 0.2 -2 -0.6 -1 0.5 -1.5 -0.5 -1 0.6 -0.5 0 -2.5 -0.6 -3 0.5 -2 -0.9 -1 0.4 -3 0.1 -2 -0.4 -10.5 -0.4 -64.5 -0.1 66.5 0 4 -0.3 1.5 0.3 5 -0.1zM227 745.9l-0.3 -5.5 0.5 0.1 0.5 2.2 0.5 0.2 0.5 -0.2 0 18.6 -1 -0.9 -0.8 -1.5 1.2 -5 0 -4zM227.7 783.4l0 -8.2 0.5 -0.1 0.5 1.4 -0.5 8.6z" fill="#e4e6ea" stroke="none" fill-rule="evenodd"/><path d="M228.7 678.3l-0.5 -0.7 -0.5 0.4 -0.5 1.6 -0.5 -0.4 -0.5 -1.8 -0.5 -0.2 -1 1.7 -0.5 -0.3 -0.5 -0.6 -0.5 -1.2 -0.5 -0.5 -1 0.8 -0.5 -0.2 -1 0.1 -1 0.7 -0.5 0.1 -1 -0.5 -0.5 0.3 -1 0 -0.5 -0.4 -0.5 -1.1 -0.5 -0.7 -0.5 0.6 -0.5 0.1 -0.5 -0.1 -0.5 0.4 -0.5 0.6 -0.5 -0.2 -1 -1.8 -0.5 -0.2 -0.5 0.1 -0.5 0.5 -1.5 0.2 -1 0.5 -1.5 -0.1 -0.5 0.2 -0.5 0.4 -0.5 0.1 -1 -0.7 -0.5 -0.7 -0.5 -0.3 -0.5 0.3 -0.5 0 -0.5 -0.5 -0.5 0 -0.5 0.5 -0.5 0 -0.5 -0.6 -0.5 0 -0.5 0.5 -0.5 0 -0.5 -0.6 -0.5 0.2 -0.5 1 -0.5 0.2 -0.5 -0.5 -0.5 -0.1 -0.5 0.4 -1 0.2 -1 -0.2 -1 -0.6 -0.5 0 -0.5 0.4 -0.5 0 -0.5 -0.5 -0.5 0 -0.5 0.4 -0.5 0.1 -1 -0.3 -1 0.1 -0.5 -0.3 -0.5 0 -1 0.5 -1.5 0.2 -2 -0.4 -1 0.3 -0.5 -0.1 -1 -0.6 -1 0.1 -2.5 -0.8 -0.5 0 -1.5 0.9 -0.5 0.1 -1 -0.5 -1.5 0.1 -1.5 0.6 -1 -0.3 -1 0.1 -1 -0.4 -2.5 0.4 -3 0 -1 -0.5 -1.5 -0.1 -0.5 -0.3 -0.5 0.1 -1 0.9 -2 0.2 -4 -0.9 -1 0.4 -1 0.1 -1.5 0 -1 -0.3 -1.5 0.2 -1 -0.3 -1.5 0.3 -1.5 -0.3 -1.5 0.1 -1 0.3 -1.5 -0.4 -1 0.4 -2.5 -0.1 -1 -0.2 -1.5 0.3 -1 -0.2 -1 0.1 -4.5 -0.4 -3 0.6 -5.5 -0.6 -4 0.3 -3 -0.2 -3 0.2 -37 0" stroke="#c0c2c2"/><path d="M133.3 674.9l14.4 -0.4 4 0.6 2 -0.2 1.5 -0.6 3 0.5 5.5 -0.3 3 0.4 3 -0.4 1.5 0.3 2 -0.7 5 0.8 3 0.1 3 -0.4 2.5 0.2 1 -0.3 1 0.2 1 -0.2 3 0.6 1 -0.5 1 0.4 1.5 -0.7 2.5 0.3 3 -0.2 2 1.2 6.5 -1.3 2 0.9 0.5 -0.4 1 0.2 1 -0.4 1.5 1.6 1.5 -0.9 1.5 0.8 1 -0.5 1 0.1 1.5 -0.7 1.5 1.5 1.5 -0.5 1.5 0.6 1.5 -1.1 0 4.6 -0.5 -0.7 -0.5 0.2 -0.5 0.8 -0.5 -0.3 -0.5 -1.5 -0.5 -0.2 -1 1.3 -2 -1.7 -0.5 0.5 -1.5 -0.7 -1.5 0.6 -2 -0.1 -1.5 -0.5 -1 -0.9 -2.5 0.9 -1.5 -1.1 -1 0.1 -1.5 -0.4 -1.5 0.4 -1.5 -0.2 -1.5 0.5 -2 -1.1 -1 0.2 -1 -0.3 -1 0.3 -1 -0.4 -1 0.3 -0.5 -0.4 -1.5 0.8 -1 -0.4 -1.5 0.3 -4.5 -0.6 -1 0.3 -2.5 -0.4 -1.5 0.3 -5 0 -5 -0.9 -1.5 0.6 -1.5 -0.3 -3 0.4 -3 -0.3 -5.5 0.1 -3 -0.6 -1.5 0.7 -2 0.1 -4 -0.6 -2 0.3 -20.5 -0.5 -59.5 0z" fill="#c0c2c2" stroke="none" fill-rule="evenodd"/><path d="M228.7 666.9l-0.5 -0.5 -0.5 -0.1 -0.5 0.2 -0.5 -0.1 -0.5 -0.5 -0.5 0.7 -0.5 2.6 -0.5 -0.2 -0.5 -2 -0.5 -0.6 -1 1.2 -2 0.9 -0.3 0.4 -0.2 0.5 -0.5 0.4 -0.1 -0.9 -0.4 -0.9 -0.5 0.1 -0.5 0.9 -0.5 0.1 -0.5 -0.8 -0.5 -0.3 -1.5 0.1 -1 0.9 -0.5 0.1 -0.5 -0.3 -0.5 0.2 -0.5 0.7 -0.5 0 -0.5 -1.4 -0.5 -0.4 -0.5 1 -0.5 0.4 -1 -0.1 -1.5 -1.1 -0.5 0.3 -0.5 0.9 -0.5 0 -0.5 -0.3 -0.5 0 -1 1.1 -1.5 -1 -0.5 -0.1 -1.5 0.5 -1.5 -0.4 -0.5 0.5 -0.5 -0.2 -0.5 -0.7 -0.5 0.2 -0.5 1.1 -0.5 0.2 -0.5 -0.7 -0.5 -0.4 -1.5 0.6 -2 -0.2 -1.5 -0.7 -2.5 0.7 -1.5 0.9 -1.5 -0.7 -1 -0.2 -2 0 -1.5 0.5 -1.5 -0.8 -0.5 -0.1 -1 0.5 -0.5 0.5 -0.5 0.1 -1.5 -1.1 -0.5 0 -2.5 1.4 -0.5 -0.1 -0.5 -0.6 -0.5 -0.1 -0.5 0.3 -0.5 0.1 -0.5 -0.3 -1.5 0.1 -1 -0.4 -1 0.3 -2 -0.5 -1 0.3 -1 0 -0.5 0.2 -1.5 -0.2 -2.5 0.4 -2 -0.3 -2 0.2 -1.5 -0.5 -2 0.4 -2.5 -0.4 -1.5 0.6 -0.5 -0.3 -1.5 0 -1.5 -0.4 -1.5 0.3 -1 -0.2 -1 0.3 -1 -0.2 -3.5 0.3 -1 -0.1 -1.5 0.3 -1 -0.3 -1 0.1 -2.5 -0.2 -1.5 0.1 -1 -0.2 -5.5 0.4 -7.5 -0.4 -11.5 0.3 -33.5 -0.1" stroke="#9a9a98"/><path d="M225.7 665.9l2 -0.4 1 0.3 0 3.1 -2 -0.3 -0.5 0.2 -1 1.4 -0.5 -0.2 -1 -1.5 -0.5 0.4 -1.5 0 -1 0.6 -0.5 1.1 -0.5 0.2 -0.5 -1.2 -0.5 -0.1 -0.5 0.7 -0.5 0.1 -0.5 -0.6 -1 -0.3 -2 0.4 -1 -0.2 -1.5 0.8 -1 -0.9 -1.5 0.6 -2 -0.4 -1 0.3 -1 -0.4 -1.5 0.9 -2 -0.7 -3.5 0.5 -1 -0.7 -1.5 0.9 -1 -0.6 -1.5 0.3 -3.5 -0.6 -4 1 -3 -0.6 -3 0.4 -2 -0.7 -2 0.7 -2 -0.6 -2.5 0.8 -1.5 -0.5 -1 0.2 -6 -0.5 -6.5 0.5 -4 -0.1 -1.5 -0.4 -2 0.2 -2.5 -0.2 -1.5 0.4 -3.5 -0.5 -75.5 0 65 0 20 -0.5 5.5 0.3 6.5 -0.5 6 0.4 1 -0.2 1.5 0.4 2.5 -0.8 2 0.6 2 -0.6 2 0.5 3.5 -0.3 2.5 0.3 4 -0.8 2 0.5 3 -0.4 1 0.7 1.5 -1 0.5 0.3 1 -0.2 1.5 0.4 2 -0.3 1.5 0.5 1 -0.5 1.5 0 1 -0.9 1.5 0.7 1 0.1 1 -1 0.5 0.2 0.5 0.9 0.5 0.1 0.5 -0.4 1.5 0 1 -0.8 3 0.1 1.5 -0.6 1 0.7 0.5 0 2.5 -1.6 0.5 0.2 0.5 1.2 0.5 -0.1z" fill="#9a9a98" stroke="none" fill-rule="evenodd"/></g>
<g clip-path="url(#cp8)" fill="none" stroke-width="0.95" stroke-linejoin="round"><path d="M330.6 802.9l-0.4 -1 -0.5 -4.3 -1.5 -2.3 -1.1 -3.4 -0.6 -1 -1.1 -1 -1.2 -2.6 -1.3 -1.4 -0.5 -1 0.3 -2 0.6 -2 -1.5 -6 -0.6 -1.2 -2.2 -2.8 -1.8 -4.2 -1 -1.8 -1.8 -1 -2.7 -0.9 -1.7 -2.1 -1.8 -1.7 -2 -1.2 -2 -0.9 -3 -1 -10.5 -2.9 -8 -1.5" stroke="#ffffff"/><path d="M282.7 751.8l1 0 2.5 0.4 4 0.7 3 0.7 5 1.4 2.5 0.9 2 0.8 2 0.9 2 1.1 3 1.9 3 2.4 1.5 1.4 1.4 1.5 2.3 3 1.3 2 1.2 2 1.9 4 1.4 4 1.8 6 1.5 7 0.8 5 0.3 4 -0.5 -5 -1.1 -6 -3.2 -12 -1.5 -4 -2.1 -4 -4.2 -6 -2.8 -2.8 -3 -2.4 -3 -1.9 -4 -2 -4.5 -1.7 -5 -1.5 -6.5 -1.3z" fill="#ffffff" stroke="none" fill-rule="evenodd"/><path d="M364.8 802.9l-0.2 -2 -0.1 -3 0.1 -9 0.4 -4 -0.1 -4 -0.9 -4 -0.1 -5 -0.2 -1 0 -0.1 -0.5 0.5 -0.5 -1.4 0 -1 0 -2.3 0.5 -2.2 0.5 -0.5 0 -1 -0.5 -0.4 -0.3 -0.6 -0.4 -2 -0.2 -1 0.2 -4 -0.3 -2.2 -0.5 -0.5 -0.5 2.3 -0.5 0 -0.1 -7.6 -0.4 -1 -1 -0.8 -1.5 -3.2 -0.5 -3.7 -0.5 -1 -0.5 1.3 -0.5 0.2 -0.5 -0.4 -0.8 -1.4 -0.7 -2 -0.5 -0.9 -0.5 -0.1 -0.5 0.5 -0.5 -0.3 -0.5 -1.4 -0.5 -0.7 -1.5 -0.1 -2 -3 -0.5 -0.1 -0.5 0.5 -0.5 0.1 -0.7 -1.5 -0.8 -0.9 -0.5 0 -0.5 0.5 -0.5 0.1 -0.5 0 -0.5 -0.2 -2 -1.4 -0.5 0.1 -1 0.6 -1 -1.8 -0.5 -0.6 -3 0.7 -1.5 -1.4 -2 -0.7 -4.5 -0.4 -6 -0.9 -8 -0.3 -6 -0.6 -23 -0.6" stroke="#e4e6ea"/><path d="M282.7 720.1l1 -0.1 6.5 0.2 4.5 0.1 4.5 0.2 3.5 0.1 3 0.2 3.5 0.2 3 0.2 3 0.3 2.5 0.2 2.5 0.3 2.5 0.3 2 0.3 2.5 0.4 2.5 0.4 2 0.5 4 1 3.5 1.1 4.9 1.9 3.1 1.4 3.5 2.3 1.5 1.5 1.4 0.8 2.1 3.4 0.5 0.1 0.5 -0.7 0.3 0.2 1.2 3.8 0.5 0.8 0.5 0.3 0.5 -0.3 0.3 0.4 1.3 3 0.5 5 1.2 4 0 5 1.3 4 0.2 13 0.9 5 0.8 9 -0.1 8 -0.4 5 -2.5 0 0.8 -3 0.2 -2 -0.5 -4 0 -7.2 -0.3 -1.8 0.3 -0.8 0.3 -3.2 -0.8 -5.3 -1.1 -3.7 0.2 -6 -0.6 -9.1 -1 -1.2 -0.2 -0.7 -0.3 -6 -1 -2.1 -2.4 -6.9 -1.6 -1.4 -2 -3.4 -1 -0.5 -1.5 -1.8 -3.5 -2.9 -3.6 -2 -6.4 -2.5 -6.5 -1.7 -8.5 -1.5 -10.5 -1 -12.5 -0.7zM362.9 793.9l0.3 -2.4 0.5 2.4 -0.5 0.7z" fill="#e4e6ea" stroke="none" fill-rule="evenodd"/><path d="M387.2 729.5l-0.5 1.3 -0.1 2.1 0.4 1 0.7 0.7 0.3 -1.7 0 -1 -0.8 -2.4M386.6 748.9l0.1 -0.7 0.7 1.7 -0.2 0.7 -0.5 -0.1 -0.1 -1.6M390.7 779.1l-0.3 0.8 -0.1 1 0.4 1.6 0.5 -0.1 0.2 -1.5 -0.2 -1.4 -0.5 -0.4M387.9 797.9l0.3 -0.8 0.4 0.8 0.2 1 -0.3 2 -0.3 0.4 -0.3 -3.4M388.5 802.9l0.3 -1 0 -1 0.9 -2 0.5 0 0.5 1.2 0.2 -1.2 -0.1 -1 -0.6 -0.7 -0.3 -1.3 -0.4 -7 -0.8 -4 1 -8 -0.5 -5.3 -0.5 -0.7 -0.2 7 -0.3 1.9 -0.5 -0.4 -0.9 -2.5 -0.2 -1 0.9 -4 -0.3 -4 -0.2 -5 0.4 -4 0.3 -1 0.7 -1 0.1 -13 -0.3 -1.7 -0.8 -1.3 -0.8 -3 -0.4 -2.8 -0.5 -0.1 -0.5 0.8 -0.5 0.1 -0.3 -6 -1.7 -0.8 -0.5 0.1 -0.5 -0.5 -0.2 -0.8 0.2 -2.9 0.5 -0.4 0.5 1.5 0.5 -1.7 -0.1 -1.5 -0.9 -4.8 -1 -1.7 -0.5 -0.2 -0.5 0.8 -0.5 0.1 -1.5 -5.1 -0.5 0 -0.5 2.2 -0.5 1.1 -0.5 -0.1 -0.5 0.2 -0.5 0.5 -0.5 -0.2 -0.7 -0.8 -0.1 -5 -0.2 -0.7 -0.5 -0.6 -0.5 0 -0.5 0.8 -0.5 0.3 -1.5 -0.5 -1 -0.8 -0.5 0.2 -1.5 1.5 -0.3 -0.2 -0.3 -1 -0.4 -0.8 -1.5 -0.8 -1.3 -0.4 -1.2 -1.3 -0.5 0.1 -0.5 0.7 -1 0.6 -0.5 -0.5 -0.5 -1.3 -0.5 -0.3 -1.5 1.5 -0.5 0 -0.5 -0.8 -0.5 0 -0.5 0.9 -0.5 0.1 -0.5 -0.6 -0.5 -0.2 -0.5 0.2 -1 0.1 -0.5 -0.3 -1 -1.2 -1 -0.2 -1.5 0.5 -0.5 0 -0.5 -0.5 -0.5 -0.1 -1 0.6 -0.5 0 -1 -0.6 -0.5 0.1 -1 0.5 -2 -0.1 -1.5 -0.4 -1 0.4 -3 -1 -3.5 0.2 -3.5 -0.2 -2.5 0.2 -3 -0.4 -11 0.2 -14 -0.3 -15 0" stroke="#c0c2c2"/><path d="M282.7 703.5l15 0.1 11.5 0.1 10.5 0.1 9 0.2 21.5 0.6 2 0.6 1.5 -0.1 1 0.4 1.5 -0.4 1 0.4 1.5 -0.8 0.5 0.1 1 1.1 1.5 -0.9 0.5 0 1.5 1.2 1 -0.1 1 0.6 0.5 0 0.5 -0.9 1 2 0.5 0 1 -0.8 2.5 0.7 1.5 -0.4 1 1.5 0.5 2.3 0.5 0.2 0.6 -1.4 0.4 0.4 0.5 2 0.5 -0.3 0.5 -1.3 0.5 0.1 1 2 2 2.1 1.2 2 1 3 0.8 4.5 0.5 -6.3 0.5 0.5 1 5.3 -0.6 3 0.1 3.9 0.5 -0.6 0.5 -4.3 0.5 0.3 1.3 5.7 0.2 7.4 0.5 -0.3 0.5 -2.2 0.5 -0.3 0.4 0.4 0 5 -0.4 1 -1 -0.3 -0.2 1.3 0 10 1.5 9 -0.3 9 0.2 4 0.3 1.4 0.9 1.6 0.3 2 -0.2 3 -0.5 0.9 -0.5 -0.1 -0.5 -0.8 -0.5 1 0.6 7 0.9 2 0.8 4 -0.1 5 -4.9 0 0.3 -4 -0.1 -3.2 -0.5 -0.8 -0.5 0.4 -0.4 -1.4 0.7 -4 -0.5 -5 1 -2 0.3 -2 -1.2 -5 0.6 -4 0 -4 -0.7 -5 0.6 -2 0.3 -4 0.9 -3 -0.1 -0.5 -1 -0.2 -0.2 -0.3 -1.2 -7 0.2 -2 0.9 -2 -0.2 -2.3 -0.5 -1.1 -1.6 2.4 -0.6 -4 0.5 -5 -0.3 -0.5 -0.5 1.3 -0.6 -1.8 -1.1 -2 -0.4 -4 -0.4 -0.9 -0.5 0.3 -0.5 -0.5 -1.5 -9.2 -0.5 -0.1 -0.5 1.8 -0.5 0.3 -1.5 0.1 -1.6 -1.8 -0.9 -2.9 -2 -0.5 -1.5 -1.4 -0.5 -0.2 -1.5 0.7 -1.5 -1.6 -3.5 -1.5 -2 0.1 -1.5 -1.4 -1.5 0.7 -1 -0.5 -1.5 0.2 -1 -0.5 -1.5 -0.1 -2 -0.7 -8.5 -0.8 -14 -0.5zM380.7 718.9l0 1.9 0.5 0.1 0.1 -2zM387.7 743.7l-0.5 2.2 0.5 2.3 0.6 -2.3 -0.1 -1.2zM388.2 762.4l-0.2 0.5 0.2 1.7 0.2 -1.7z" fill="#c0c2c2" stroke="none" fill-rule="evenodd"/><path d="M391.5 661.9l-0.3 4 0.2 4 -0.1 5 -0.3 1 -1 2 -0.8 3.9 -0.5 -0.5 -0.5 -1.8 -0.5 0.9 -0.5 1.8 -0.5 0.8 -0.5 0.2 -1 -1.3 -0.5 1.1 -0.5 2.2 -0.5 0.6 -0.5 0.3 -0.5 0.8 -0.5 1.6 -0.4 0.4 -0.6 -1.1 -0.5 0 -0.5 1.5 -1 0.8 -0.5 -0.5 -0.5 -0.9 -0.5 0.3 -0.5 0.9 -0.5 0.2 -1 -0.2 -0.5 0.1 -0.5 0.4 -1 1.3 -1.5 -0.1 -1 -0.4 -0.5 0.2 -0.5 1.3 -0.5 0.3 -0.5 -1.3 -0.5 0 -1.5 1.9 -0.5 0.1 -1 -1.1 -2 0.3 -1 -0.1 -1 0.1 -0.5 0.2 -1 0.8 -0.5 0.2 -3 0.1 -1 -0.4 -0.5 -0.6 -0.5 0.1 -0.5 0.6 -0.5 0.1 -0.5 -0.4 -0.5 -0.1 -0.5 0.3 -0.5 0 -0.5 -0.3 -0.5 0.1 -1 0.6 -1.5 0.5 -1.5 -0.4 -1 0.2 -1 -0.2 -2 0.6 -1 -0.7 -1 -0.4 -1 0.3 -1.5 0.9 -1.5 -0.6 -1.5 0.6 -1.5 -0.4 -6 0.2 -4.5 -0.4 -7 0.7 -4.5 -0.1 -29 0.1M392.6 668.9l0.1 -0.6 0.5 0 0.5 0.6 0.5 0.2 0.5 -0.4 0.5 1.2 0 1 -0.5 0.8 -1.5 0.7 -0.5 -0.3 -0.2 -1.2 0.1 -2" stroke="#9a9a98"/><path d="M389.5 661.9l5.5 0 -0.2 4 0.9 5 -1 1.7 -1 0.3 -1 1.2 -0.5 0 -0.8 3.8 -2.2 7.2 -0.5 -0.1 -0.5 -1.9 -0.5 0 -1 4.4 -1.5 -1.4 -0.5 0.2 -1.5 1.5 -1 1.9 -1.5 0.4 -1.5 1.4 -1.5 -0.8 -1 0.5 -1.5 0.1 -1.5 1.5 -1 0 -1.5 -0.4 -1 1 -0.5 0.2 -1 -0.5 -1.5 1 -2.5 -0.6 -3 0.3 -2 0.7 -3 -0.1 -1.5 -0.3 -1.5 0.3 -2.5 -0.2 -3 0.3 -20 0.3 -12 0.2 -8.5 0 -12.5 0.1 -12.5 0 59.5 -0.6 11.5 -0.9 1.5 -0.4 1 0.3 3.5 -0.2 1.5 -0.9 4.5 -0.6 1.5 0.5 2 -1.7 0.5 0.5 0.5 -0.1 0.5 -0.4 3 -0.4 1.5 -1 1.5 0 1.5 -1.7 1.5 0.4 1 -1.9 0.5 -0.1 0.5 0.7 0.5 -0.3 0.5 -1.1 1.4 -1.3 0.6 -2.8 1 -1.6 1 1.2 0.5 -0.6 0.5 -3 0.5 -1.5 0.5 -0.1 0.2 -0.6 0.1 -4 1.4 -2 0.2 -1 -0.1 -4zM393.7 663.6l-0.4 2.3 0.4 1.6 0.5 0.1 0.5 -1.7 -0.1 -2 -0.4 -0.9zM387.8 670.9l0.4 -0.9 0.4 0.9 -0.4 2.5z" fill="#9a9a98" stroke="none" fill-rule="evenodd"/><path d="M364.3 661.9l-0.1 3 -0.6 4 -0.4 0.8 -1 1.1 -0.5 1.1 -2 1.7 -1 -0.4 -0.5 0.1 -2 2.2 -0.5 0.3 -1.5 -0.1 -0.5 0.3 -1.5 1.3 -1.5 -0.1 -1 0.5 -1.5 0 -0.5 0.3 -1 1.5 -0.5 0 -1 -0.7 -0.5 0 -1 0.4 -0.5 -0.1 -0.5 0.2 -1 0.8 -1 -0.6 -1 0.7 -1.5 0.7 -3 0.3 -7 -0.1 -8.5 1 -37 0.7M366.9 661.9l-0.5 4 -0.2 0.5 -0.5 0.3 -0.3 -0.8 -0.1 -4" stroke="#5a5a52"/><path d="M364.2 661.9l1.4 0 0.1 0.7 0.6 -0.7 1.2 0 -1.3 5.3 -1.2 0.7 -1.3 2.9 -1.8 2.1 -1.2 0.5 -1 0.9 -1.5 0.2 -2 1.5 -2 0.5 -2 1 -5.5 1.5 -1.5 0.1 -1.5 0.3 -4.5 0.8 -4 0.6 -3 0.3 -3 0.3 -3 0.2 -3.5 0.2 -3.5 0.2 -4.5 0.2 -4 0.2 -4.5 0.1 -5 0.1 -6 0.1 -6.5 0.1 -6 0 24.5 -0.3 16.5 -0.7 13.5 -1.3 9.5 -1.9 5.5 -1.8 2 -1.3 1.5 -0.4 2.5 -2.3 2 -0.7 2.7 -4.2z" fill="#5a5a52" stroke="none" fill-rule="evenodd"/><path d="M327.2 661.9l-1.5 1.9 -3 0.1 -3 1.3 -13 2.1 -24 1M330.9 661.9l-0.7 0.7 -0.5 0 -1 -0.7" stroke="#1e1e18"/><path d="M319.7 665.1l10.5 -3.2 -4.5 1.6 -4 1.2 -2 0.4 -3 0.6 -2.5 0.4 -2.5 0.4 -3 0.4 -3 0.3 -3 0.3 -3.5 0.2 -4 0.2 -4.5 0.3 -6 0.2 -2 0 15 -0.6 12 -1.1z" fill="#1e1e18" stroke="none" fill-rule="evenodd"/></g>
<g clip-path="url(#cp9)" fill="none" stroke-width="0.95" stroke-linejoin="round"><path d="M544.8 802.9l-1.7 -2 -1.1 -1.7 -0.4 -1.3 -0.3 -2 -0.4 -1 -1.4 -1.3 -3.1 -3.7 -3.4 -2.6 -7.5 -3.8 -7.5 -2.4 -4 -0.8 -14.5 -1.7" stroke="#ffffff"/><path d="M499.5 778.5l1 0 1.5 0.1 6 0.7 4.5 0.7 4.5 0.9 3.7 1 3.3 1.1 2 0.7 1.5 0.7 3.1 1.5 2.4 1.5 2.1 1.5 1.2 1 1 1 1.8 2 1.5 2 0.6 1 1.1 2 0.8 2 0.9 3 -2.3 -6 -2.6 -4 -4.1 -4 -4.5 -3 -6.5 -2.9 -7 -2 -8.5 -1.6z" fill="#ffffff" stroke="none" fill-rule="evenodd"/><path d="M582.4 802.9l-1.4 -3 -0.9 -6 -0.6 -5 -0.5 -11.4 -0.5 -0.8 -0.5 0.4 -0.5 -1 -1 -3.2 -1 -2.2 -0.5 -0.8 -1.5 -0.9 -0.8 -1.1 -1.2 -2.9 -0.5 -0.4 -0.5 0.1 -0.5 0.3 -0.5 -0.1 -1.5 -2.5 -0.5 -0.2 -0.5 0.2 -0.5 -0.3 -0.5 -0.8 -0.5 -0.2 -0.5 0.3 -1 -1.1 -3 -2 -0.5 -0.2 -1 0.1 -3 -1.2 -1.5 0.1 -3 -0.8 -1.5 -0.9 -3.5 -0.2 -2.5 -0.6 -2 0 -3 -0.7 -19.5 -1 -20.5 -0.5" stroke="#e4e6ea"/><path d="M499.5 752.4l1 0 5 0.1 4.5 0.1 4 0.1 6.5 0.2 5.5 0.2 5 0.4 2.5 0.1 2.5 0.3 2 0.1 2 0.3 2 0.2 2.5 0.3 3.5 0.6 3 0.6 3.5 0.8 3 0.9 3.6 1.2 2.3 1 4.6 2.4 1.5 1.4 2 1.1 2 2.9 1.6 1.2 1.8 3 1.3 3 0.8 1.1 0.6 4.9 0.9 3.5 -0.2 4.5 0.2 2.6 0.9 3.4 0.3 4 0.9 4 -1.9 0 -1.6 -14 -0.5 -8 -0.1 -0.6 -0.5 0.3 -1.8 -6.7 -1.4 -3 -3.8 -5.3 -1.5 -0.8 -1.5 -1.7 -2.5 -1.6 -4.8 -2.6 -4.2 -1.5 -6 -1.5 -7 -1.2 -18 -1.6z" fill="#e4e6ea" stroke="none" fill-rule="evenodd"/><path d="M605.8 802.9l-2 -9 0.1 -2 0.1 -1.1 0.5 -0.2 1 0.7 0.2 -0.4 0.3 -0.8 0.4 -3.2 0.7 -1 0.2 -1 -0.2 -1 -0.8 -2 -0.4 -2 -0.9 -1.4 -0.5 -1.3 -0.3 -2.3 -0.8 -3 0.1 -4 -0.2 -1 -1 -4 -0.3 -0.5 -0.5 -0.1 -0.5 1.4 -0.3 -0.8 0.4 -4 -1.2 -5 -1.4 -2.3 -0.5 -0.3 -1 0.1 -0.5 -0.2 -0.6 -1.3 -0.4 -2.6 -0.5 -0.4 -0.5 0.1 -0.5 0.7 -0.5 0.2 -0.8 -1 -1.2 -0.9 -1 -1.3 -1 0 -0.5 0.5 -0.5 0 -0.5 -0.6 -2.5 -1.1 -1.5 -1.9 -0.5 0.2 -0.5 0.6 -0.5 0.1 -1 -0.6 -2.5 -0.3 -1.5 0.4 -2.5 -1.3 -2.5 0.4 -1.5 -0.2 -1.5 0.1 -0.5 -0.2 -1 0.3 -0.5 -0.1 -0.5 -0.6 -0.5 -0.2 -1 0.2 -1 -0.2 -1 0.3 -6 -0.6 -1.5 0.2 -4 -0.3 -1.5 0.3 -2 -0.4 -49 -0.2" stroke="#c0c2c2"/><path d="M499.5 739.5l1 0 9.5 0 12.5 0.1 9.5 0.1 4.5 0 4.5 0.1 6.5 0.1 4.5 0.1 11.5 0.3 3 0 6 0.5 2.5 -0.2 2.5 0.7 2 -0.2 3 0.7 1.5 -0.5 1.5 1.2 2 0.9 3 0.4 1.5 1.2 2 0.8 1.5 -0.3 1.5 3.2 0.5 0 1 0.8 1 1.7 1 0.6 1 6.1 0.5 1.5 0.5 0.3 0.5 1 2.4 10.2 0.1 5.7 0.5 0.4 0.5 -1.2 0.5 0.8 0 4.3 0.5 0.6 0.5 8.7 -0.5 0.7 -0.5 -3.2 -0.5 0.7 -0.5 4.3 -0.6 1.2 0.6 2 1 0.3 0.5 1.7 -0.8 5 -2 0 -1.2 -7.7 -1 -10.3 0.5 -0.9 0.5 2.9 0.5 -0.2 0.6 -1.8 -0.1 -1 -1.9 -14 -0.6 -1 -0.7 -3 -0.8 -2 -0.3 -3 -0.7 -2 -0.5 -3 -1 -2.5 -1.5 -0.6 -0.5 -0.7 -1 -3.2 -0.5 -0.3 -0.5 0.7 -0.5 0.1 -3.2 -3.5 -1.8 0.1 -1 -0.9 -4 -1.9 -6 -0.8 -2.5 -0.9 -7 -0.5 -1.5 -0.4 -22.5 -0.8z" fill="#c0c2c2" stroke="none" fill-rule="evenodd"/><path d="M610 661.9l-0.5 5 -0.1 4 0.6 2.3 0.5 5.3 1 5.4 -0.5 2.5 -0.8 1.5 -0.1 1 0.1 4 0.8 3 0 4.4 -0.5 0.4 -0.5 -1.8 -0.5 -0.7 -0.5 0 -0.5 2.7 0 1 1 2.8 1 1.2 -1 2.7 -0.5 -0.2 -0.5 1 -0.4 3.5 -1.6 4 -0.5 2 0 4 -0.2 1 -0.8 1.7 -0.5 -0.8 -0.5 -1.8 -1 2 -0.5 0.6 -0.5 0.3 -0.5 -0.1 -0.5 -1.5 -0.5 1.1 -0.5 1.9 -0.5 0.5 -0.5 0.1 -1 0.9 -1.5 0.6 -0.5 0.6 -0.5 0.3 -0.5 -0.4 -0.5 -0.1 -0.5 0.1 -0.5 0.5 -0.5 1 -0.5 0.5 -1.5 -0.3 -1.5 0.5 -1.5 -0.5 -2 0 -0.5 0.2 -1 0.9 -1 0.1 -2 -0.8 -1.5 0.8 -1.5 0.1 -0.5 0.4 -0.5 0 -0.5 -0.6 -0.5 0.1 -0.5 0.5 -0.5 0.3 -1.5 -0.2 -2 0.5 -2 -0.4 -1.5 0.3 -1.5 -0.5 -1.5 0.7 -1 0.2 -3.5 0 -1.5 -0.3 -1 0.2 -1 -0.3 -2.5 0.4 -3 -0.3 -1.5 0.3 -1.5 -0.1 -2 0.3 -2.5 -0.4 -5 0.3 -40 0.1M609 682.5l-0.5 1.4 0.5 1.3 0.5 0.7 0.4 -1 0.1 -1 -0.5 -1.4 -0.5 0M604.5 718.7l-0.2 1.2 0.2 1.4 0.5 -1.4 0 -1.1 -0.5 -0.1" stroke="#9a9a98"/><path d="M607.6 670.9l1.6 -9 1.6 0 0.2 3.5 0.5 -1.4 0.7 1.9 -0.2 8.2 -0.5 0 -0.3 -1.2 -0.2 -5.2 -0.5 3.2 1.5 11.1 0.6 1.9 -1.2 5 0.1 17 0.4 4 -0.4 1.3 -0.5 -2.2 -0.5 0.9 -0.1 5 -0.4 2 -0.5 0.4 -0.5 -0.5 -0.5 0.4 -1 3.1 -0.3 -1.4 -0.2 -0.2 -0.2 0.2 -0.5 5 -1.3 3.6 -0.5 0.1 -0.5 -1.6 -0.5 0 -1 1.1 -1.5 0.7 -1.5 2.1 -1 -0.2 -1.5 0.4 -1.5 1.2 -1.5 -0.1 -1.5 1.2 -1.5 -0.1 -1.5 0.4 -2 -0.3 -4 0.9 -2 -0.5 -3.5 1 -1 -0.4 -1.5 0.4 -3.5 0.1 -5 -0.1 -2.5 0.2 -5 0 -4.5 0.1 -8 0.2 -9.5 0 -8 0.1 -7 0 -14 0 -9 0 51 -0.2 21.5 -0.8 3.5 -0.3 1 -0.5 1.5 0.2 3.5 -0.9 2.5 0.2 2 -0.8 6 -0.7 2 -1.5 2 -0.3 1.8 -0.9 0.7 -0.8 1 -0.4 0.5 -0.6 0.5 -1.9 0.5 -0.6 0.5 0.8 0.5 0.1 0.7 -0.6 1.8 -5.8 0.5 -0.3 0.5 0.6 0.5 -0.9 0.7 -2.6 0.3 -2.4 0.8 -2.6 0.4 -4 -0.3 -4 0.5 -9 0.7 -4 -0.8 -4 0 -3 0.2 -1.1 1 -1.6 0.1 -3.3 -0.6 -3.9 -0.5 -0.8 -0.5 1.4z" fill="#9a9a98" stroke="none" fill-rule="evenodd"/><path d="M587.4 661.9l1 9 -0.4 1.2 -0.9 1.8 -0.3 7 -0.4 3 0.4 3 0.1 2 -0.5 4 -0.3 5 -0.9 3 -0.1 1 0.1 4 -0.7 1.6 -0.5 0.2 -0.9 1.2 -1.1 0.8 -0.5 0.7 -1 4.4 -0.5 -0.2 -1 0.2 -1 2.1 -0.5 0.4 -0.5 -0.1 -1.5 1 -0.5 -0.1 -0.5 0.1 -1 0.7 -1 0.2 -1 0.4 -1.5 0.4 -1 0.6 -2 0 -1.5 0.6 -2.5 0.4 -1 0.5 -2 -0.1 -1.5 0.7 -1 0 -1 -0.4 -0.5 0.1 -1 0.6 -3 0.5 -1.5 -0.4 -2 0.4 -6 0.4 -6 -0.1 -20 0.6 -17 0.2" stroke="#5a5a52"/><path d="M586.9 661.9l1.4 0 0.4 8 -1.3 9 0.5 5 -0.4 3 -0.2 6 -1 7 -0.7 2 -0.1 4 -0.3 1 -1.7 3 -2 2.6 -1 3.3 -1.5 0.6 -1.5 1.5 -8.5 2.7 -7.1 1.3 -4.4 0.5 -2.5 0.3 -2.5 0.3 -1.5 0.1 -2.5 0.2 -3 0.2 -3 0.1 -2.5 0.2 -3 0.1 -3.5 0.1 -3.5 0.1 -3.5 0.1 -3.5 0.1 -4.5 0 -4 0.1 -5 0 -6.5 0.1 -3.5 0 34 -0.5 21.5 -1.3 7 -0.9 7 -1.6 4.5 -1.6 4 -2.2 1.5 -2.3 1.5 -1.5 1 -3.1 1.5 -1.9 1.5 -3.1 0.3 -3.6 1 -4 0.2 -13 0.6 -8 -0.4 -5 1.2 -4z" fill="#5a5a52" stroke="none" fill-rule="evenodd"/><path d="M566.9 661.9l0.3 9 -1.2 1.7 -0.5 2.5 -0.7 1.8 -0.3 1.7 0 1.8 0.4 3.5 0 4 -0.4 3.5 -0.5 -1 -1 -4.3 -0.5 1.8 -0.1 3 -0.9 1.1 -0.3 0.9 -0.2 5 -0.3 1 -0.2 0.4 -0.4 -0.4 -0.1 -0.3 -0.6 2.3 -1.9 0.9 -0.7 1.1 -0.9 1 -0.9 2 -1.5 0.7 -1.5 -0.3 -1.5 -0.8 -1.5 1.8 -2 1.5 -2.5 0.8 -2 0.4 -2.5 1.1 -3.5 0.2 -3.5 0.9 -18.5 1.6 -15 0.5" stroke="#1e1e18"/><path d="M566.2 661.9l0.9 0 -0.1 9 -1.6 9 -0.9 8.3 -1.4 4.7 -2.1 5 -2.2 3 -1.9 2 -1.9 1.6 -2 1.4 -1.7 1 -2.1 1 -2.4 1 -3 1 -2.3 0.6 -2.5 0.6 -3.5 0.7 -3.5 0.5 -4 0.5 -4 0.4 -4 0.3 -5 0.3 -4 0.2 -6.5 0.2 -4 0.1 -1 0 21 -0.8 15 -1.7 5.5 -1.2 5.7 -1.7 4.5 -2 3.8 -2.4 2.8 -2.6 2.3 -3 1 -2 1.6 -5 1.8 -8 0.3 -5 1.1 -8z" fill="#1e1e18" stroke="none" fill-rule="evenodd"/></g>
<rect x="66.7" y="9" width="161.2" height="138.7" fill="#3d26a8"/>
<path d="M66.7 147.7L227.9 9" stroke="#c6c2df" stroke-width="1.15" stroke-dasharray="10.3 6.1" fill="none"/>
<rect x="283.7" y="9" width="161.2" height="138.7" fill="#3d26a8"/>
<path d="M283.7 147.7L444.9 9" stroke="#c6c2df" stroke-width="1.15" stroke-dasharray="10.3 6.1" fill="none"/>
<rect x="500.5" y="9" width="161.2" height="138.7" fill="#3d26a8"/>
<path d="M500.5 147.7L661.7 9" stroke="#c6c2df" stroke-width="1.15" stroke-dasharray="10.3 6.1" fill="none"/>
<defs><radialGradient id="rb3" ><stop offset="0" stop-color="#f9fb15"/><stop offset="0.3" stop-color="#f7f31c"/><stop offset="0.42" stop-color="#fec437"/><stop offset="0.54" stop-color="#8dcb4f"/><stop offset="0.66" stop-color="#12beb9"/><stop offset="0.78" stop-color="#249fe6"/><stop offset="0.9" stop-color="#347afd"/><stop offset="1" stop-color="#465ffb"/></radialGradient><filter id="bl3" x="-0.2" y="-0.2" width="1.4" height="1.4"><feGaussianBlur stdDeviation="0.55"/></filter><clipPath id="cb2"><path d="M331.4 44C332.9 43.8 334.5 44.1 336.1 45C337.7 45.9 339.6 47.4 340.8 49.2C342.1 51 343.5 53.8 343.6 55.9C343.7 58 342.6 60.2 341.3 62.1C340.1 64 337.8 65.7 336.1 67.3C334.4 68.9 332.2 69.9 330.9 71.5C329.6 73.1 328.6 74.6 328.3 76.7C328.1 78.8 328.7 82.2 329.4 83.9C330.1 85.6 331.4 86.7 332.5 87C333.6 87.3 334.8 86.7 336.1 86C337.4 85.3 338.9 83.3 340.3 82.9C341.7 82.5 343.3 82.7 344.4 83.4C345.5 84.1 346.6 85.5 347 87C347.4 88.5 347.5 90.5 347 92.2C346.5 93.9 345.2 95.8 343.9 96.9C342.6 98 340.7 98.9 339.2 99C337.7 99.1 336.4 98.3 335.1 97.4C333.8 96.5 332.4 94.2 331.4 93.8C330.3 93.4 329.9 94.2 328.8 95.3C327.7 96.4 325.9 98.8 324.7 100.5C323.5 102.2 322.5 104.2 321.6 105.2C320.7 106.2 320.1 106.9 319.5 106.7C318.9 106.5 318.2 105.8 318 104.1C317.8 102.4 318.1 99.4 318.5 96.4C318.9 93.4 320 89.3 320.6 86C321.2 82.7 321.9 80 322.1 76.7C322.3 73.4 321.7 69.2 321.6 66.3C321.5 63.3 321.4 61.4 321.6 59C321.9 56.6 322.2 53.9 323.1 51.8C324 49.6 325.4 47.4 326.8 46.1C328.2 44.8 329.8 44.2 331.4 44z"/></clipPath><filter id="bl2" x="-0.3" y="-0.3" width="1.6" height="1.6"><feGaussianBlur stdDeviation="1.6"/></filter><radialGradient id="rb2" ><stop offset="0" stop-color="#f9fb15"/><stop offset="0.2" stop-color="#f8f719"/><stop offset="0.33" stop-color="#fdcc32"/><stop offset="0.45" stop-color="#9fc942"/><stop offset="0.57" stop-color="#21c1b0"/><stop offset="0.7" stop-color="#249fe6"/><stop offset="0.84" stop-color="#3876fe"/><stop offset="1" stop-color="#475cfa" stop-opacity="0"/></radialGradient><radialGradient id="rb2b" ><stop offset="0" stop-color="#15afd9"/><stop offset="0.35" stop-color="#2895ec"/><stop offset="1" stop-color="#4367fd" stop-opacity="0"/></radialGradient></defs><ellipse cx="186.8" cy="44.1" rx="4.5" ry="2.9" transform="rotate(-20 186.8 44.1)" fill="#fbf9ee" stroke="#f4f1f6" stroke-width="0.6"/>
<g transform="rotate(-30 549.6 97.6)"><ellipse cx="549.6" cy="97.6" rx="9.5" ry="8.0" fill="url(#rb3)" stroke="#eef0fc" stroke-width="1"/><ellipse cx="549.6" cy="97.6" rx="8.1" ry="6.7" fill="none" stroke="#fff" stroke-opacity="0.8" stroke-width="0.7"/><ellipse cx="549.6" cy="97.6" rx="6.7" ry="5.4" fill="none" stroke="#fff" stroke-opacity="0.7" stroke-width="0.7"/><ellipse cx="549.6" cy="97.6" rx="5.3" ry="4.2" fill="none" stroke="#fff" stroke-opacity="0.55" stroke-width="0.6"/><ellipse cx="549.6" cy="97.6" rx="4.0" ry="3.1" fill="none" stroke="#fff" stroke-opacity="0.4" stroke-width="0.6"/></g>
<g clip-path="url(#cb2)"><path d="M331.4 44C332.9 43.8 334.5 44.1 336.1 45C337.7 45.9 339.6 47.4 340.8 49.2C342.1 51 343.5 53.8 343.6 55.9C343.7 58 342.6 60.2 341.3 62.1C340.1 64 337.8 65.7 336.1 67.3C334.4 68.9 332.2 69.9 330.9 71.5C329.6 73.1 328.6 74.6 328.3 76.7C328.1 78.8 328.7 82.2 329.4 83.9C330.1 85.6 331.4 86.7 332.5 87C333.6 87.3 334.8 86.7 336.1 86C337.4 85.3 338.9 83.3 340.3 82.9C341.7 82.5 343.3 82.7 344.4 83.4C345.5 84.1 346.6 85.5 347 87C347.4 88.5 347.5 90.5 347 92.2C346.5 93.9 345.2 95.8 343.9 96.9C342.6 98 340.7 98.9 339.2 99C337.7 99.1 336.4 98.3 335.1 97.4C333.8 96.5 332.4 94.2 331.4 93.8C330.3 93.4 329.9 94.2 328.8 95.3C327.7 96.4 325.9 98.8 324.7 100.5C323.5 102.2 322.5 104.2 321.6 105.2C320.7 106.2 320.1 106.9 319.5 106.7C318.9 106.5 318.2 105.8 318 104.1C317.8 102.4 318.1 99.4 318.5 96.4C318.9 93.4 320 89.3 320.6 86C321.2 82.7 321.9 80 322.1 76.7C322.3 73.4 321.7 69.2 321.6 66.3C321.5 63.3 321.4 61.4 321.6 59C321.9 56.6 322.2 53.9 323.1 51.8C324 49.6 325.4 47.4 326.8 46.1C328.2 44.8 329.8 44.2 331.4 44z" fill="#484aee"/><path d="M319.5 106L322 86 323.5 70 326 60" stroke="#4367fd" stroke-width="4.5" fill="none" filter="url(#bl2)"/><g filter="url(#bl3)"><path d="M330.9 44.4C337.3 44.4 341.5 49.7 341.5 55.5C341.5 60.8 334.6 65.1 328.8 68.8C325.1 66.7 321.9 61.4 321.9 55.5C321.9 49.2 325.6 44.4 330.9 44.4z" fill="#4367fd"/><path d="M330.9 45.6C336.5 45.6 340.3 50.3 340.3 55.5C340.3 60.2 334.2 63.9 329 67.2C325.7 65.3 322.9 60.6 322.9 55.5C322.9 49.8 326.2 45.6 330.9 45.6z" fill="#2d8cf3"/><path d="M330.9 46.6C335.9 46.6 339.3 50.8 339.3 55.4C339.3 59.6 333.8 63 329.2 65.9C326.3 64.2 323.8 60 323.8 55.4C323.8 50.4 326.7 46.6 330.9 46.6z" fill="#20a4e3"/><path d="M330.9 47.6C335.3 47.6 338.3 51.3 338.3 55.4C338.3 59.1 333.5 62 329.4 64.6C326.8 63.1 324.6 59.4 324.6 55.4C324.6 50.9 327.2 47.6 330.9 47.6z" fill="#04bbc2"/><path d="M330.9 48.5C334.8 48.5 337.4 51.8 337.4 55.3C337.4 58.6 333.2 61.2 329.6 63.5C327.3 62.1 325.4 58.9 325.4 55.3C325.4 51.4 327.6 48.5 330.9 48.5z" fill="#3bc992"/><path d="M330.9 49.4C334.3 49.4 336.5 52.2 336.5 55.3C336.5 58.1 332.9 60.3 329.8 62.3C327.8 61.2 326.1 58.4 326.1 55.3C326.1 51.9 328.1 49.4 330.9 49.4z" fill="#8dcb4f"/><path d="M330.9 50.2C333.8 50.2 335.7 52.6 335.7 55.2C335.7 57.6 332.6 59.6 329.9 61.2C328.3 60.3 326.8 57.9 326.8 55.2C326.8 52.4 328.5 50.2 330.9 50.2z" fill="#debd29"/><path d="M330.9 51C333.3 51 334.9 53 334.9 55.2C334.9 57.2 332.3 58.8 330.1 60.2C328.7 59.4 327.5 57.4 327.5 55.2C327.5 52.8 328.9 51 330.9 51z" fill="#fec835"/><path d="M330.9 51.9C332.8 51.9 334 53.5 334 55.2C334 56.7 332 57.9 330.3 59C329.2 58.4 328.3 56.9 328.3 55.2C328.3 53.3 329.3 51.9 330.9 51.9z" fill="#f5ec22"/><path d="M330.9 53C332.1 53 332.9 54 332.9 55.1C332.9 56.1 331.6 56.9 330.5 57.6C329.8 57.2 329.2 56.2 329.2 55.1C329.2 53.9 329.9 53 330.9 53z" fill="#f9fb15"/></g><circle cx="341.2" cy="91" r="7" fill="url(#rb2b)"/></g>
<path d="M331.4 44C332.9 43.8 334.5 44.1 336.1 45C337.7 45.9 339.6 47.4 340.8 49.2C342.1 51 343.5 53.8 343.6 55.9C343.7 58 342.6 60.2 341.3 62.1C340.1 64 337.8 65.7 336.1 67.3C334.4 68.9 332.2 69.9 330.9 71.5C329.6 73.1 328.6 74.6 328.3 76.7C328.1 78.8 328.7 82.2 329.4 83.9C330.1 85.6 331.4 86.7 332.5 87C333.6 87.3 334.8 86.7 336.1 86C337.4 85.3 338.9 83.3 340.3 82.9C341.7 82.5 343.3 82.7 344.4 83.4C345.5 84.1 346.6 85.5 347 87C347.4 88.5 347.5 90.5 347 92.2C346.5 93.9 345.2 95.8 343.9 96.9C342.6 98 340.7 98.9 339.2 99C337.7 99.1 336.4 98.3 335.1 97.4C333.8 96.5 332.4 94.2 331.4 93.8C330.3 93.4 329.9 94.2 328.8 95.3C327.7 96.4 325.9 98.8 324.7 100.5C323.5 102.2 322.5 104.2 321.6 105.2C320.7 106.2 320.1 106.9 319.5 106.7C318.9 106.5 318.2 105.8 318 104.1C317.8 102.4 318.1 99.4 318.5 96.4C318.9 93.4 320 89.3 320.6 86C321.2 82.7 321.9 80 322.1 76.7C322.3 73.4 321.7 69.2 321.6 66.3C321.5 63.3 321.4 61.4 321.6 59C321.9 56.6 322.2 53.9 323.1 51.8C324 49.6 325.4 47.4 326.8 46.1C328.2 44.8 329.8 44.2 331.4 44z" fill="none" stroke="#e6e6fa" stroke-width="0.9"/>
<g fill="none" stroke="#fff" stroke-width="0.65"><path d="M330.9 45.6C336.5 45.6 340.3 50.3 340.3 55.5C340.3 60.2 334.2 63.9 329 67.2C325.7 65.3 322.9 60.6 322.9 55.5C322.9 49.8 326.2 45.6 330.9 45.6z" stroke-opacity="0.9"/><path d="M330.9 47.6C335.3 47.6 338.3 51.3 338.3 55.4C338.3 59.1 333.5 62 329.4 64.6C326.8 63.1 324.6 59.4 324.6 55.4C324.6 50.9 327.2 47.6 330.9 47.6z" stroke-opacity="0.8"/><path d="M330.9 49.4C334.3 49.4 336.5 52.2 336.5 55.3C336.5 58.1 332.9 60.3 329.8 62.3C327.8 61.2 326.1 58.4 326.1 55.3C326.1 51.9 328.1 49.4 330.9 49.4z" stroke-opacity="0.65"/><path d="M330.9 51C333.3 51 334.9 53 334.9 55.2C334.9 57.2 332.3 58.8 330.1 60.2C328.7 59.4 327.5 57.4 327.5 55.2C327.5 52.8 328.9 51 330.9 51z" stroke-opacity="0.45"/></g>
<circle cx="341.3" cy="91" r="2.2" fill="#1caadf" stroke="#f4faff" stroke-width="0.9"/>
<text x="59.5" y="155.7" font-size="15.0" text-anchor="end">10<tspan dx="0.6" dy="-6.6" font-size="11.3">0</tspan></text>
<text x="66.7" y="174.3" font-size="15.0" text-anchor="middle">10<tspan dx="0.6" dy="-6.6" font-size="11.3">0</tspan></text>
<text x="59.5" y="86.3" font-size="15.0" text-anchor="end">10<tspan dx="0.6" dy="-6.6" font-size="11.3">2</tspan></text>
<text x="147.3" y="174.3" font-size="15.0" text-anchor="middle">10<tspan dx="0.6" dy="-6.6" font-size="11.3">2</tspan></text>
<text x="59.5" y="17" font-size="15.0" text-anchor="end">10<tspan dx="0.6" dy="-6.6" font-size="11.3">4</tspan></text>
<text x="227.9" y="174.3" font-size="15.0" text-anchor="middle">10<tspan dx="0.6" dy="-6.6" font-size="11.3">4</tspan></text>
<text x="147.3" y="195" font-size="15.6" text-anchor="middle">T<tspan dy="7.2" font-size="11.8">2</tspan><tspan dy="-7.2"> in ms</tspan></text>
<text x="276.5" y="155.7" font-size="15.0" text-anchor="end">10<tspan dx="0.6" dy="-6.6" font-size="11.3">0</tspan></text>
<text x="283.7" y="174.3" font-size="15.0" text-anchor="middle">10<tspan dx="0.6" dy="-6.6" font-size="11.3">0</tspan></text>
<text x="276.5" y="86.3" font-size="15.0" text-anchor="end">10<tspan dx="0.6" dy="-6.6" font-size="11.3">2</tspan></text>
<text x="364.3" y="174.3" font-size="15.0" text-anchor="middle">10<tspan dx="0.6" dy="-6.6" font-size="11.3">2</tspan></text>
<text x="276.5" y="17" font-size="15.0" text-anchor="end">10<tspan dx="0.6" dy="-6.6" font-size="11.3">4</tspan></text>
<text x="444.9" y="174.3" font-size="15.0" text-anchor="middle">10<tspan dx="0.6" dy="-6.6" font-size="11.3">4</tspan></text>
<text x="364.3" y="195" font-size="15.6" text-anchor="middle">T<tspan dy="7.2" font-size="11.8">2</tspan><tspan dy="-7.2"> in ms</tspan></text>
<text x="493.3" y="155.7" font-size="15.0" text-anchor="end">10<tspan dx="0.6" dy="-6.6" font-size="11.3">0</tspan></text>
<text x="500.5" y="174.3" font-size="15.0" text-anchor="middle">10<tspan dx="0.6" dy="-6.6" font-size="11.3">0</tspan></text>
<text x="493.3" y="86.3" font-size="15.0" text-anchor="end">10<tspan dx="0.6" dy="-6.6" font-size="11.3">2</tspan></text>
<text x="581.1" y="174.3" font-size="15.0" text-anchor="middle">10<tspan dx="0.6" dy="-6.6" font-size="11.3">2</tspan></text>
<text x="493.3" y="17" font-size="15.0" text-anchor="end">10<tspan dx="0.6" dy="-6.6" font-size="11.3">4</tspan></text>
<text x="661.7" y="174.3" font-size="15.0" text-anchor="middle">10<tspan dx="0.6" dy="-6.6" font-size="11.3">4</tspan></text>
<text x="581.1" y="195" font-size="15.6" text-anchor="middle">T<tspan dy="7.2" font-size="11.8">2</tspan><tspan dy="-7.2"> in ms</tspan></text>
<text transform="translate(21.2,78.3) rotate(-90)" font-size="15.6" text-anchor="middle">T<tspan dy="7.2" font-size="11.8">1</tspan><tspan dy="-7.2"> in ms</tspan></text>
<text x="58.3" y="374.6" font-size="15.0" text-anchor="end">10<tspan dx="0.6" dy="-6.6" font-size="11.3">0</tspan></text>
<text x="58.3" y="304.8" font-size="15.0" text-anchor="end">10<tspan dx="0.6" dy="-6.6" font-size="11.3">2</tspan></text>
<text x="58.3" y="235" font-size="15.0" text-anchor="end">10<tspan dx="0.6" dy="-6.6" font-size="11.3">4</tspan></text>
<text x="140.8" y="393.3" font-size="15.0" text-anchor="middle">10<tspan dx="0.6" dy="-6.6" font-size="11.3">2</tspan></text>
<text x="227.9" y="393.3" font-size="15.0" text-anchor="middle">10<tspan dx="0.6" dy="-6.6" font-size="11.3">4</tspan></text>
<path d="M66.7 366.7v1.1 M66.7 227.1v-1.1M74.4 366.7v1.1 M74.4 227.1v-1.1M79.9 366.7v1.1 M79.9 227.1v-1.1M84.1 366.7v1.1 M84.1 227.1v-1.1M87.5 366.7v1.1 M87.5 227.1v-1.1M90.4 366.7v1.1 M90.4 227.1v-1.1M93 366.7v1.1 M93 227.1v-1.1M95.2 366.7v1.1 M95.2 227.1v-1.1M97.2 366.7v2.2 M97.2 227.1v-2.2M110.3 366.7v1.1 M110.3 227.1v-1.1M118 366.7v1.1 M118 227.1v-1.1M123.4 366.7v1.1 M123.4 227.1v-1.1M127.6 366.7v1.1 M127.6 227.1v-1.1M131.1 366.7v1.1 M131.1 227.1v-1.1M134 366.7v1.1 M134 227.1v-1.1M136.5 366.7v1.1 M136.5 227.1v-1.1M138.8 366.7v1.1 M138.8 227.1v-1.1M140.8 366.7v2.2 M140.8 227.1v-2.2M153.9 366.7v1.1 M153.9 227.1v-1.1M161.6 366.7v1.1 M161.6 227.1v-1.1M167 366.7v1.1 M167 227.1v-1.1M171.2 366.7v1.1 M171.2 227.1v-1.1M174.7 366.7v1.1 M174.7 227.1v-1.1M177.6 366.7v1.1 M177.6 227.1v-1.1M180.1 366.7v1.1 M180.1 227.1v-1.1M182.3 366.7v1.1 M182.3 227.1v-1.1M184.3 366.7v2.2 M184.3 227.1v-2.2M197.4 366.7v1.1 M197.4 227.1v-1.1M205.1 366.7v1.1 M205.1 227.1v-1.1M210.6 366.7v1.1 M210.6 227.1v-1.1M214.8 366.7v1.1 M214.8 227.1v-1.1M218.2 366.7v1.1 M218.2 227.1v-1.1M221.2 366.7v1.1 M221.2 227.1v-1.1M223.7 366.7v1.1 M223.7 227.1v-1.1M225.9 366.7v1.1 M225.9 227.1v-1.1M227.9 366.7v2.2 M227.9 227.1v-2.2M66.7 366.7h-2.2 M227.9 366.7h2.2M66.7 356.2h-1.1 M227.9 356.2h1.1M66.7 350h-1.1 M227.9 350h1.1M66.7 345.7h-1.1 M227.9 345.7h1.1M66.7 342.3h-1.1 M227.9 342.3h1.1M66.7 339.5h-1.1 M227.9 339.5h1.1M66.7 337.2h-1.1 M227.9 337.2h1.1M66.7 335.2h-1.1 M227.9 335.2h1.1M66.7 333.4h-1.1 M227.9 333.4h1.1M66.7 331.8h-2.2 M227.9 331.8h2.2M66.7 321.3h-1.1 M227.9 321.3h1.1M66.7 315.1h-1.1 M227.9 315.1h1.1M66.7 310.8h-1.1 M227.9 310.8h1.1M66.7 307.4h-1.1 M227.9 307.4h1.1M66.7 304.6h-1.1 M227.9 304.6h1.1M66.7 302.3h-1.1 M227.9 302.3h1.1M66.7 300.3h-1.1 M227.9 300.3h1.1M66.7 298.5h-1.1 M227.9 298.5h1.1M66.7 296.9h-2.2 M227.9 296.9h2.2M66.7 286.4h-1.1 M227.9 286.4h1.1M66.7 280.2h-1.1 M227.9 280.2h1.1M66.7 275.9h-1.1 M227.9 275.9h1.1M66.7 272.5h-1.1 M227.9 272.5h1.1M66.7 269.7h-1.1 M227.9 269.7h1.1M66.7 267.4h-1.1 M227.9 267.4h1.1M66.7 265.4h-1.1 M227.9 265.4h1.1M66.7 263.6h-1.1 M227.9 263.6h1.1M66.7 262h-2.2 M227.9 262h2.2M66.7 251.5h-1.1 M227.9 251.5h1.1M66.7 245.3h-1.1 M227.9 245.3h1.1M66.7 241h-1.1 M227.9 241h1.1M66.7 237.6h-1.1 M227.9 237.6h1.1M66.7 234.8h-1.1 M227.9 234.8h1.1M66.7 232.5h-1.1 M227.9 232.5h1.1M66.7 230.5h-1.1 M227.9 230.5h1.1M66.7 228.7h-1.1 M227.9 228.7h1.1M66.7 227.1h-2.2 M227.9 227.1h2.2" stroke="#262626" stroke-width="0.8" opacity="0.9" fill="none"/>
<text x="115.1" y="221.5" font-size="14.8" font-weight="bold" fill="#000">1</text>
<text x="130.7" y="221.5" font-size="14.8" fill="#000">S(A,</text>
<text x="163.2" y="221.5" font-family="Liberation Mono" font-style="italic" font-size="17.5" fill="#000">α</text>
<text x="174.9" y="221.5" font-size="14.8" fill="#000">)</text>
<text x="275.3" y="374.6" font-size="15.0" text-anchor="end">10<tspan dx="0.6" dy="-6.6" font-size="11.3">0</tspan></text>
<text x="275.3" y="304.8" font-size="15.0" text-anchor="end">10<tspan dx="0.6" dy="-6.6" font-size="11.3">2</tspan></text>
<text x="275.3" y="235" font-size="15.0" text-anchor="end">10<tspan dx="0.6" dy="-6.6" font-size="11.3">4</tspan></text>
<text x="357.8" y="393.3" font-size="15.0" text-anchor="middle">10<tspan dx="0.6" dy="-6.6" font-size="11.3">2</tspan></text>
<text x="444.9" y="393.3" font-size="15.0" text-anchor="middle">10<tspan dx="0.6" dy="-6.6" font-size="11.3">4</tspan></text>
<path d="M283.7 366.7v1.1 M283.7 227.1v-1.1M291.4 366.7v1.1 M291.4 227.1v-1.1M296.9 366.7v1.1 M296.9 227.1v-1.1M301.1 366.7v1.1 M301.1 227.1v-1.1M304.5 366.7v1.1 M304.5 227.1v-1.1M307.4 366.7v1.1 M307.4 227.1v-1.1M310 366.7v1.1 M310 227.1v-1.1M312.2 366.7v1.1 M312.2 227.1v-1.1M314.2 366.7v2.2 M314.2 227.1v-2.2M327.3 366.7v1.1 M327.3 227.1v-1.1M335 366.7v1.1 M335 227.1v-1.1M340.4 366.7v1.1 M340.4 227.1v-1.1M344.6 366.7v1.1 M344.6 227.1v-1.1M348.1 366.7v1.1 M348.1 227.1v-1.1M351 366.7v1.1 M351 227.1v-1.1M353.5 366.7v1.1 M353.5 227.1v-1.1M355.8 366.7v1.1 M355.8 227.1v-1.1M357.8 366.7v2.2 M357.8 227.1v-2.2M370.9 366.7v1.1 M370.9 227.1v-1.1M378.6 366.7v1.1 M378.6 227.1v-1.1M384 366.7v1.1 M384 227.1v-1.1M388.2 366.7v1.1 M388.2 227.1v-1.1M391.7 366.7v1.1 M391.7 227.1v-1.1M394.6 366.7v1.1 M394.6 227.1v-1.1M397.1 366.7v1.1 M397.1 227.1v-1.1M399.3 366.7v1.1 M399.3 227.1v-1.1M401.3 366.7v2.2 M401.3 227.1v-2.2M414.4 366.7v1.1 M414.4 227.1v-1.1M422.1 366.7v1.1 M422.1 227.1v-1.1M427.6 366.7v1.1 M427.6 227.1v-1.1M431.8 366.7v1.1 M431.8 227.1v-1.1M435.2 366.7v1.1 M435.2 227.1v-1.1M438.2 366.7v1.1 M438.2 227.1v-1.1M440.7 366.7v1.1 M440.7 227.1v-1.1M442.9 366.7v1.1 M442.9 227.1v-1.1M444.9 366.7v2.2 M444.9 227.1v-2.2M283.7 366.7h-2.2 M444.9 366.7h2.2M283.7 356.2h-1.1 M444.9 356.2h1.1M283.7 350h-1.1 M444.9 350h1.1M283.7 345.7h-1.1 M444.9 345.7h1.1M283.7 342.3h-1.1 M444.9 342.3h1.1M283.7 339.5h-1.1 M444.9 339.5h1.1M283.7 337.2h-1.1 M444.9 337.2h1.1M283.7 335.2h-1.1 M444.9 335.2h1.1M283.7 333.4h-1.1 M444.9 333.4h1.1M283.7 331.8h-2.2 M444.9 331.8h2.2M283.7 321.3h-1.1 M444.9 321.3h1.1M283.7 315.1h-1.1 M444.9 315.1h1.1M283.7 310.8h-1.1 M444.9 310.8h1.1M283.7 307.4h-1.1 M444.9 307.4h1.1M283.7 304.6h-1.1 M444.9 304.6h1.1M283.7 302.3h-1.1 M444.9 302.3h1.1M283.7 300.3h-1.1 M444.9 300.3h1.1M283.7 298.5h-1.1 M444.9 298.5h1.1M283.7 296.9h-2.2 M444.9 296.9h2.2M283.7 286.4h-1.1 M444.9 286.4h1.1M283.7 280.2h-1.1 M444.9 280.2h1.1M283.7 275.9h-1.1 M444.9 275.9h1.1M283.7 272.5h-1.1 M444.9 272.5h1.1M283.7 269.7h-1.1 M444.9 269.7h1.1M283.7 267.4h-1.1 M444.9 267.4h1.1M283.7 265.4h-1.1 M444.9 265.4h1.1M283.7 263.6h-1.1 M444.9 263.6h1.1M283.7 262h-2.2 M444.9 262h2.2M283.7 251.5h-1.1 M444.9 251.5h1.1M283.7 245.3h-1.1 M444.9 245.3h1.1M283.7 241h-1.1 M444.9 241h1.1M283.7 237.6h-1.1 M444.9 237.6h1.1M283.7 234.8h-1.1 M444.9 234.8h1.1M283.7 232.5h-1.1 M444.9 232.5h1.1M283.7 230.5h-1.1 M444.9 230.5h1.1M283.7 228.7h-1.1 M444.9 228.7h1.1M283.7 227.1h-2.2 M444.9 227.1h2.2" stroke="#262626" stroke-width="0.8" opacity="0.9" fill="none"/>
<text x="333.8" y="221.5" font-size="14.8" font-weight="bold" fill="#000">2</text>
<text x="349.4" y="221.5" font-size="14.8" fill="#000">S(B,</text>
<text x="381.9" y="221.5" font-family="Liberation Mono" font-style="italic" font-size="17.5" fill="#000">α</text>
<text x="393.6" y="221.5" font-size="14.8" fill="#000">)</text>
<text x="492.1" y="374.6" font-size="15.0" text-anchor="end">10<tspan dx="0.6" dy="-6.6" font-size="11.3">0</tspan></text>
<text x="492.1" y="304.8" font-size="15.0" text-anchor="end">10<tspan dx="0.6" dy="-6.6" font-size="11.3">2</tspan></text>
<text x="492.1" y="235" font-size="15.0" text-anchor="end">10<tspan dx="0.6" dy="-6.6" font-size="11.3">4</tspan></text>
<text x="574.6" y="393.3" font-size="15.0" text-anchor="middle">10<tspan dx="0.6" dy="-6.6" font-size="11.3">2</tspan></text>
<text x="661.7" y="393.3" font-size="15.0" text-anchor="middle">10<tspan dx="0.6" dy="-6.6" font-size="11.3">4</tspan></text>
<path d="M500.5 366.7v1.1 M500.5 227.1v-1.1M508.2 366.7v1.1 M508.2 227.1v-1.1M513.7 366.7v1.1 M513.7 227.1v-1.1M517.9 366.7v1.1 M517.9 227.1v-1.1M521.3 366.7v1.1 M521.3 227.1v-1.1M524.2 366.7v1.1 M524.2 227.1v-1.1M526.8 366.7v1.1 M526.8 227.1v-1.1M529 366.7v1.1 M529 227.1v-1.1M531 366.7v2.2 M531 227.1v-2.2M544.1 366.7v1.1 M544.1 227.1v-1.1M551.8 366.7v1.1 M551.8 227.1v-1.1M557.2 366.7v1.1 M557.2 227.1v-1.1M561.4 366.7v1.1 M561.4 227.1v-1.1M564.9 366.7v1.1 M564.9 227.1v-1.1M567.8 366.7v1.1 M567.8 227.1v-1.1M570.3 366.7v1.1 M570.3 227.1v-1.1M572.6 366.7v1.1 M572.6 227.1v-1.1M574.6 366.7v2.2 M574.6 227.1v-2.2M587.7 366.7v1.1 M587.7 227.1v-1.1M595.4 366.7v1.1 M595.4 227.1v-1.1M600.8 366.7v1.1 M600.8 227.1v-1.1M605 366.7v1.1 M605 227.1v-1.1M608.5 366.7v1.1 M608.5 227.1v-1.1M611.4 366.7v1.1 M611.4 227.1v-1.1M613.9 366.7v1.1 M613.9 227.1v-1.1M616.1 366.7v1.1 M616.1 227.1v-1.1M618.1 366.7v2.2 M618.1 227.1v-2.2M631.2 366.7v1.1 M631.2 227.1v-1.1M638.9 366.7v1.1 M638.9 227.1v-1.1M644.4 366.7v1.1 M644.4 227.1v-1.1M648.6 366.7v1.1 M648.6 227.1v-1.1M652 366.7v1.1 M652 227.1v-1.1M655 366.7v1.1 M655 227.1v-1.1M657.5 366.7v1.1 M657.5 227.1v-1.1M659.7 366.7v1.1 M659.7 227.1v-1.1M661.7 366.7v2.2 M661.7 227.1v-2.2M500.5 366.7h-2.2 M661.7 366.7h2.2M500.5 356.2h-1.1 M661.7 356.2h1.1M500.5 350h-1.1 M661.7 350h1.1M500.5 345.7h-1.1 M661.7 345.7h1.1M500.5 342.3h-1.1 M661.7 342.3h1.1M500.5 339.5h-1.1 M661.7 339.5h1.1M500.5 337.2h-1.1 M661.7 337.2h1.1M500.5 335.2h-1.1 M661.7 335.2h1.1M500.5 333.4h-1.1 M661.7 333.4h1.1M500.5 331.8h-2.2 M661.7 331.8h2.2M500.5 321.3h-1.1 M661.7 321.3h1.1M500.5 315.1h-1.1 M661.7 315.1h1.1M500.5 310.8h-1.1 M661.7 310.8h1.1M500.5 307.4h-1.1 M661.7 307.4h1.1M500.5 304.6h-1.1 M661.7 304.6h1.1M500.5 302.3h-1.1 M661.7 302.3h1.1M500.5 300.3h-1.1 M661.7 300.3h1.1M500.5 298.5h-1.1 M661.7 298.5h1.1M500.5 296.9h-2.2 M661.7 296.9h2.2M500.5 286.4h-1.1 M661.7 286.4h1.1M500.5 280.2h-1.1 M661.7 280.2h1.1M500.5 275.9h-1.1 M661.7 275.9h1.1M500.5 272.5h-1.1 M661.7 272.5h1.1M500.5 269.7h-1.1 M661.7 269.7h1.1M500.5 267.4h-1.1 M661.7 267.4h1.1M500.5 265.4h-1.1 M661.7 265.4h1.1M500.5 263.6h-1.1 M661.7 263.6h1.1M500.5 262h-2.2 M661.7 262h2.2M500.5 251.5h-1.1 M661.7 251.5h1.1M500.5 245.3h-1.1 M661.7 245.3h1.1M500.5 241h-1.1 M661.7 241h1.1M500.5 237.6h-1.1 M661.7 237.6h1.1M500.5 234.8h-1.1 M661.7 234.8h1.1M500.5 232.5h-1.1 M661.7 232.5h1.1M500.5 230.5h-1.1 M661.7 230.5h1.1M500.5 228.7h-1.1 M661.7 228.7h1.1M500.5 227.1h-2.2 M661.7 227.1h2.2" stroke="#262626" stroke-width="0.8" opacity="0.9" fill="none"/>
<text x="551.9" y="221.5" font-size="14.8" font-weight="bold" fill="#000">3</text>
<text x="567.5" y="221.5" font-size="14.8" fill="#000">S(C,</text>
<text x="600" y="221.5" font-family="Liberation Mono" font-style="italic" font-size="17.5" fill="#000">α</text>
<text x="611.7" y="221.5" font-size="14.8" fill="#000">)</text>
<text transform="translate(19.4,297.4) rotate(-90)" font-size="15.6" text-anchor="middle"><tspan font-family="Liberation Serif" font-style="italic" font-size="17" fill="#666">τ</tspan><tspan dy="7.2" font-size="11.8">1</tspan><tspan dy="-7.2"> in ms</tspan></text>
<text x="58.3" y="592.3" font-size="15.0" text-anchor="end">10<tspan dx="0.6" dy="-6.6" font-size="11.3">0</tspan></text>
<text x="58.3" y="523" font-size="15.0" text-anchor="end">10<tspan dx="0.6" dy="-6.6" font-size="11.3">2</tspan></text>
<text x="58.3" y="453.7" font-size="15.0" text-anchor="end">10<tspan dx="0.6" dy="-6.6" font-size="11.3">4</tspan></text>
<text x="99.1" y="611" font-size="15.0" text-anchor="middle">10<tspan dx="0.6" dy="-6.6" font-size="11.3">0</tspan></text>
<text x="191.8" y="611" font-size="15.0" text-anchor="middle">10<tspan dx="0.6" dy="-6.6" font-size="11.3">2</tspan></text>
<path d="M66.7 584.4v1.1 M66.7 445.8v-1.1M74.9 584.4v1.1 M74.9 445.8v-1.1M80.7 584.4v1.1 M80.7 445.8v-1.1M85.2 584.4v1.1 M85.2 445.8v-1.1M88.8 584.4v1.1 M88.8 445.8v-1.1M91.9 584.4v1.1 M91.9 445.8v-1.1M94.6 584.4v1.1 M94.6 445.8v-1.1M97 584.4v1.1 M97 445.8v-1.1M99.1 584.4v2.2 M99.1 445.8v-2.2M113.1 584.4v1.1 M113.1 445.8v-1.1M121.2 584.4v1.1 M121.2 445.8v-1.1M127 584.4v1.1 M127 445.8v-1.1M131.5 584.4v1.1 M131.5 445.8v-1.1M135.2 584.4v1.1 M135.2 445.8v-1.1M138.3 584.4v1.1 M138.3 445.8v-1.1M141 584.4v1.1 M141 445.8v-1.1M143.3 584.4v1.1 M143.3 445.8v-1.1M145.4 584.4v2.2 M145.4 445.8v-2.2M159.4 584.4v1.1 M159.4 445.8v-1.1M167.5 584.4v1.1 M167.5 445.8v-1.1M173.3 584.4v1.1 M173.3 445.8v-1.1M177.8 584.4v1.1 M177.8 445.8v-1.1M181.5 584.4v1.1 M181.5 445.8v-1.1M184.6 584.4v1.1 M184.6 445.8v-1.1M187.3 584.4v1.1 M187.3 445.8v-1.1M189.6 584.4v1.1 M189.6 445.8v-1.1M191.8 584.4v2.2 M191.8 445.8v-2.2M205.7 584.4v1.1 M205.7 445.8v-1.1M213.9 584.4v1.1 M213.9 445.8v-1.1M219.7 584.4v1.1 M219.7 445.8v-1.1M224.1 584.4v1.1 M224.1 445.8v-1.1M227.8 584.4v1.1 M227.8 445.8v-1.1M66.7 584.4h-2.2 M227.9 584.4h2.2M66.7 574h-1.1 M227.9 574h1.1M66.7 567.9h-1.1 M227.9 567.9h1.1M66.7 563.5h-1.1 M227.9 563.5h1.1M66.7 560.2h-1.1 M227.9 560.2h1.1M66.7 557.4h-1.1 M227.9 557.4h1.1M66.7 555.1h-1.1 M227.9 555.1h1.1M66.7 553.1h-1.1 M227.9 553.1h1.1M66.7 551.3h-1.1 M227.9 551.3h1.1M66.7 549.8h-2.2 M227.9 549.8h2.2M66.7 539.3h-1.1 M227.9 539.3h1.1M66.7 533.2h-1.1 M227.9 533.2h1.1M66.7 528.9h-1.1 M227.9 528.9h1.1M66.7 525.5h-1.1 M227.9 525.5h1.1M66.7 522.8h-1.1 M227.9 522.8h1.1M66.7 520.5h-1.1 M227.9 520.5h1.1M66.7 518.5h-1.1 M227.9 518.5h1.1M66.7 516.7h-1.1 M227.9 516.7h1.1M66.7 515.1h-2.2 M227.9 515.1h2.2M66.7 504.7h-1.1 M227.9 504.7h1.1M66.7 498.6h-1.1 M227.9 498.6h1.1M66.7 494.2h-1.1 M227.9 494.2h1.1M66.7 490.9h-1.1 M227.9 490.9h1.1M66.7 488.1h-1.1 M227.9 488.1h1.1M66.7 485.8h-1.1 M227.9 485.8h1.1M66.7 483.8h-1.1 M227.9 483.8h1.1M66.7 482h-1.1 M227.9 482h1.1M66.7 480.4h-2.2 M227.9 480.4h2.2M66.7 470h-1.1 M227.9 470h1.1M66.7 463.9h-1.1 M227.9 463.9h1.1M66.7 459.6h-1.1 M227.9 459.6h1.1M66.7 456.2h-1.1 M227.9 456.2h1.1M66.7 453.5h-1.1 M227.9 453.5h1.1M66.7 451.2h-1.1 M227.9 451.2h1.1M66.7 449.2h-1.1 M227.9 449.2h1.1M66.7 447.4h-1.1 M227.9 447.4h1.1M66.7 445.8h-2.2 M227.9 445.8h2.2" stroke="#262626" stroke-width="0.8" opacity="0.9" fill="none"/>
<text x="115.1" y="440.2" font-size="14.8" font-weight="bold" fill="#000">4</text>
<text x="130.7" y="440.2" font-size="14.8" fill="#000">S(A,</text>
<text x="162.7" y="440.2" font-family="Liberation Mono" font-style="italic" font-size="18" fill="#000">β</text>
<text x="173.3" y="440.2" font-size="14.8" fill="#000">)</text>
<text x="275.3" y="592.3" font-size="15.0" text-anchor="end">10<tspan dx="0.6" dy="-6.6" font-size="11.3">0</tspan></text>
<text x="275.3" y="523" font-size="15.0" text-anchor="end">10<tspan dx="0.6" dy="-6.6" font-size="11.3">2</tspan></text>
<text x="275.3" y="453.7" font-size="15.0" text-anchor="end">10<tspan dx="0.6" dy="-6.6" font-size="11.3">4</tspan></text>
<text x="316.1" y="611" font-size="15.0" text-anchor="middle">10<tspan dx="0.6" dy="-6.6" font-size="11.3">0</tspan></text>
<text x="408.8" y="611" font-size="15.0" text-anchor="middle">10<tspan dx="0.6" dy="-6.6" font-size="11.3">2</tspan></text>
<path d="M283.7 584.4v1.1 M283.7 445.8v-1.1M291.9 584.4v1.1 M291.9 445.8v-1.1M297.7 584.4v1.1 M297.7 445.8v-1.1M302.2 584.4v1.1 M302.2 445.8v-1.1M305.8 584.4v1.1 M305.8 445.8v-1.1M308.9 584.4v1.1 M308.9 445.8v-1.1M311.6 584.4v1.1 M311.6 445.8v-1.1M314 584.4v1.1 M314 445.8v-1.1M316.1 584.4v2.2 M316.1 445.8v-2.2M330.1 584.4v1.1 M330.1 445.8v-1.1M338.2 584.4v1.1 M338.2 445.8v-1.1M344 584.4v1.1 M344 445.8v-1.1M348.5 584.4v1.1 M348.5 445.8v-1.1M352.2 584.4v1.1 M352.2 445.8v-1.1M355.3 584.4v1.1 M355.3 445.8v-1.1M358 584.4v1.1 M358 445.8v-1.1M360.3 584.4v1.1 M360.3 445.8v-1.1M362.4 584.4v2.2 M362.4 445.8v-2.2M376.4 584.4v1.1 M376.4 445.8v-1.1M384.5 584.4v1.1 M384.5 445.8v-1.1M390.3 584.4v1.1 M390.3 445.8v-1.1M394.8 584.4v1.1 M394.8 445.8v-1.1M398.5 584.4v1.1 M398.5 445.8v-1.1M401.6 584.4v1.1 M401.6 445.8v-1.1M404.3 584.4v1.1 M404.3 445.8v-1.1M406.6 584.4v1.1 M406.6 445.8v-1.1M408.8 584.4v2.2 M408.8 445.8v-2.2M422.7 584.4v1.1 M422.7 445.8v-1.1M430.9 584.4v1.1 M430.9 445.8v-1.1M436.7 584.4v1.1 M436.7 445.8v-1.1M441.1 584.4v1.1 M441.1 445.8v-1.1M444.8 584.4v1.1 M444.8 445.8v-1.1M283.7 584.4h-2.2 M444.9 584.4h2.2M283.7 574h-1.1 M444.9 574h1.1M283.7 567.9h-1.1 M444.9 567.9h1.1M283.7 563.5h-1.1 M444.9 563.5h1.1M283.7 560.2h-1.1 M444.9 560.2h1.1M283.7 557.4h-1.1 M444.9 557.4h1.1M283.7 555.1h-1.1 M444.9 555.1h1.1M283.7 553.1h-1.1 M444.9 553.1h1.1M283.7 551.3h-1.1 M444.9 551.3h1.1M283.7 549.8h-2.2 M444.9 549.8h2.2M283.7 539.3h-1.1 M444.9 539.3h1.1M283.7 533.2h-1.1 M444.9 533.2h1.1M283.7 528.9h-1.1 M444.9 528.9h1.1M283.7 525.5h-1.1 M444.9 525.5h1.1M283.7 522.8h-1.1 M444.9 522.8h1.1M283.7 520.5h-1.1 M444.9 520.5h1.1M283.7 518.5h-1.1 M444.9 518.5h1.1M283.7 516.7h-1.1 M444.9 516.7h1.1M283.7 515.1h-2.2 M444.9 515.1h2.2M283.7 504.7h-1.1 M444.9 504.7h1.1M283.7 498.6h-1.1 M444.9 498.6h1.1M283.7 494.2h-1.1 M444.9 494.2h1.1M283.7 490.9h-1.1 M444.9 490.9h1.1M283.7 488.1h-1.1 M444.9 488.1h1.1M283.7 485.8h-1.1 M444.9 485.8h1.1M283.7 483.8h-1.1 M444.9 483.8h1.1M283.7 482h-1.1 M444.9 482h1.1M283.7 480.4h-2.2 M444.9 480.4h2.2M283.7 470h-1.1 M444.9 470h1.1M283.7 463.9h-1.1 M444.9 463.9h1.1M283.7 459.6h-1.1 M444.9 459.6h1.1M283.7 456.2h-1.1 M444.9 456.2h1.1M283.7 453.5h-1.1 M444.9 453.5h1.1M283.7 451.2h-1.1 M444.9 451.2h1.1M283.7 449.2h-1.1 M444.9 449.2h1.1M283.7 447.4h-1.1 M444.9 447.4h1.1M283.7 445.8h-2.2 M444.9 445.8h2.2" stroke="#262626" stroke-width="0.8" opacity="0.9" fill="none"/>
<text x="333.8" y="440.2" font-size="14.8" font-weight="bold" fill="#000">5</text>
<text x="349.4" y="440.2" font-size="14.8" fill="#000">S(B,</text>
<text x="381.4" y="440.2" font-family="Liberation Mono" font-style="italic" font-size="18" fill="#000">β</text>
<text x="392" y="440.2" font-size="14.8" fill="#000">)</text>
<text x="492.1" y="592.3" font-size="15.0" text-anchor="end">10<tspan dx="0.6" dy="-6.6" font-size="11.3">0</tspan></text>
<text x="492.1" y="523" font-size="15.0" text-anchor="end">10<tspan dx="0.6" dy="-6.6" font-size="11.3">2</tspan></text>
<text x="492.1" y="453.7" font-size="15.0" text-anchor="end">10<tspan dx="0.6" dy="-6.6" font-size="11.3">4</tspan></text>
<text x="532.9" y="611" font-size="15.0" text-anchor="middle">10<tspan dx="0.6" dy="-6.6" font-size="11.3">0</tspan></text>
<text x="625.6" y="611" font-size="15.0" text-anchor="middle">10<tspan dx="0.6" dy="-6.6" font-size="11.3">2</tspan></text>
<path d="M500.5 584.4v1.1 M500.5 445.8v-1.1M508.7 584.4v1.1 M508.7 445.8v-1.1M514.5 584.4v1.1 M514.5 445.8v-1.1M519 584.4v1.1 M519 445.8v-1.1M522.6 584.4v1.1 M522.6 445.8v-1.1M525.7 584.4v1.1 M525.7 445.8v-1.1M528.4 584.4v1.1 M528.4 445.8v-1.1M530.8 584.4v1.1 M530.8 445.8v-1.1M532.9 584.4v2.2 M532.9 445.8v-2.2M546.9 584.4v1.1 M546.9 445.8v-1.1M555 584.4v1.1 M555 445.8v-1.1M560.8 584.4v1.1 M560.8 445.8v-1.1M565.3 584.4v1.1 M565.3 445.8v-1.1M569 584.4v1.1 M569 445.8v-1.1M572.1 584.4v1.1 M572.1 445.8v-1.1M574.8 584.4v1.1 M574.8 445.8v-1.1M577.1 584.4v1.1 M577.1 445.8v-1.1M579.2 584.4v2.2 M579.2 445.8v-2.2M593.2 584.4v1.1 M593.2 445.8v-1.1M601.3 584.4v1.1 M601.3 445.8v-1.1M607.1 584.4v1.1 M607.1 445.8v-1.1M611.6 584.4v1.1 M611.6 445.8v-1.1M615.3 584.4v1.1 M615.3 445.8v-1.1M618.4 584.4v1.1 M618.4 445.8v-1.1M621.1 584.4v1.1 M621.1 445.8v-1.1M623.4 584.4v1.1 M623.4 445.8v-1.1M625.6 584.4v2.2 M625.6 445.8v-2.2M639.5 584.4v1.1 M639.5 445.8v-1.1M647.7 584.4v1.1 M647.7 445.8v-1.1M653.5 584.4v1.1 M653.5 445.8v-1.1M657.9 584.4v1.1 M657.9 445.8v-1.1M661.6 584.4v1.1 M661.6 445.8v-1.1M500.5 584.4h-2.2 M661.7 584.4h2.2M500.5 574h-1.1 M661.7 574h1.1M500.5 567.9h-1.1 M661.7 567.9h1.1M500.5 563.5h-1.1 M661.7 563.5h1.1M500.5 560.2h-1.1 M661.7 560.2h1.1M500.5 557.4h-1.1 M661.7 557.4h1.1M500.5 555.1h-1.1 M661.7 555.1h1.1M500.5 553.1h-1.1 M661.7 553.1h1.1M500.5 551.3h-1.1 M661.7 551.3h1.1M500.5 549.8h-2.2 M661.7 549.8h2.2M500.5 539.3h-1.1 M661.7 539.3h1.1M500.5 533.2h-1.1 M661.7 533.2h1.1M500.5 528.9h-1.1 M661.7 528.9h1.1M500.5 525.5h-1.1 M661.7 525.5h1.1M500.5 522.8h-1.1 M661.7 522.8h1.1M500.5 520.5h-1.1 M661.7 520.5h1.1M500.5 518.5h-1.1 M661.7 518.5h1.1M500.5 516.7h-1.1 M661.7 516.7h1.1M500.5 515.1h-2.2 M661.7 515.1h2.2M500.5 504.7h-1.1 M661.7 504.7h1.1M500.5 498.6h-1.1 M661.7 498.6h1.1M500.5 494.2h-1.1 M661.7 494.2h1.1M500.5 490.9h-1.1 M661.7 490.9h1.1M500.5 488.1h-1.1 M661.7 488.1h1.1M500.5 485.8h-1.1 M661.7 485.8h1.1M500.5 483.8h-1.1 M661.7 483.8h1.1M500.5 482h-1.1 M661.7 482h1.1M500.5 480.4h-2.2 M661.7 480.4h2.2M500.5 470h-1.1 M661.7 470h1.1M500.5 463.9h-1.1 M661.7 463.9h1.1M500.5 459.6h-1.1 M661.7 459.6h1.1M500.5 456.2h-1.1 M661.7 456.2h1.1M500.5 453.5h-1.1 M661.7 453.5h1.1M500.5 451.2h-1.1 M661.7 451.2h1.1M500.5 449.2h-1.1 M661.7 449.2h1.1M500.5 447.4h-1.1 M661.7 447.4h1.1M500.5 445.8h-2.2 M661.7 445.8h2.2" stroke="#262626" stroke-width="0.8" opacity="0.9" fill="none"/>
<text x="551.9" y="440.2" font-size="14.8" font-weight="bold" fill="#000">6</text>
<text x="567.5" y="440.2" font-size="14.8" fill="#000">S(C,</text>
<text x="599.5" y="440.2" font-family="Liberation Mono" font-style="italic" font-size="18" fill="#000">β</text>
<text x="610.1" y="440.2" font-size="14.8" fill="#000">)</text>
<text transform="translate(19.4,515.6) rotate(-90)" font-size="15.6" text-anchor="middle"><tspan font-family="Liberation Serif" font-style="italic" font-size="17" fill="#666">τ</tspan><tspan dy="7.2" font-size="11.8">1</tspan><tspan dy="-7.2"> in ms</tspan></text>
<text x="58.3" y="797.8" font-size="15.0" text-anchor="end">10<tspan dx="0.6" dy="-6.6" font-size="11.3">0</tspan></text>
<text x="58.3" y="713.1" font-size="15.0" text-anchor="end">10<tspan dx="0.6" dy="-6.6" font-size="11.3">2</tspan></text>
<text x="99.1" y="829.2" font-size="15.0" text-anchor="middle">10<tspan dx="0.6" dy="-6.6" font-size="11.3">0</tspan></text>
<text x="191.8" y="829.2" font-size="15.0" text-anchor="middle">10<tspan dx="0.6" dy="-6.6" font-size="11.3">2</tspan></text>
<path d="M66.7 802.6v1.1 M66.7 662.9v-1.1M74.9 802.6v1.1 M74.9 662.9v-1.1M80.7 802.6v1.1 M80.7 662.9v-1.1M85.2 802.6v1.1 M85.2 662.9v-1.1M88.8 802.6v1.1 M88.8 662.9v-1.1M91.9 802.6v1.1 M91.9 662.9v-1.1M94.6 802.6v1.1 M94.6 662.9v-1.1M97 802.6v1.1 M97 662.9v-1.1M99.1 802.6v2.2 M99.1 662.9v-2.2M113.1 802.6v1.1 M113.1 662.9v-1.1M121.2 802.6v1.1 M121.2 662.9v-1.1M127 802.6v1.1 M127 662.9v-1.1M131.5 802.6v1.1 M131.5 662.9v-1.1M135.2 802.6v1.1 M135.2 662.9v-1.1M138.3 802.6v1.1 M138.3 662.9v-1.1M141 802.6v1.1 M141 662.9v-1.1M143.3 802.6v1.1 M143.3 662.9v-1.1M145.4 802.6v2.2 M145.4 662.9v-2.2M159.4 802.6v1.1 M159.4 662.9v-1.1M167.5 802.6v1.1 M167.5 662.9v-1.1M173.3 802.6v1.1 M173.3 662.9v-1.1M177.8 802.6v1.1 M177.8 662.9v-1.1M181.5 802.6v1.1 M181.5 662.9v-1.1M184.6 802.6v1.1 M184.6 662.9v-1.1M187.3 802.6v1.1 M187.3 662.9v-1.1M189.6 802.6v1.1 M189.6 662.9v-1.1M191.8 802.6v2.2 M191.8 662.9v-2.2M205.7 802.6v1.1 M205.7 662.9v-1.1M213.9 802.6v1.1 M213.9 662.9v-1.1M219.7 802.6v1.1 M219.7 662.9v-1.1M224.1 802.6v1.1 M224.1 662.9v-1.1M227.8 802.6v1.1 M227.8 662.9v-1.1M66.7 799.3h-1.1 M227.9 799.3h1.1M66.7 796.5h-1.1 M227.9 796.5h1.1M66.7 794h-1.1 M227.9 794h1.1M66.7 791.8h-1.1 M227.9 791.8h1.1M66.7 789.9h-2.2 M227.9 789.9h2.2M66.7 777.2h-1.1 M227.9 777.2h1.1M66.7 769.7h-1.1 M227.9 769.7h1.1M66.7 764.4h-1.1 M227.9 764.4h1.1M66.7 760.3h-1.1 M227.9 760.3h1.1M66.7 757h-1.1 M227.9 757h1.1M66.7 754.1h-1.1 M227.9 754.1h1.1M66.7 751.7h-1.1 M227.9 751.7h1.1M66.7 749.5h-1.1 M227.9 749.5h1.1M66.7 747.6h-2.2 M227.9 747.6h2.2M66.7 734.8h-1.1 M227.9 734.8h1.1M66.7 727.4h-1.1 M227.9 727.4h1.1M66.7 722.1h-1.1 M227.9 722.1h1.1M66.7 718h-1.1 M227.9 718h1.1M66.7 714.6h-1.1 M227.9 714.6h1.1M66.7 711.8h-1.1 M227.9 711.8h1.1M66.7 709.3h-1.1 M227.9 709.3h1.1M66.7 707.2h-1.1 M227.9 707.2h1.1M66.7 705.2h-2.2 M227.9 705.2h2.2M66.7 692.5h-1.1 M227.9 692.5h1.1M66.7 685h-1.1 M227.9 685h1.1M66.7 679.7h-1.1 M227.9 679.7h1.1M66.7 675.6h-1.1 M227.9 675.6h1.1M66.7 672.3h-1.1 M227.9 672.3h1.1M66.7 669.5h-1.1 M227.9 669.5h1.1M66.7 667h-1.1 M227.9 667h1.1M66.7 664.8h-1.1 M227.9 664.8h1.1M66.7 662.9h-2.2 M227.9 662.9h2.2" stroke="#262626" stroke-width="0.8" opacity="0.9" fill="none"/>
<text x="115.1" y="657.3" font-size="14.8" font-weight="bold" fill="#000">7</text>
<text x="130.7" y="657.3" font-size="14.8" fill="#000">S(A,</text>
<text x="162.5" y="657.3" font-size="14.8" fill="#000">γ</text>
<text x="171.1" y="657.3" font-size="14.8" fill="#000">)</text>
<text x="147.3" y="849.9" font-size="15.6" text-anchor="middle"><tspan font-family="Liberation Serif" font-style="italic" font-size="17" fill="#666">τ</tspan><tspan dy="7.2" font-size="11.8">2</tspan><tspan dy="-7.2"> in ms</tspan></text>
<text x="275.3" y="797.8" font-size="15.0" text-anchor="end">10<tspan dx="0.6" dy="-6.6" font-size="11.3">0</tspan></text>
<text x="275.3" y="713.1" font-size="15.0" text-anchor="end">10<tspan dx="0.6" dy="-6.6" font-size="11.3">2</tspan></text>
<text x="316.1" y="829.2" font-size="15.0" text-anchor="middle">10<tspan dx="0.6" dy="-6.6" font-size="11.3">0</tspan></text>
<text x="408.8" y="829.2" font-size="15.0" text-anchor="middle">10<tspan dx="0.6" dy="-6.6" font-size="11.3">2</tspan></text>
<path d="M283.7 802.6v1.1 M283.7 662.9v-1.1M291.9 802.6v1.1 M291.9 662.9v-1.1M297.7 802.6v1.1 M297.7 662.9v-1.1M302.2 802.6v1.1 M302.2 662.9v-1.1M305.8 802.6v1.1 M305.8 662.9v-1.1M308.9 802.6v1.1 M308.9 662.9v-1.1M311.6 802.6v1.1 M311.6 662.9v-1.1M314 802.6v1.1 M314 662.9v-1.1M316.1 802.6v2.2 M316.1 662.9v-2.2M330.1 802.6v1.1 M330.1 662.9v-1.1M338.2 802.6v1.1 M338.2 662.9v-1.1M344 802.6v1.1 M344 662.9v-1.1M348.5 802.6v1.1 M348.5 662.9v-1.1M352.2 802.6v1.1 M352.2 662.9v-1.1M355.3 802.6v1.1 M355.3 662.9v-1.1M358 802.6v1.1 M358 662.9v-1.1M360.3 802.6v1.1 M360.3 662.9v-1.1M362.4 802.6v2.2 M362.4 662.9v-2.2M376.4 802.6v1.1 M376.4 662.9v-1.1M384.5 802.6v1.1 M384.5 662.9v-1.1M390.3 802.6v1.1 M390.3 662.9v-1.1M394.8 802.6v1.1 M394.8 662.9v-1.1M398.5 802.6v1.1 M398.5 662.9v-1.1M401.6 802.6v1.1 M401.6 662.9v-1.1M404.3 802.6v1.1 M404.3 662.9v-1.1M406.6 802.6v1.1 M406.6 662.9v-1.1M408.8 802.6v2.2 M408.8 662.9v-2.2M422.7 802.6v1.1 M422.7 662.9v-1.1M430.9 802.6v1.1 M430.9 662.9v-1.1M436.7 802.6v1.1 M436.7 662.9v-1.1M441.1 802.6v1.1 M441.1 662.9v-1.1M444.8 802.6v1.1 M444.8 662.9v-1.1M283.7 799.3h-1.1 M444.9 799.3h1.1M283.7 796.5h-1.1 M444.9 796.5h1.1M283.7 794h-1.1 M444.9 794h1.1M283.7 791.8h-1.1 M444.9 791.8h1.1M283.7 789.9h-2.2 M444.9 789.9h2.2M283.7 777.2h-1.1 M444.9 777.2h1.1M283.7 769.7h-1.1 M444.9 769.7h1.1M283.7 764.4h-1.1 M444.9 764.4h1.1M283.7 760.3h-1.1 M444.9 760.3h1.1M283.7 757h-1.1 M444.9 757h1.1M283.7 754.1h-1.1 M444.9 754.1h1.1M283.7 751.7h-1.1 M444.9 751.7h1.1M283.7 749.5h-1.1 M444.9 749.5h1.1M283.7 747.6h-2.2 M444.9 747.6h2.2M283.7 734.8h-1.1 M444.9 734.8h1.1M283.7 727.4h-1.1 M444.9 727.4h1.1M283.7 722.1h-1.1 M444.9 722.1h1.1M283.7 718h-1.1 M444.9 718h1.1M283.7 714.6h-1.1 M444.9 714.6h1.1M283.7 711.8h-1.1 M444.9 711.8h1.1M283.7 709.3h-1.1 M444.9 709.3h1.1M283.7 707.2h-1.1 M444.9 707.2h1.1M283.7 705.2h-2.2 M444.9 705.2h2.2M283.7 692.5h-1.1 M444.9 692.5h1.1M283.7 685h-1.1 M444.9 685h1.1M283.7 679.7h-1.1 M444.9 679.7h1.1M283.7 675.6h-1.1 M444.9 675.6h1.1M283.7 672.3h-1.1 M444.9 672.3h1.1M283.7 669.5h-1.1 M444.9 669.5h1.1M283.7 667h-1.1 M444.9 667h1.1M283.7 664.8h-1.1 M444.9 664.8h1.1M283.7 662.9h-2.2 M444.9 662.9h2.2" stroke="#262626" stroke-width="0.8" opacity="0.9" fill="none"/>
<text x="333.8" y="657.3" font-size="14.8" font-weight="bold" fill="#000">8</text>
<text x="349.4" y="657.3" font-size="14.8" fill="#000">S(B,</text>
<text x="381.2" y="657.3" font-size="14.8" fill="#000">γ</text>
<text x="389.8" y="657.3" font-size="14.8" fill="#000">)</text>
<text x="364.3" y="849.9" font-size="15.6" text-anchor="middle"><tspan font-family="Liberation Serif" font-style="italic" font-size="17" fill="#666">τ</tspan><tspan dy="7.2" font-size="11.8">2</tspan><tspan dy="-7.2"> in ms</tspan></text>
<text x="492.1" y="797.8" font-size="15.0" text-anchor="end">10<tspan dx="0.6" dy="-6.6" font-size="11.3">0</tspan></text>
<text x="492.1" y="713.1" font-size="15.0" text-anchor="end">10<tspan dx="0.6" dy="-6.6" font-size="11.3">2</tspan></text>
<text x="532.9" y="829.2" font-size="15.0" text-anchor="middle">10<tspan dx="0.6" dy="-6.6" font-size="11.3">0</tspan></text>
<text x="625.6" y="829.2" font-size="15.0" text-anchor="middle">10<tspan dx="0.6" dy="-6.6" font-size="11.3">2</tspan></text>
<path d="M500.5 802.6v1.1 M500.5 662.9v-1.1M508.7 802.6v1.1 M508.7 662.9v-1.1M514.5 802.6v1.1 M514.5 662.9v-1.1M519 802.6v1.1 M519 662.9v-1.1M522.6 802.6v1.1 M522.6 662.9v-1.1M525.7 802.6v1.1 M525.7 662.9v-1.1M528.4 802.6v1.1 M528.4 662.9v-1.1M530.8 802.6v1.1 M530.8 662.9v-1.1M532.9 802.6v2.2 M532.9 662.9v-2.2M546.9 802.6v1.1 M546.9 662.9v-1.1M555 802.6v1.1 M555 662.9v-1.1M560.8 802.6v1.1 M560.8 662.9v-1.1M565.3 802.6v1.1 M565.3 662.9v-1.1M569 802.6v1.1 M569 662.9v-1.1M572.1 802.6v1.1 M572.1 662.9v-1.1M574.8 802.6v1.1 M574.8 662.9v-1.1M577.1 802.6v1.1 M577.1 662.9v-1.1M579.2 802.6v2.2 M579.2 662.9v-2.2M593.2 802.6v1.1 M593.2 662.9v-1.1M601.3 802.6v1.1 M601.3 662.9v-1.1M607.1 802.6v1.1 M607.1 662.9v-1.1M611.6 802.6v1.1 M611.6 662.9v-1.1M615.3 802.6v1.1 M615.3 662.9v-1.1M618.4 802.6v1.1 M618.4 662.9v-1.1M621.1 802.6v1.1 M621.1 662.9v-1.1M623.4 802.6v1.1 M623.4 662.9v-1.1M625.6 802.6v2.2 M625.6 662.9v-2.2M639.5 802.6v1.1 M639.5 662.9v-1.1M647.7 802.6v1.1 M647.7 662.9v-1.1M653.5 802.6v1.1 M653.5 662.9v-1.1M657.9 802.6v1.1 M657.9 662.9v-1.1M661.6 802.6v1.1 M661.6 662.9v-1.1M500.5 799.3h-1.1 M661.7 799.3h1.1M500.5 796.5h-1.1 M661.7 796.5h1.1M500.5 794h-1.1 M661.7 794h1.1M500.5 791.8h-1.1 M661.7 791.8h1.1M500.5 789.9h-2.2 M661.7 789.9h2.2M500.5 777.2h-1.1 M661.7 777.2h1.1M500.5 769.7h-1.1 M661.7 769.7h1.1M500.5 764.4h-1.1 M661.7 764.4h1.1M500.5 760.3h-1.1 M661.7 760.3h1.1M500.5 757h-1.1 M661.7 757h1.1M500.5 754.1h-1.1 M661.7 754.1h1.1M500.5 751.7h-1.1 M661.7 751.7h1.1M500.5 749.5h-1.1 M661.7 749.5h1.1M500.5 747.6h-2.2 M661.7 747.6h2.2M500.5 734.8h-1.1 M661.7 734.8h1.1M500.5 727.4h-1.1 M661.7 727.4h1.1M500.5 722.1h-1.1 M661.7 722.1h1.1M500.5 718h-1.1 M661.7 718h1.1M500.5 714.6h-1.1 M661.7 714.6h1.1M500.5 711.8h-1.1 M661.7 711.8h1.1M500.5 709.3h-1.1 M661.7 709.3h1.1M500.5 707.2h-1.1 M661.7 707.2h1.1M500.5 705.2h-2.2 M661.7 705.2h2.2M500.5 692.5h-1.1 M661.7 692.5h1.1M500.5 685h-1.1 M661.7 685h1.1M500.5 679.7h-1.1 M661.7 679.7h1.1M500.5 675.6h-1.1 M661.7 675.6h1.1M500.5 672.3h-1.1 M661.7 672.3h1.1M500.5 669.5h-1.1 M661.7 669.5h1.1M500.5 667h-1.1 M661.7 667h1.1M500.5 664.8h-1.1 M661.7 664.8h1.1M500.5 662.9h-2.2 M661.7 662.9h2.2" stroke="#262626" stroke-width="0.8" opacity="0.9" fill="none"/>
<text x="551.9" y="657.3" font-size="14.8" font-weight="bold" fill="#000">9</text>
<text x="567.5" y="657.3" font-size="14.8" fill="#000">S(C,</text>
<text x="599.3" y="657.3" font-size="14.8" fill="#000">γ</text>
<text x="607.9" y="657.3" font-size="14.8" fill="#000">)</text>
<text x="581.1" y="849.9" font-size="15.6" text-anchor="middle"><tspan font-family="Liberation Serif" font-style="italic" font-size="17" fill="#666">τ</tspan><tspan dy="7.2" font-size="11.8">2</tspan><tspan dy="-7.2"> in ms</tspan></text>
<text transform="translate(19.4,733.2) rotate(-90)" font-size="15.6" text-anchor="middle"><tspan font-family="Liberation Serif" font-style="italic" font-size="17" fill="#666">τ</tspan><tspan dy="7.2" font-size="11.8">1</tspan><tspan dy="-7.2"> in ms</tspan></text>
<path d="M2.7 204.4L243.7 204.9L243.7 405.3L459.2 406.5L459.2 626.4L682.8 626.5L682.8 864.6L456.6 864.5L456.5 633.3L244.9 633.3L244.8 413L2.7 413z" fill="none" stroke="#ffc000" stroke-width="3.1" stroke-linejoin="round"/>
<path d="M250.2 205.6L683.4 207.3L683.4 618.6L466.6 618.5L466.5 400.4L250.2 399.4z" fill="none" stroke="#00b0f0" stroke-width="3.1" stroke-linejoin="round"/>
<path d="M2.5 418.8L238.2 418.8L237.6 641.4L451.2 642.4L451.4 864.6L2.5 865.6z" fill="none" stroke="#ff0000" stroke-width="3.1" stroke-linejoin="round"/>
</svg></body></html>
